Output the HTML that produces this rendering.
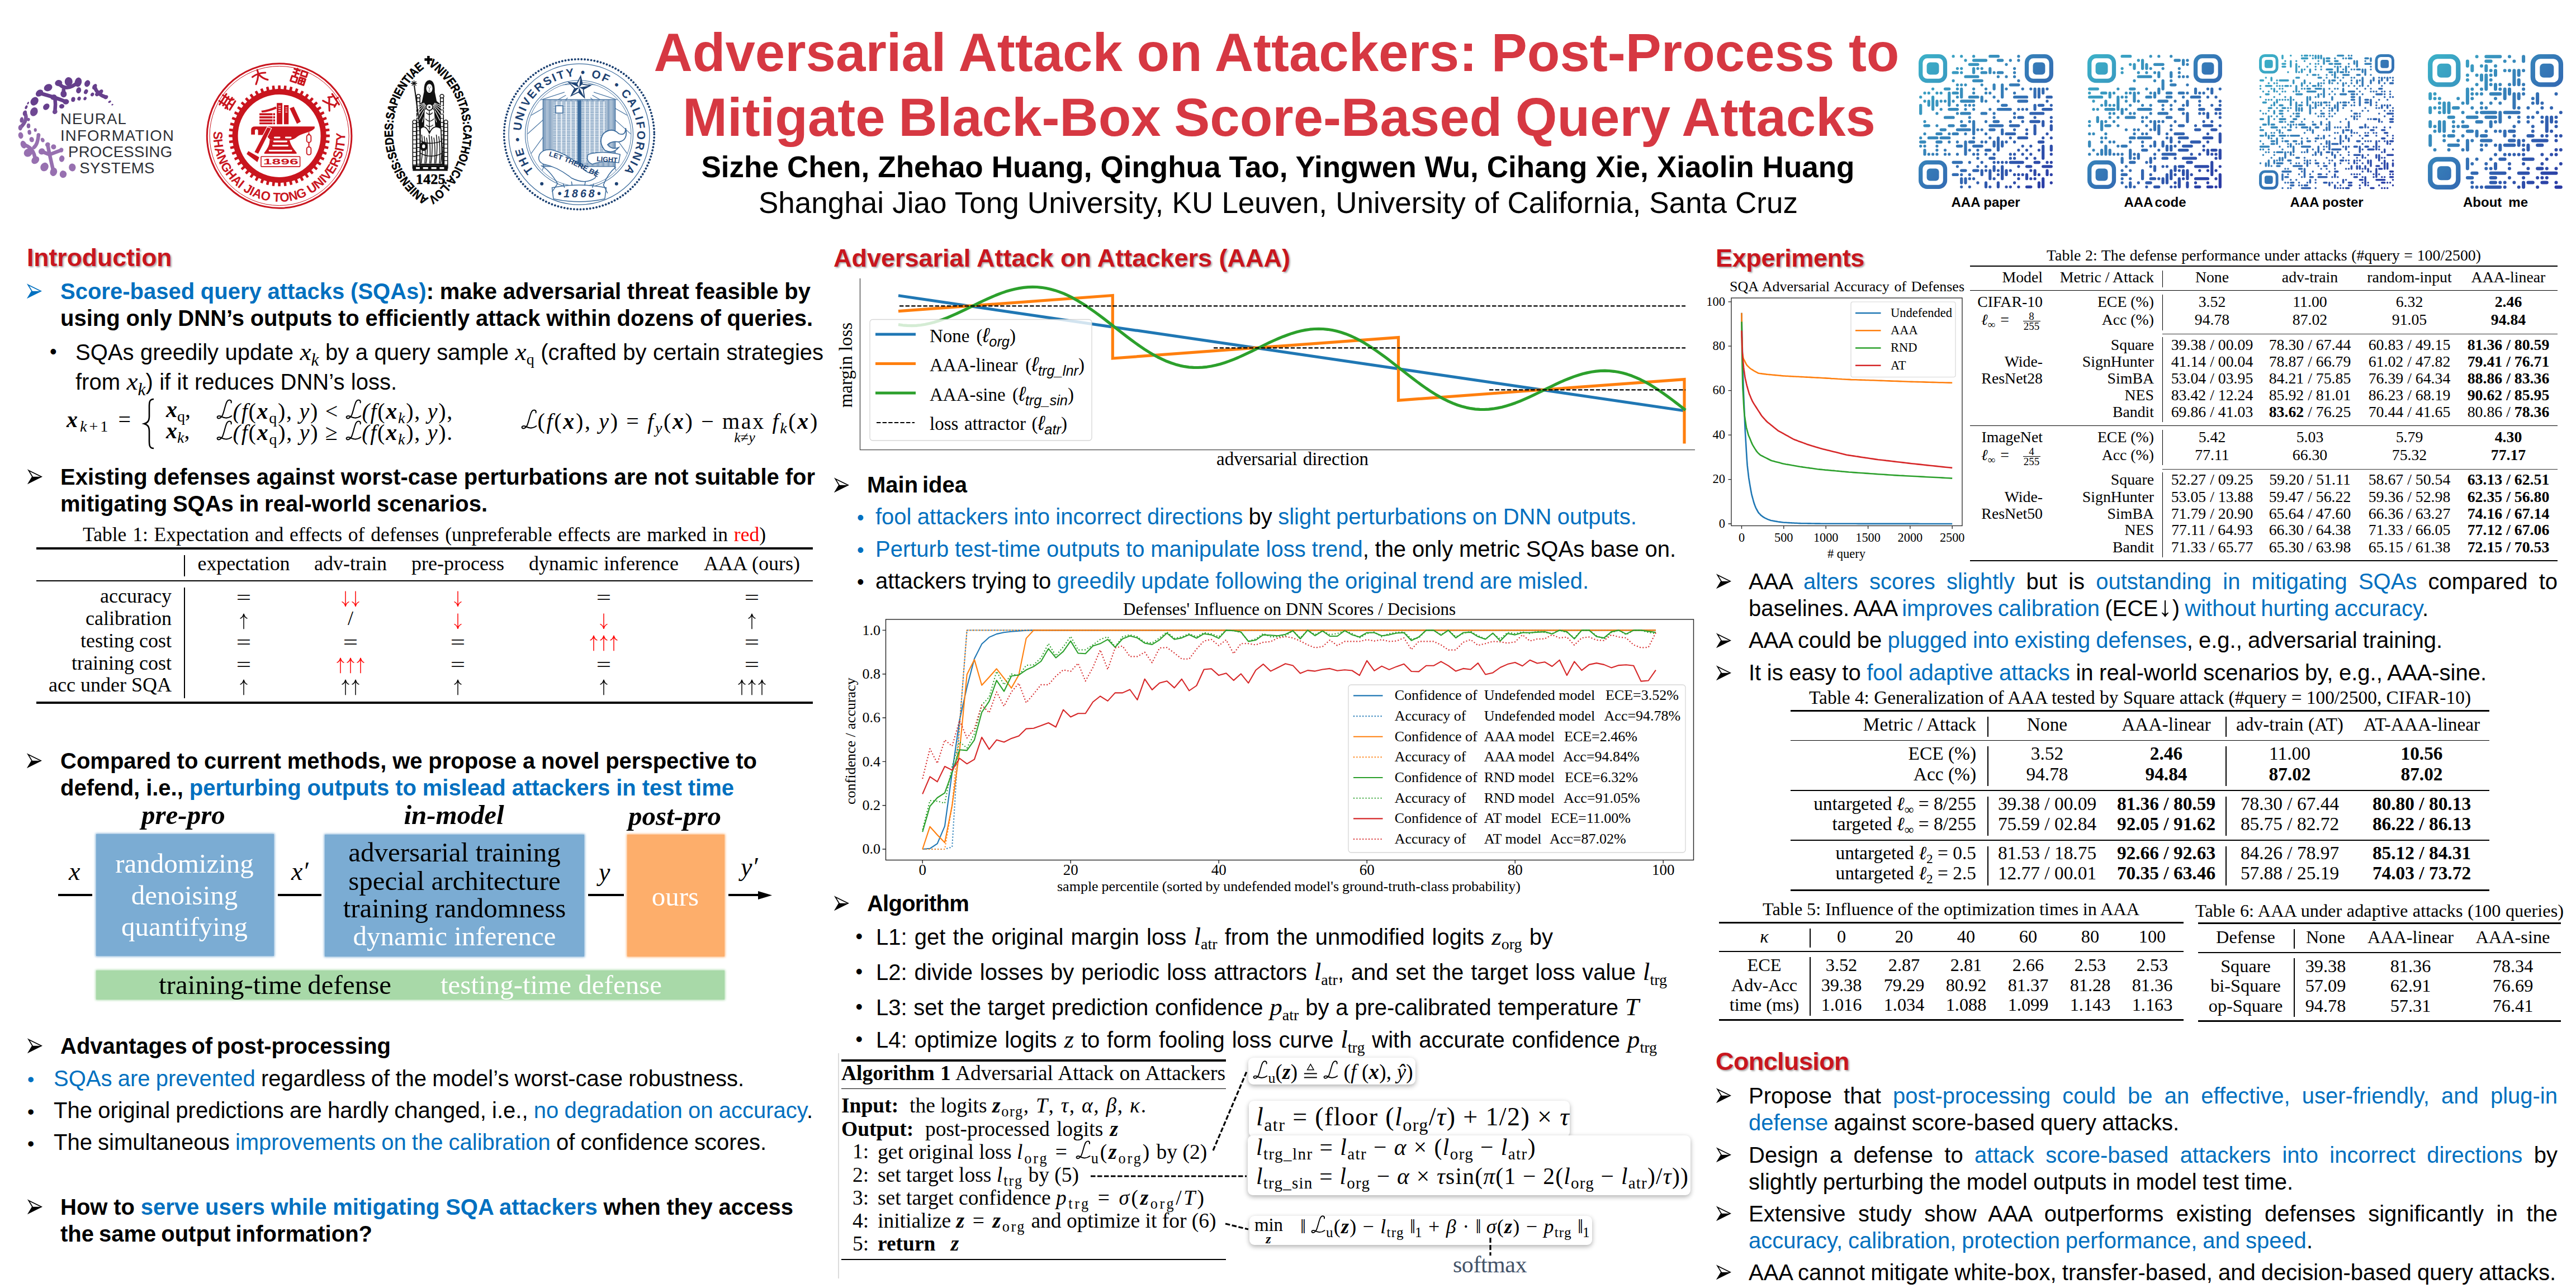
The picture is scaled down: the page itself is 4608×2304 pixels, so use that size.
<!DOCTYPE html>
<html lang="en"><head><meta charset="utf-8"><title>AAA poster</title>
<style>

html,body{margin:0;padding:0;background:#fff;}
#page{position:relative;width:4608px;height:2304px;overflow:hidden;background:#fff;font-family:"Liberation Sans",sans-serif;color:#000;}
.t{position:absolute;white-space:nowrap;line-height:1;}
.s{font-family:"Liberation Sans",sans-serif;}
.r{font-family:"Liberation Serif",serif;}
.b{color:#0070c0;}
.rd{color:#ff0000;}
.m{font-family:"Liberation Serif",serif;font-style:italic;}
.mr{font-family:"Liberation Serif",serif;font-style:normal;}
.bi{font-family:"Liberation Serif",serif;font-style:italic;font-weight:bold;}
sub,sup{font-size:.7em;line-height:0;position:relative;vertical-align:baseline;}
sub{top:.3em;}
sup{top:-.45em;}
svg{position:absolute;overflow:visible;}
.h{color:#c8161e;font-weight:bold;text-shadow:2px 2px 3px rgba(0,0,0,.35);}
.bx{position:absolute;}
.ln{position:absolute;background:#000;}
svg.cl{position:static;display:inline-block;width:.74em;height:.97em;vertical-align:-.06em;overflow:visible;}
.eq{display:inline-block;transform:scaleX(1.3);position:relative;top:.08em;}
svg.ua{position:static;display:inline-block;width:.5em;height:.8em;vertical-align:-.2em;overflow:visible;}
.m sub{font-style:italic;}
.ds{font-family:"Liberation Sans",sans-serif;font-style:italic;font-size:1.1em;}
.mm{font-size:1.13em;}
svg.deq{position:static;display:inline-block;width:.72em;height:.86em;vertical-align:-.08em;overflow:visible;}
.nb{letter-spacing:-.03em;}
.n0{letter-spacing:0;}

</style></head>
<body>
<div id="page">
<div class="t s" style="left:1169.5px;top:45.7px;font-size:96px;color:#d63842;font-weight:bold;word-spacing:-1.137px;">Adversarial Attack on Attackers: Post-Process to</div>
<div class="t s" style="left:1221.0px;top:161.7px;font-size:96px;color:#d63842;font-weight:bold;word-spacing:-3.125px;">Mitigate Black-Box Score-Based Query Attacks</div>
<div class="t s" style="left:1254.5px;top:271.6px;font-size:53px;font-weight:bold;word-spacing:0.339px;">Sizhe Chen, Zhehao Huang, Qinghua Tao, Yingwen Wu, Cihang Xie, Xiaolin Huang</div>
<div class="t s" style="left:1357.0px;top:335.6px;font-size:53px;word-spacing:0.503px;">Shanghai Jiao Tong University, KU Leuven, University of California, Santa Cruz</div>
<div class="t s" style="left:3490.5px;top:349.7px;font-size:24px;font-weight:bold;">AAA paper</div>
<div class="t s" style="left:3799.5px;top:349.7px;font-size:24px;font-weight:bold;word-spacing:-2.797px;">AAA code</div>
<div class="t s" style="left:4096.5px;top:349.7px;font-size:24px;font-weight:bold;">AAA poster</div>
<div class="t s" style="left:4406.0px;top:349.7px;font-size:24px;font-weight:bold;word-spacing:5.328px;">About me</div>
<svg style="left:0;top:100px" width="360" height="260" viewBox="0 100 360 260"><g transform="translate(20 120) scale(.1631)"><path d="M520 175 C575 250 650 235 735 165" fill="none" stroke="#663f8c" stroke-width="40" stroke-linecap="round"/><path d="M310 285 C400 310 480 330 600 380" fill="none" stroke="#663f8c" stroke-width="40" stroke-linecap="round"/><path d="M480 330 Q490 410 480 490" fill="none" stroke="#663f8c" stroke-width="40" stroke-linecap="round"/><path d="M575 250 L575 295" fill="none" stroke="#663f8c" stroke-width="40" stroke-linecap="round"/><path d="M915 215 Q940 300 1040 330" fill="none" stroke="#663f8c" stroke-width="40" stroke-linecap="round"/><path d="M940 300 L985 270" fill="none" stroke="#663f8c" stroke-width="40" stroke-linecap="round"/><path d="M150 505 Q190 575 100 665" fill="none" stroke="#7d569d" stroke-width="40" stroke-linecap="round"/><path d="M135 850 Q250 880 265 1020" fill="none" stroke="#9770b0" stroke-width="40" stroke-linecap="round"/><path d="M300 745 Q290 850 250 880" fill="none" stroke="#9770b0" stroke-width="40" stroke-linecap="round"/><path d="M400 850 Q420 960 465 1150" fill="none" stroke="#9770b0" stroke-width="40" stroke-linecap="round"/><path d="M420 960 L550 910" fill="none" stroke="#9770b0" stroke-width="40" stroke-linecap="round"/><path d="M335 925 L420 960" fill="none" stroke="#9770b0" stroke-width="40" stroke-linecap="round"/><ellipse cx="630" cy="160" rx="43" ry="49" fill="#663f8c" transform="rotate(1 630 160)"/><ellipse cx="735" cy="165" rx="38" ry="52" fill="#663f8c" transform="rotate(13 735 165)"/><ellipse cx="835" cy="180" rx="30" ry="38" fill="#663f8c" transform="rotate(24 835 180)"/><ellipse cx="915" cy="215" rx="22" ry="34" fill="#663f8c" transform="rotate(33 915 215)"/><ellipse cx="985" cy="270" rx="19" ry="27" fill="#663f8c" transform="rotate(43 985 270)"/><ellipse cx="520" cy="175" rx="40" ry="34" fill="#663f8c" transform="rotate(-12 520 175)"/><ellipse cx="405" cy="225" rx="47" ry="38" fill="#663f8c" transform="rotate(-27 405 225)"/><ellipse cx="310" cy="285" rx="45" ry="34" fill="#663f8c" transform="rotate(-40 310 285)"/><ellipse cx="255" cy="375" rx="50" ry="40" fill="#663f8c" transform="rotate(-52 255 375)"/><ellipse cx="250" cy="490" rx="50" ry="40" fill="#6f4893" transform="rotate(-65 250 490)"/><ellipse cx="385" cy="435" rx="39" ry="31" fill="#67408d" transform="rotate(-46 385 435)"/><ellipse cx="555" cy="430" rx="28" ry="25" fill="#663f8c" transform="rotate(-16 555 430)"/><ellipse cx="575" cy="295" rx="34" ry="38" fill="#663f8c" transform="rotate(-7 575 295)"/><ellipse cx="740" cy="255" rx="27" ry="34" fill="#663f8c" transform="rotate(16 740 255)"/><ellipse cx="820" cy="270" rx="21" ry="28" fill="#663f8c" transform="rotate(27 820 270)"/><ellipse cx="890" cy="300" rx="18" ry="22" fill="#663f8c" transform="rotate(36 890 300)"/><ellipse cx="680" cy="355" rx="22" ry="27" fill="#663f8c" transform="rotate(11 680 355)"/><ellipse cx="745" cy="345" rx="19" ry="22" fill="#663f8c" transform="rotate(21 745 345)"/><ellipse cx="810" cy="345" rx="16" ry="20" fill="#663f8c" transform="rotate(31 810 345)"/><ellipse cx="1040" cy="330" rx="18" ry="25" fill="#663f8c" transform="rotate(51 1040 330)"/><ellipse cx="1080" cy="380" rx="11" ry="18" fill="#663f8c" transform="rotate(58 1080 380)"/><ellipse cx="1110" cy="412" rx="8" ry="11" fill="#663f8c" transform="rotate(63 1110 412)"/><ellipse cx="480" cy="490" rx="28" ry="25" fill="#6f4893" transform="rotate(-40 480 490)"/><ellipse cx="600" cy="380" rx="34" ry="29" fill="#663f8c" transform="rotate(-5 600 380)"/><ellipse cx="465" cy="330" rx="34" ry="29" fill="#663f8c" transform="rotate(-25 465 330)"/><ellipse cx="185" cy="395" rx="16" ry="9" fill="#663f8c" transform="rotate(-59 185 395)"/><ellipse cx="165" cy="440" rx="22" ry="13" fill="#67408d" transform="rotate(-64 165 440)"/><ellipse cx="150" cy="505" rx="31" ry="22" fill="#714a94" transform="rotate(-72 150 505)"/><ellipse cx="115" cy="580" rx="31" ry="20" fill="#7c559c" transform="rotate(-81 115 580)"/><ellipse cx="190" cy="575" rx="18" ry="16" fill="#7c559c" transform="rotate(-79 190 575)"/><ellipse cx="100" cy="665" rx="31" ry="22" fill="#8962a6" transform="rotate(270 100 665)"/><ellipse cx="190" cy="645" rx="27" ry="20" fill="#865fa3" transform="rotate(-88 190 645)"/><ellipse cx="265" cy="690" rx="20" ry="16" fill="#8d66a8" transform="rotate(266 265 690)"/><ellipse cx="200" cy="715" rx="27" ry="20" fill="#9069ab" transform="rotate(263 200 715)"/><ellipse cx="105" cy="750" rx="36" ry="27" fill="#966faf" transform="rotate(260 105 750)"/><ellipse cx="300" cy="745" rx="20" ry="20" fill="#956eae" transform="rotate(256 300 745)"/><ellipse cx="225" cy="795" rx="29" ry="25" fill="#9770b0" transform="rotate(252 225 795)"/><ellipse cx="345" cy="800" rx="25" ry="20" fill="#9770b0" transform="rotate(244 345 800)"/><ellipse cx="135" cy="850" rx="43" ry="31" fill="#9770b0" transform="rotate(249 135 850)"/><ellipse cx="185" cy="940" rx="43" ry="47" fill="#9770b0" transform="rotate(238 185 940)"/><ellipse cx="335" cy="925" rx="34" ry="36" fill="#9770b0" transform="rotate(228 335 925)"/><ellipse cx="400" cy="850" rx="25" ry="27" fill="#9770b0" transform="rotate(230 400 850)"/><ellipse cx="465" cy="875" rx="28" ry="28" fill="#9770b0" transform="rotate(217 465 875)"/><ellipse cx="265" cy="1020" rx="38" ry="47" fill="#9770b0" transform="rotate(225 265 1020)"/><ellipse cx="365" cy="1095" rx="43" ry="49" fill="#9770b0" transform="rotate(211 365 1095)"/><ellipse cx="465" cy="1150" rx="38" ry="47" fill="#9770b0" transform="rotate(198 465 1150)"/><ellipse cx="555" cy="1005" rx="29" ry="36" fill="#9770b0" transform="rotate(191 555 1005)"/><ellipse cx="570" cy="1175" rx="38" ry="40" fill="#9770b0" transform="rotate(186 570 1175)"/><ellipse cx="670" cy="1100" rx="38" ry="43" fill="#9770b0" transform="rotate(174 670 1100)"/><ellipse cx="550" cy="910" rx="22" ry="25" fill="#9770b0" transform="rotate(196 550 910)"/></g></svg>
<div class="t s" style="left:108.0px;top:199.2px;font-size:27.5px;color:#2d3036;letter-spacing:1.240px;">NEURAL</div>
<div class="t s" style="left:108.0px;top:229.2px;font-size:27.5px;color:#2d3036;letter-spacing:1.232px;">INFORMATION</div>
<div class="t s" style="left:122.0px;top:258.2px;font-size:27.5px;color:#2d3036;letter-spacing:0.312px;">PROCESSING</div>
<div class="t s" style="left:142.3px;top:286.7px;font-size:27.5px;color:#2d3036;letter-spacing:0.440px;">SYSTEMS</div>
<svg style="left:360px;top:105px" width="285" height="285" viewBox="360 105 285 285"><circle cx="499.6" cy="243.0" r="129.3" fill="#fff" stroke="#c9151e" stroke-width="3"/><circle cx="499.6" cy="243.0" r="124.6" fill="none" stroke="#c9151e" stroke-width="1"/><path d="M583.4 237.9 L583.6 240.6 L589.9 240.8 L589.9 245.2 L583.6 245.4 L583.4 248.1 L583.2 250.7 L589.5 251.7 L589.0 256.0 L582.7 255.5 L582.2 258.1 L581.7 260.7 L587.8 262.5 L586.7 266.7 L580.5 265.5 L579.8 268.0 L579.0 270.5 L584.8 273.0 L583.2 277.1 L577.2 275.1 L576.2 277.5 L575.1 279.9 L580.5 283.0 L578.5 286.9 L572.8 284.2 L571.5 286.5 L570.1 288.7 L575.1 292.5 L572.7 296.1 L567.3 292.7 L565.7 294.8 L564.1 296.9 L568.6 301.2 L565.7 304.5 L560.8 300.5 L559.0 302.4 L557.1 304.2 L561.1 309.1 L557.8 312.0 L553.5 307.5 L551.4 309.1 L549.3 310.7 L552.7 316.1 L549.1 318.5 L545.3 313.5 L543.1 314.9 L540.8 316.2 L543.5 321.9 L539.6 323.9 L536.5 318.5 L534.1 319.6 L531.7 320.6 L533.7 326.6 L529.6 328.2 L527.1 322.4 L524.6 323.2 L522.1 323.9 L523.3 330.1 L519.1 331.2 L517.3 325.1 L514.7 325.6 L512.1 326.1 L512.6 332.4 L508.3 332.9 L507.3 326.6 L504.7 326.8 L502.0 327.0 L501.8 333.3 L497.4 333.3 L497.2 327.0 L494.5 326.8 L491.9 326.6 L490.9 332.9 L486.6 332.4 L487.1 326.1 L484.5 325.6 L481.9 325.1 L480.1 331.2 L475.9 330.1 L477.1 323.9 L474.6 323.2 L472.1 322.4 L469.6 328.2 L465.5 326.6 L467.5 320.6 L465.1 319.6 L462.7 318.5 L459.6 323.9 L455.7 321.9 L458.4 316.2 L456.1 314.9 L453.9 313.5 L450.1 318.5 L446.5 316.1 L449.9 310.7 L447.8 309.1 L445.7 307.5 L441.4 312.0 L438.1 309.1 L442.1 304.2 L440.2 302.4 L438.4 300.5 L433.5 304.5 L430.6 301.2 L435.1 296.9 L433.5 294.8 L431.9 292.7 L426.5 296.1 L424.1 292.5 L429.1 288.7 L427.7 286.5 L426.4 284.2 L420.7 286.9 L418.7 283.0 L424.1 279.9 L423.0 277.5 L422.0 275.1 L416.0 277.1 L414.4 273.0 L420.2 270.5 L419.4 268.0 L418.7 265.5 L412.5 266.7 L411.4 262.5 L417.5 260.7 L417.0 258.1 L416.5 255.5 L410.2 256.0 L409.7 251.7 L416.0 250.7 L415.8 248.1 L415.6 245.4 L409.3 245.2 L409.3 240.8 L415.6 240.6 L415.8 237.9 L416.0 235.3 L409.7 234.3 L410.2 230.0 L416.5 230.5 L417.0 227.9 L417.5 225.3 L411.4 223.5 L412.5 219.3 L418.7 220.5 L419.4 218.0 L420.2 215.5 L414.4 213.0 L416.0 208.9 L422.0 210.9 L423.0 208.5 L424.1 206.1 L418.7 203.0 L420.7 199.1 L426.4 201.8 L427.7 199.5 L429.1 197.3 L424.1 193.5 L426.5 189.9 L431.9 193.3 L433.5 191.2 L435.1 189.1 L430.6 184.8 L433.5 181.5 L438.4 185.5 L440.2 183.6 L442.1 181.8 L438.1 176.9 L441.4 174.0 L445.7 178.5 L447.8 176.9 L449.9 175.3 L446.5 169.9 L450.1 167.5 L453.9 172.5 L456.1 171.1 L458.4 169.8 L455.7 164.1 L459.6 162.1 L462.7 167.5 L465.1 166.4 L467.5 165.4 L465.5 159.4 L469.6 157.8 L472.1 163.6 L474.6 162.8 L477.1 162.1 L475.9 155.9 L480.1 154.8 L481.9 160.9 L484.5 160.4 L487.1 159.9 L486.6 153.6 L490.9 153.1 L491.9 159.4 L494.5 159.2 L497.2 159.0 L497.4 152.7 L501.8 152.7 L502.0 159.0 L504.7 159.2 L507.3 159.4 L508.3 153.1 L512.6 153.6 L512.1 159.9 L514.7 160.4 L517.3 160.9 L519.1 154.8 L523.3 155.9 L522.1 162.1 L524.6 162.8 L527.1 163.6 L529.6 157.8 L533.7 159.4 L531.7 165.4 L534.1 166.4 L536.5 167.5 L539.6 162.1 L543.5 164.1 L540.8 169.8 L543.1 171.1 L545.3 172.5 L549.1 167.5 L552.7 169.9 L549.3 175.3 L551.4 176.9 L553.5 178.5 L557.8 174.0 L561.1 176.9 L557.1 181.8 L559.0 183.6 L560.8 185.5 L565.7 181.5 L568.6 184.8 L564.1 189.1 L565.7 191.2 L567.3 193.3 L572.7 189.9 L575.1 193.5 L570.1 197.3 L571.5 199.5 L572.8 201.8 L578.5 199.1 L580.5 203.0 L575.1 206.1 L576.2 208.5 L577.2 210.9 L583.2 208.9 L584.8 213.0 L579.0 215.5 L579.8 218.0 L580.5 220.5 L586.7 219.3 L587.8 223.5 L581.7 225.3 L582.2 227.9 L582.7 230.5 L589.0 230.0 L589.5 234.3 L583.2 235.3 Z M573.6 243.0 A74.0 74.0 0 1 0 425.6 243.0 A74.0 74.0 0 1 0 573.6 243.0 Z" fill="#c9151e" fill-rule="evenodd"/><path id="sjp" d="M382.1 234.8 A117.8 117.8 0 1 0 617.1 234.8" fill="none"/><text font-family="Liberation Sans, sans-serif" font-weight="bold" font-size="23" fill="#c9151e" textLength="384" lengthAdjust="spacingAndGlyphs"><textPath href="#sjp" textLength="384" lengthAdjust="spacingAndGlyphs">SHANGHAI JIAO TONG UNIVERSITY</textPath></text><g transform="translate(405.7 182.0) rotate(-57) scale(1.02)" stroke="#c9151e" stroke-width="3.1" fill="none" stroke-linecap="round" stroke-linejoin="round"><path d="M-11 -8 H11 M-9 -2 H9 M-11 4 H11 M-6 -12 V4 M6 -12 V4 M0 4 V12 M-9 12 H9 M-10 8 L-7 5 M10 8 L7 5"/></g><g transform="translate(464.1 136.8) rotate(-18.5) scale(1.02)" stroke="#c9151e" stroke-width="3.1" fill="none" stroke-linecap="round" stroke-linejoin="round"><path d="M-12 -3 Q0 -7 12 -3 M0 -12 Q1 -2 -10 11 M1 -2 Q5 6 12 10"/></g><g transform="translate(535.1 136.8) rotate(18.5) scale(1.02)" stroke="#c9151e" stroke-width="3.1" fill="none" stroke-linecap="round" stroke-linejoin="round"><path d="M-12 -10 H-2 M-12 -4 H-2 M-7 -12 V2 M-12 3 H-2 V12 H-12 Z M2 -11 H12 V-3 H2 Z M2 1 H12 V12 H2 Z M2 6 H12 M7 1 V12"/></g><g transform="translate(593.5 182.0) rotate(57) scale(1.02)" stroke="#c9151e" stroke-width="3.1" fill="none" stroke-linecap="round" stroke-linejoin="round"><path d="M-11 -8 H11 M0 -13 V-8 M-7 -5 L-10 1 M7 -5 L10 1 M-10 12 Q2 6 8 -1 M-8 0 Q0 6 11 12"/></g><g transform="translate(420 170) scale(.1242)" fill="#c9151e" stroke="none"><path d="M235 570 V500 Q235 452 295 452 H1150 V480 Q1110 525 1040 540 Q950 565 900 600 Q850 645 790 650 H510 Q480 600 430 575 H335 V505 Q310 480 290 505 V570 Z"/><path d="M500 650 H790 Q800 725 890 830 V846 H425 V830 Q510 725 500 650 Z"/><path d="M575 612 H645 M735 612 H805 M565 668 H745 M552 728 H760 M500 802 H815" stroke="#fff" stroke-width="24" stroke-linecap="round"/><path d="M380 225 Q480 215 590 165 L603 195 Q500 242 392 252 Z M355 262 H580 V292 H355 Z M355 305 H580 V337 H355 Z M355 350 H580 V382 H355 Z M355 394 H580 V420 H355 Z"/><path d="M548 255 V425" stroke="#fff" stroke-width="9"/><path d="M605 115 H685 V420 H605 Z M708 145 H775 V420 H708 Z M790 192 L850 170 L950 385 L895 415 Z"/><path d="M628 160 h34 M628 190 h34 M628 220 h34 M628 250 h34 M728 185 h30 M728 215 h30 M728 245 h30" stroke="#fff" stroke-width="9"/><path d="M470 465 L522 482 L337 846 L285 822 Z" stroke="#fff" stroke-width="20"/><path d="M470 465 L522 482 L337 846 L285 822 Z M195 808 L352 896 L325 966 L170 850 Z"/><path d="M1067 538 V578 M1067 678 V752" stroke="#c9151e" stroke-width="16"/><rect x="1036" y="572" width="62" height="110" rx="28" fill="none" stroke="#c9151e" stroke-width="15"/><rect x="1036" y="748" width="62" height="112" rx="28" fill="none" stroke="#c9151e" stroke-width="15"/><rect x="378" y="886" width="561" height="146" rx="10" fill="#fff" stroke="#c9151e" stroke-width="13"/><text x="662" y="1000" font-family="Liberation Sans, sans-serif" font-weight="bold" font-size="112" text-anchor="middle" textLength="505" lengthAdjust="spacingAndGlyphs">1896</text></g></svg>
<svg style="left:670px;top:90px" width="195" height="295" viewBox="670 90 195 295"><path id="kup" d="M756.8 120.8 L765.8 116.8 A142.9 142.9 0 0 1 765.8 353.8 A142.9 142.9 0 0 1 765.8 116.8" fill="none"/><text font-family="Liberation Sans, sans-serif" font-weight="bold" font-size="21.5" fill="#000" stroke="#000" stroke-width=".55"><textPath href="#kup" startOffset="0" textLength="560" lengthAdjust="spacingAndGlyphs">&#160;&#160;VNIVERSITAS:CATHOLICA:LOVANIENSIS:SEDES:SAPIENTIAE</textPath></text><path d="M766.4 100 V115 M759.4 106.5 H773.4" stroke="#000" stroke-width="4.4"/><g transform="translate(660.5 98.4) scale(.2289 .2193)" stroke-linejoin="round"><rect x="340" y="560" width="28" height="365" fill="#fff" stroke="#111" stroke-width="7"/><path d="M340 590 H368 M340 624 H368 M340 658 H368 M340 692 H368 M340 726 H368 M340 760 H368 M340 794 H368 M340 828 H368 M340 862 H368 M340 896 H368" stroke="#111" stroke-width="6"/><circle cx="354.0" cy="546" r="15" fill="#fff" stroke="#111" stroke-width="7"/><rect x="585" y="560" width="28" height="365" fill="#fff" stroke="#111" stroke-width="7"/><path d="M585 590 H613 M585 624 H613 M585 658 H613 M585 692 H613 M585 726 H613 M585 760 H613 M585 794 H613 M585 828 H613 M585 862 H613 M585 896 H613" stroke="#111" stroke-width="6"/><circle cx="599.0" cy="546" r="15" fill="#fff" stroke="#111" stroke-width="7"/><rect x="372" y="350" width="24" height="575" fill="#fff" stroke="#111" stroke-width="7"/><path d="M372 380 H396 M372 414 H396 M372 448 H396 M372 482 H396 M372 516 H396 M372 550 H396 M372 584 H396 M372 618 H396 M372 652 H396 M372 686 H396 M372 720 H396 M372 754 H396 M372 788 H396 M372 822 H396 M372 856 H396 M372 890 H396 M372 924 H396" stroke="#111" stroke-width="6"/><circle cx="384.0" cy="336" r="15" fill="#fff" stroke="#111" stroke-width="7"/><rect x="556" y="350" width="24" height="575" fill="#fff" stroke="#111" stroke-width="7"/><path d="M556 380 H580 M556 414 H580 M556 448 H580 M556 482 H580 M556 516 H580 M556 550 H580 M556 584 H580 M556 618 H580 M556 652 H580 M556 686 H580 M556 720 H580 M556 754 H580 M556 788 H580 M556 822 H580 M556 856 H580 M556 890 H580 M556 924 H580" stroke="#111" stroke-width="6"/><circle cx="568.0" cy="336" r="15" fill="#fff" stroke="#111" stroke-width="7"/><rect x="340" y="900" width="273" height="45" fill="#111"/><path d="M365 922 h30 M420 922 h40 M485 922 h40 M550 922 h35" stroke="#fff" stroke-width="14"/><path d="M470 330 L400 395 L385 560 L400 700 L395 900 L580 900 L570 700 L560 560 L550 395 Z" fill="#111"/><path d="M509 392 L616 436 M507 397 L607 465 M503 402 L593 492 M498 407 L574 515 M492 410 L552 534 M485 413 L526 548 M478 414 L499 557 M470 415 L470 560 M462 414 L441 557 M455 413 L414 548 M448 410 L388 534 M442 407 L366 515 M437 402 L347 492 M433 397 L333 465 M431 392 L324 436" stroke="#fff" stroke-width="5"/><path d="M430 450 Q470 400 510 450 L520 600 Q470 640 425 600 Z" fill="#fff" stroke="#111" stroke-width="6"/><path d="M445 470 Q470 500 495 470 M440 520 Q470 560 505 520 M445 570 Q470 600 500 570 M470 440 V610" stroke="#111" stroke-width="6" fill="none"/><circle cx="470" cy="425" r="26" fill="#fff" stroke="#111" stroke-width="7"/><circle cx="470" cy="425" r="8" fill="#111"/><path d="M400 600 Q440 560 470 640 Q500 560 560 600 L572 890 L398 890 Z" fill="#fff" stroke="#111" stroke-width="7"/><path d="M410 650 Q424 760 406 885 M429 662 Q443 760 435 885 M448 674 Q462 760 444 885 M467 650 Q481 760 473 885 M486 662 Q500 760 482 885 M505 674 Q519 760 511 885 M524 650 Q538 760 520 885 M543 662 Q557 760 549 885 M562 674 Q576 760 558 885" stroke="#111" stroke-width="6.5" fill="none"/><path d="M400 700 Q480 740 570 700 M398 800 Q480 850 572 800" stroke="#111" stroke-width="7" fill="none"/><ellipse cx="425" cy="745" rx="30" ry="38" fill="#111"/><ellipse cx="425" cy="745" rx="12" ry="16" fill="#fff"/><path d="M470 205 Q425 210 428 300 L410 390 L530 390 L512 300 Q515 210 470 205 Z" fill="#111"/><ellipse cx="470" cy="272" rx="24" ry="36" fill="#fff"/><path d="M458 262 h8 M476 262 h8 M470 268 V284 M462 294 H478" stroke="#111" stroke-width="4"/><path d="M352 250 L392 560" stroke="#111" stroke-width="9"/><path d="M350 232 L374 232 M350 232 L367 249 M350 232 L350 256 M350 232 L333 249 M350 232 L326 232 M350 232 L333 215 M350 232 L350 208 M350 232 L367 215" stroke="#111" stroke-width="6"/><circle cx="350" cy="232" r="9" fill="#111"/></g><text x="770.2" y="328.7" font-family="Liberation Serif, serif" font-weight="bold" font-size="25.5" text-anchor="middle" textLength="52.5" lengthAdjust="spacing" stroke="#000" stroke-width=".7">1425</text></svg>
<svg style="left:890px;top:95px" width="295" height="295" viewBox="890 95 295 295"><circle cx="1036.0" cy="240.2" r="134.3" fill="none" stroke="#1c4172" stroke-width="3.9" stroke-dasharray="0.01 5.78" stroke-linecap="round"/><circle cx="1036.0" cy="240.2" r="126" fill="none" stroke="#3a6a9b" stroke-width="1.2"/><circle cx="1036.0" cy="240.2" r="96.5" fill="none" stroke="#3a6a9b" stroke-width="1.1"/><circle cx="1036.0" cy="240.2" r="93" fill="none" stroke="#3a6a9b" stroke-width=".9"/><path id="ucp" d="M955.2 305.6 A104.0 104.0 0 1 1 1116.8 305.6" fill="none"/><text font-family="Liberation Sans, sans-serif" font-weight="bold" font-size="20.5" fill="#1c4172"><textPath href="#ucp" textLength="468" lengthAdjust="spacing">THE &#8226; UNIVERSITY &#8226; OF &#8226; CALIFORNIA</textPath></text><circle cx="969.2" cy="328.8" r="3" fill="#1c4172"/><circle cx="1102.8" cy="328.8" r="3" fill="#1c4172"/><defs><pattern id="uch" width="34" height="11" patternUnits="userSpaceOnUse"><rect width="34" height="11" fill="#f2f6fa"/><rect y="3" width="26" height="5.2" fill="#3a6a9b" opacity=".78"/></pattern><pattern id="ucv" width="9" height="6" patternUnits="userSpaceOnUse"><rect width="9" height="6" fill="#fff"/><rect x="2" width="4.5" height="6" fill="#3a6a9b"/></pattern><clipPath id="ucc"><circle cx="1755" cy="645" r="372"/></clipPath></defs><g transform="translate(600 80) scale(.2484)"><path d="M1860 342 L2611 586 M1850 363 L2534 758 M1837 382 L2424 910 M1820 397 L2284 1036 M1800 408 L2121 1130 M1710 408 L1389 1130 M1690 397 L1226 1036 M1673 382 L1086 910 M1660 363 L976 758 M1650 342 L899 586" stroke="#3a6a9b" stroke-width="5" opacity=".9" clip-path="url(#ucc)"/><path d="M1688 286 L1536 297 M1694 273 L1556 253 M1703 261 L1584 214 M1714 251 L1620 182 M1727 244 L1661 158 M1740 240 L1707 143 M1755 238 L1755 138 M1770 240 L1803 143 M1783 244 L1849 158 M1796 251 L1890 182 M1807 261 L1926 214 M1816 273 L1954 253 M1822 286 L1974 297" stroke="#3a6a9b" stroke-width="4" clip-path="url(#ucc)"/><rect x="1495" y="395" width="520" height="482" fill="url(#ucv)" stroke="#3a6a9b" stroke-width="5"/><rect x="1568" y="408" width="180" height="440" fill="url(#uch)"/><rect x="1766" y="408" width="180" height="440" fill="url(#uch)"/><rect x="1744" y="400" width="26" height="470" fill="#3a6a9b"/><rect x="1586" y="440" width="52" height="52" fill="#fff" stroke="#3a6a9b" stroke-width="6"/><path d="M1766 227 L1778 284 L1836 294 L1785 322 L1793 380 L1750 341 L1698 367 L1723 314 L1681 272 L1740 279 Z" fill="#fff" stroke="#1c4172" stroke-width="7"/><path d="M1755 308 L1766 227 L1778 284 Z M1755 308 L1793 380 L1750 341 Z M1755 308 L1681 272 L1740 279 Z M1755 308 L1836 294 L1785 322 Z M1755 308 L1698 367 L1723 314 Z" fill="#1c4172"/><path d="M1470 790 Q1500 745 1570 760 Q1700 800 1790 900 Q1850 950 1890 900 L1870 960 Q1800 1010 1700 960 Q1600 880 1500 860 Q1450 840 1470 790 Z" fill="#fff" stroke="#3a6a9b" stroke-width="6"/><path d="M1820 790 Q1920 760 2050 790 L2040 850 Q1930 830 1850 860 Q1800 840 1820 790 Z" fill="#fff" stroke="#3a6a9b" stroke-width="6"/><path d="M1930 640 Q1990 590 2040 640 Q2090 660 2090 600 Q2110 690 2040 700 Q1990 690 1960 720 Q1990 760 2040 740 Q2000 790 1940 760 Q1890 700 1930 640 Z" fill="#fff" stroke="#3a6a9b" stroke-width="7"/><path id="ucr1" d="M1535 800 Q1700 850 1880 950" fill="none"/><text font-family="Liberation Sans, sans-serif" font-weight="bold" font-size="50" fill="#1c4172"><textPath href="#ucr1" textLength="385" lengthAdjust="spacingAndGlyphs">LET THERE BE</textPath></text><text x="1880" y="838" font-family="Liberation Sans, sans-serif" font-weight="bold" font-size="50" fill="#1c4172" textLength="150" lengthAdjust="spacingAndGlyphs" transform="rotate(4 1880 838)">LIGHT</text><path d="M1560 1030 Q1755 990 1950 1030 L1940 1110 Q1755 1150 1570 1110 Z" fill="#fff" stroke="#3a6a9b" stroke-width="6"/><path d="M1480 870 Q1540 900 1600 1000 L1560 1060 M2020 880 Q1960 930 1930 1010 L1960 1070 M1640 1000 L1650 1030 M1860 1000 L1850 1030 M1700 985 L1705 1015 M1800 985 L1795 1015" fill="none" stroke="#3a6a9b" stroke-width="6"/><text x="1755" y="1100" font-family="Liberation Sans, sans-serif" font-weight="bold" font-size="78" font-style="italic" fill="#1c4172" text-anchor="middle" textLength="310" lengthAdjust="spacing">&#8226;1868&#8226;</text></g></svg>
<svg style="left:3432px;top:97px" width="241" height="241" viewBox="0 0 241 241"><defs><linearGradient id="qg11" gradientUnits="userSpaceOnUse" x1="0" y1="0" x2="241" y2="241"><stop offset="0" stop-color="#3cb2c8"/><stop offset=".5" stop-color="#3577b6"/><stop offset="1" stop-color="#2a38a4"/></linearGradient></defs><path d="M208.1 91.3L208.1 98.6M32.9 157.0L40.2 157.0M149.7 157.0L149.7 164.3M25.6 178.9h.01M120.5 230.0L120.5 237.3M76.7 84.0L98.6 84.0M11.0 171.6L11.0 178.9M164.3 193.5L186.2 193.5M91.3 222.7h.01M135.1 157.0L135.1 164.3M91.3 113.2h.01M84.0 157.0L84.0 178.9M54.8 127.8L62.1 127.8M200.8 105.9L222.7 105.9M200.8 178.9h.01M76.7 62.1L76.7 76.7M91.3 91.3h.01M178.9 222.7h.01M237.3 113.2h.01M171.6 32.9h.01M208.1 62.1L208.1 76.7M47.5 62.1L54.8 62.1M98.6 149.7h.01M157.0 142.4L171.6 142.4M40.2 149.7L54.8 149.7M11.0 127.8L18.3 127.8M76.7 32.9h.01M193.5 200.8L200.8 200.8M178.9 149.7L193.5 149.7M98.6 164.3L113.2 164.3M230.0 62.1h.01M3.7 91.3L3.7 105.9M178.9 11.0h.01M47.5 113.2L62.1 113.2M84.0 222.7L84.0 230.0M11.0 84.0h.01M105.9 230.0h.01M98.6 47.5L113.2 47.5M76.7 127.8L84.0 127.8M113.2 76.7L113.2 84.0M200.8 222.7h.01M32.9 127.8h.01M142.4 11.0L149.7 11.0M237.3 178.9h.01M47.5 178.9h.01M186.2 164.3h.01M98.6 222.7h.01M25.6 76.7L25.6 98.6M54.8 98.6L69.4 98.6M84.0 91.3h.01M171.6 76.7L193.5 76.7M127.8 3.7L142.4 3.7M18.3 178.9h.01M208.1 127.8L208.1 142.4M84.0 11.0h.01M178.9 47.5h.01M120.5 208.1h.01M40.2 135.1L47.5 135.1M222.7 98.6L237.3 98.6M142.4 149.7L142.4 171.6M54.8 69.4L54.8 91.3M69.4 200.8h.01M171.6 157.0h.01M237.3 120.5h.01M120.5 157.0h.01M208.1 193.5L215.4 193.5M215.4 230.0L215.4 237.3M164.3 237.3h.01M149.7 200.8L149.7 222.7M142.4 193.5h.01M62.1 215.4L69.4 215.4M62.1 3.7h.01M178.9 84.0L193.5 84.0M127.8 25.6L127.8 32.9M40.2 69.4h.01M135.1 193.5h.01M120.5 171.6L127.8 171.6M11.0 69.4h.01M157.0 208.1L157.0 215.4M113.2 208.1L113.2 215.4M127.8 127.8L149.7 127.8M149.7 91.3L157.0 91.3M98.6 98.6h.01M135.1 120.5L142.4 120.5M171.6 40.2h.01M32.9 178.9h.01M149.7 135.1L149.7 142.4M54.8 142.4h.01M157.0 62.1h.01M215.4 62.1L215.4 76.7M120.5 178.9h.01M193.5 98.6h.01M84.0 40.2L105.9 40.2M98.6 11.0L120.5 11.0M230.0 84.0h.01M62.1 193.5L76.7 193.5M91.3 171.6h.01M113.2 32.9L120.5 32.9M222.7 200.8L237.3 200.8M91.3 18.3L105.9 18.3M178.9 113.2L186.2 113.2M3.7 157.0L11.0 157.0M98.6 25.6L98.6 32.9M91.3 193.5h.01M135.1 32.9h.01M215.4 157.0L222.7 157.0M76.7 237.3h.01M11.0 142.4h.01M127.8 98.6h.01M135.1 54.8L135.1 62.1M142.4 98.6L164.3 98.6M135.1 200.8L135.1 208.1M32.9 69.4h.01M157.0 237.3h.01M40.2 98.6h.01M222.7 164.3L222.7 186.2M135.1 178.9h.01M120.5 84.0h.01M178.9 3.7h.01M98.6 120.5L98.6 142.4M215.4 171.6h.01M237.3 127.8L237.3 135.1M149.7 193.5h.01M98.6 69.4h.01M127.8 186.2L135.1 186.2M157.0 157.0h.01M135.1 113.2h.01M11.0 164.3h.01M105.9 25.6h.01M120.5 69.4h.01M230.0 193.5h.01M105.9 186.2h.01M76.7 215.4h.01M208.1 186.2h.01M193.5 142.4h.01M157.0 18.3h.01M164.3 178.9h.01M171.6 113.2h.01M171.6 25.6h.01M62.1 84.0h.01M62.1 32.9L69.4 32.9M193.5 171.6h.01M69.4 25.6h.01M84.0 54.8h.01M230.0 208.1L230.0 215.4M76.7 3.7h.01M69.4 178.9h.01M186.2 98.6h.01M149.7 54.8L149.7 76.7M18.3 84.0L18.3 91.3M98.6 208.1L105.9 208.1M237.3 91.3h.01M113.2 157.0h.01M113.2 193.5h.01M178.9 98.6h.01M120.5 62.1h.01M178.9 171.6h.01M230.0 76.7L237.3 76.7M32.9 142.4L40.2 142.4M76.7 222.7L76.7 230.0M69.4 62.1h.01M157.0 40.2h.01M237.3 149.7h.01M127.8 135.1L135.1 135.1M171.6 230.0h.01M69.4 135.1L91.3 135.1M186.2 62.1h.01M193.5 186.2h.01M127.8 237.3h.01M47.5 171.6h.01M25.6 62.1h.01M91.3 76.7L105.9 76.7M120.5 142.4h.01M113.2 25.6h.01M113.2 135.1h.01M237.3 164.3L237.3 171.6M32.9 84.0L32.9 91.3M164.3 208.1h.01M215.4 91.3L222.7 91.3M98.6 3.7h.01M142.4 32.9L149.7 32.9M208.1 222.7h.01M32.9 171.6h.01M105.9 171.6h.01M127.8 208.1L127.8 222.7M186.2 120.5h.01M222.7 149.7h.01M186.2 215.4h.01M171.6 69.4h.01M69.4 164.3L76.7 164.3M142.4 84.0h.01M98.6 62.1h.01M164.3 54.8L178.9 54.8M76.7 54.8h.01M76.7 120.5h.01M62.1 69.4L69.4 69.4M69.4 76.7h.01M40.2 84.0h.01M3.7 76.7h.01M18.3 149.7L32.9 149.7M164.3 120.5h.01M222.7 120.5L222.7 127.8M237.3 215.4h.01M62.1 142.4L69.4 142.4M120.5 120.5h.01M91.3 237.3h.01M164.3 11.0h.01M193.5 237.3L200.8 237.3M222.7 62.1L222.7 69.4M91.3 120.5h.01M157.0 193.5h.01M76.7 25.6h.01M193.5 135.1h.01M208.1 113.2h.01M91.3 157.0L98.6 157.0M200.8 164.3h.01M54.8 157.0h.01M142.4 215.4h.01M69.4 54.8h.01M171.6 105.9h.01M69.4 105.9h.01M47.5 84.0h.01M171.6 215.4h.01M127.8 149.7h.01M11.0 120.5h.01M105.9 200.8h.01M222.7 222.7L222.7 237.3M208.1 208.1L208.1 215.4M178.9 237.3h.01M76.7 208.1L84.0 208.1M164.3 127.8L178.9 127.8M135.1 105.9h.01M237.3 230.0h.01M18.3 69.4h.01M76.7 105.9L91.3 105.9M84.0 98.6h.01M105.9 135.1h.01M135.1 222.7h.01M69.4 91.3h.01M215.4 215.4h.01M186.2 178.9h.01M142.4 208.1h.01M193.5 215.4L193.5 222.7M171.6 186.2h.01M178.9 215.4h.01M142.4 230.0L142.4 237.3M113.2 105.9L120.5 105.9M32.9 164.3h.01M178.9 200.8h.01M135.1 76.7h.01M164.3 186.2h.01M69.4 157.0h.01M120.5 200.8h.01M171.6 135.1h.01M237.3 193.5h.01M3.7 164.3h.01M105.9 178.9h.01M127.8 69.4h.01M3.7 149.7h.01M113.2 54.8h.01M200.8 120.5L215.4 120.5M98.6 178.9h.01M230.0 142.4h.01M171.6 178.9h.01M200.8 208.1h.01M142.4 40.2h.01M54.8 178.9h.01M32.9 105.9h.01M164.3 149.7h.01M200.8 62.1h.01M91.3 215.4h.01M98.6 91.3h.01M84.0 142.4h.01M62.1 47.5h.01" stroke="url(#qg11)" stroke-width="5.26" stroke-linecap="round" fill="none"/><rect x="3.7" y="3.7" width="43.8" height="43.8" rx="11.7" fill="none" stroke="url(#qg11)" stroke-width="7.3"/><rect x="14.6" y="14.6" width="21.9" height="21.9" rx="5.8" fill="url(#qg11)"/><rect x="193.5" y="3.7" width="43.8" height="43.8" rx="11.7" fill="none" stroke="url(#qg11)" stroke-width="7.3"/><rect x="204.5" y="14.6" width="21.9" height="21.9" rx="5.8" fill="url(#qg11)"/><rect x="3.7" y="193.5" width="43.8" height="43.8" rx="11.7" fill="none" stroke="url(#qg11)" stroke-width="7.3"/><rect x="14.6" y="204.5" width="21.9" height="21.9" rx="5.8" fill="url(#qg11)"/></svg>
<svg style="left:3734px;top:97px" width="241" height="241" viewBox="0 0 241 241"><defs><linearGradient id="qg22" gradientUnits="userSpaceOnUse" x1="0" y1="0" x2="241" y2="241"><stop offset="0" stop-color="#3cb2c8"/><stop offset=".5" stop-color="#3577b6"/><stop offset="1" stop-color="#2a38a4"/></linearGradient></defs><path d="M237.3 113.2h.01M164.3 171.6L178.9 171.6M98.6 91.3h.01M76.7 230.0L76.7 237.3M164.3 222.7L164.3 237.3M230.0 237.3h.01M171.6 40.2h.01M91.3 98.6L113.2 98.6M32.9 142.4h.01M222.7 193.5L222.7 215.4M69.4 113.2L84.0 113.2M178.9 105.9L178.9 120.5M113.2 105.9h.01M120.5 32.9h.01M91.3 149.7L113.2 149.7M32.9 164.3L32.9 178.9M120.5 69.4L120.5 76.7M200.8 98.6L208.1 98.6M120.5 200.8L120.5 208.1M135.1 98.6h.01M237.3 200.8h.01M113.2 186.2L113.2 193.5M135.1 47.5L135.1 62.1M157.0 215.4h.01M186.2 76.7L200.8 76.7M164.3 32.9h.01M127.8 3.7h.01M237.3 105.9h.01M98.6 157.0h.01M215.4 105.9L215.4 113.2M47.5 120.5h.01M127.8 84.0L142.4 84.0M54.8 127.8h.01M69.4 237.3h.01M135.1 25.6h.01M215.4 171.6L215.4 178.9M171.6 186.2L193.5 186.2M98.6 164.3h.01M120.5 237.3L127.8 237.3M171.6 11.0L171.6 18.3M135.1 186.2L142.4 186.2M208.1 127.8L222.7 127.8M142.4 69.4L149.7 69.4M11.0 142.4h.01M149.7 127.8h.01M215.4 237.3L222.7 237.3M54.8 178.9h.01M135.1 178.9L157.0 178.9M54.8 164.3h.01M164.3 149.7L178.9 149.7M186.2 157.0L200.8 157.0M91.3 69.4h.01M208.1 149.7L222.7 149.7M142.4 215.4L142.4 230.0M11.0 98.6h.01M237.3 171.6L237.3 186.2M127.8 222.7h.01M142.4 164.3L142.4 171.6M135.1 157.0L135.1 164.3M69.4 76.7h.01M149.7 3.7h.01M142.4 149.7h.01M171.6 222.7h.01M200.8 91.3h.01M98.6 120.5h.01M193.5 222.7L215.4 222.7M91.3 135.1h.01M3.7 127.8h.01M40.2 113.2h.01M215.4 62.1h.01M25.6 120.5L25.6 135.1M171.6 164.3L186.2 164.3M120.5 186.2h.01M113.2 222.7L120.5 222.7M215.4 76.7h.01M120.5 18.3L135.1 18.3M32.9 149.7h.01M76.7 62.1L84.0 62.1M84.0 135.1h.01M91.3 32.9h.01M3.7 178.9h.01M40.2 171.6L40.2 178.9M105.9 76.7L113.2 76.7M40.2 69.4L40.2 76.7M76.7 222.7h.01M120.5 178.9h.01M215.4 208.1h.01M25.6 69.4L32.9 69.4M208.1 120.5h.01M54.8 76.7L54.8 98.6M157.0 200.8L157.0 208.1M171.6 91.3h.01M171.6 105.9h.01M208.1 164.3h.01M91.3 230.0h.01M230.0 105.9h.01M76.7 171.6L76.7 186.2M69.4 200.8h.01M142.4 200.8h.01M76.7 149.7L84.0 149.7M76.7 91.3h.01M178.9 69.4h.01M149.7 54.8L157.0 54.8M84.0 69.4L84.0 84.0M120.5 120.5L120.5 135.1M157.0 230.0h.01M98.6 11.0L98.6 25.6M178.9 40.2h.01M84.0 18.3L84.0 25.6M193.5 62.1L193.5 69.4M91.3 178.9L91.3 186.2M32.9 120.5h.01M193.5 230.0h.01M237.3 142.4L237.3 157.0M178.9 230.0L178.9 237.3M237.3 91.3h.01M32.9 127.8L40.2 127.8M127.8 120.5h.01M149.7 47.5h.01M105.9 32.9h.01M69.4 98.6h.01M135.1 200.8h.01M157.0 120.5h.01M3.7 76.7L25.6 76.7M127.8 32.9L127.8 40.2M157.0 237.3h.01M105.9 230.0L113.2 230.0M25.6 157.0h.01M149.7 208.1L149.7 222.7M3.7 157.0L3.7 164.3M113.2 164.3h.01M142.4 142.4h.01M62.1 98.6L62.1 105.9M222.7 62.1L222.7 69.4M105.9 193.5h.01M84.0 47.5h.01M62.1 3.7L76.7 3.7M157.0 11.0L164.3 11.0M105.9 142.4h.01M149.7 135.1h.01M47.5 157.0h.01M62.1 76.7h.01M208.1 105.9h.01M84.0 186.2h.01M105.9 62.1h.01M84.0 178.9h.01M222.7 135.1L230.0 135.1M76.7 193.5L84.0 193.5M164.3 69.4L171.6 69.4M135.1 91.3h.01M54.8 62.1h.01M149.7 98.6h.01M113.2 69.4h.01M11.0 84.0h.01M157.0 186.2h.01M3.7 62.1L18.3 62.1M222.7 91.3h.01M237.3 215.4L237.3 237.3M178.9 18.3h.01M113.2 200.8h.01M127.8 171.6h.01M69.4 135.1h.01M76.7 157.0h.01M127.8 105.9L142.4 105.9M149.7 164.3L149.7 171.6M149.7 149.7L149.7 157.0M200.8 84.0h.01M222.7 171.6L230.0 171.6M200.8 208.1h.01M32.9 98.6L47.5 98.6M164.3 157.0h.01M25.6 149.7h.01M193.5 200.8L215.4 200.8M98.6 208.1L98.6 222.7M98.6 113.2h.01M47.5 105.9h.01M178.9 208.1L178.9 222.7M237.3 127.8h.01M113.2 135.1h.01M62.1 25.6h.01M62.1 215.4L69.4 215.4M3.7 69.4h.01M230.0 222.7h.01M230.0 208.1h.01M47.5 69.4h.01M164.3 200.8L171.6 200.8M193.5 135.1L200.8 135.1M178.9 193.5L186.2 193.5M135.1 120.5h.01M98.6 142.4h.01M171.6 208.1L171.6 215.4M222.7 120.5h.01M105.9 127.8h.01M149.7 32.9L149.7 40.2M157.0 142.4L171.6 142.4M84.0 237.3h.01M25.6 171.6L25.6 178.9M91.3 11.0h.01M40.2 91.3h.01M164.3 25.6h.01M105.9 18.3L105.9 25.6M54.8 113.2h.01M127.8 62.1L127.8 69.4M91.3 40.2L113.2 40.2M98.6 171.6L105.9 171.6M135.1 222.7L135.1 230.0M69.4 84.0h.01M215.4 230.0h.01M76.7 105.9h.01M69.4 69.4h.01M3.7 142.4h.01M76.7 69.4h.01M230.0 186.2h.01M164.3 98.6L171.6 98.6M186.2 178.9h.01M47.5 178.9h.01M178.9 54.8h.01M164.3 40.2h.01M193.5 127.8h.01M186.2 215.4h.01M62.1 186.2L62.1 193.5M113.2 3.7h.01M62.1 222.7h.01M237.3 62.1h.01M62.1 208.1h.01M171.6 76.7h.01M113.2 91.3h.01M62.1 32.9h.01M62.1 178.9h.01M113.2 120.5h.01M40.2 157.0h.01M149.7 91.3h.01M127.8 127.8L127.8 142.4M193.5 237.3L200.8 237.3M215.4 157.0h.01M178.9 84.0L178.9 91.3M105.9 237.3h.01M120.5 157.0L120.5 164.3M157.0 84.0h.01M164.3 127.8L171.6 127.8M47.5 91.3h.01M200.8 69.4h.01M32.9 84.0L32.9 91.3M120.5 47.5h.01M18.3 113.2L18.3 120.5M142.4 113.2L149.7 113.2M200.8 178.9h.01M230.0 98.6L237.3 98.6M113.2 215.4h.01M222.7 178.9h.01M84.0 105.9h.01M62.1 230.0h.01M208.1 69.4h.01M113.2 25.6h.01M230.0 178.9h.01M230.0 76.7h.01M164.3 208.1h.01M142.4 76.7L149.7 76.7M3.7 120.5h.01M40.2 105.9h.01M11.0 171.6h.01M237.3 84.0h.01M208.1 171.6h.01M84.0 142.4h.01M76.7 208.1h.01M105.9 113.2h.01M178.9 11.0h.01M157.0 164.3h.01M91.3 84.0h.01M18.3 178.9h.01M200.8 105.9h.01M76.7 18.3h.01M25.6 91.3h.01M215.4 142.4h.01M149.7 237.3h.01M62.1 164.3L69.4 164.3M18.3 98.6h.01" stroke="url(#qg22)" stroke-width="5.26" stroke-linecap="round" fill="none"/><rect x="3.7" y="3.7" width="43.8" height="43.8" rx="11.7" fill="none" stroke="url(#qg22)" stroke-width="7.3"/><rect x="14.6" y="14.6" width="21.9" height="21.9" rx="5.8" fill="url(#qg22)"/><rect x="193.5" y="3.7" width="43.8" height="43.8" rx="11.7" fill="none" stroke="url(#qg22)" stroke-width="7.3"/><rect x="204.5" y="14.6" width="21.9" height="21.9" rx="5.8" fill="url(#qg22)"/><rect x="3.7" y="193.5" width="43.8" height="43.8" rx="11.7" fill="none" stroke="url(#qg22)" stroke-width="7.3"/><rect x="14.6" y="204.5" width="21.9" height="21.9" rx="5.8" fill="url(#qg22)"/></svg>
<svg style="left:4041px;top:97px" width="242" height="242" viewBox="0 0 242 242"><defs><linearGradient id="qg33" gradientUnits="userSpaceOnUse" x1="0" y1="0" x2="242" y2="242"><stop offset="0" stop-color="#3cb2c8"/><stop offset=".5" stop-color="#3577b6"/><stop offset="1" stop-color="#2a38a4"/></linearGradient></defs><path d="M51.9 145.7h.01M12.3 42.0h.01M71.6 214.8h.01M86.4 150.6h.01M76.6 239.5L91.4 239.5M61.7 116.1L66.7 116.1M239.5 76.6h.01M7.4 86.4L12.3 86.4M66.7 17.3L66.7 32.1M91.4 27.2L91.4 32.1M209.9 66.7h.01M2.5 101.2h.01M51.9 190.1L56.8 190.1M101.2 106.2h.01M32.1 150.6L32.1 160.5M61.7 155.6L66.7 155.6M111.1 106.2L116.1 106.2M27.2 175.3h.01M61.7 46.9L61.7 51.9M37.0 145.7L46.9 145.7M160.5 22.2h.01M42.0 239.5h.01M180.3 234.6h.01M42.0 111.1h.01M17.3 111.1L17.3 125.9M106.2 42.0L111.1 42.0M185.2 42.0L185.2 56.8M125.9 155.6L125.9 170.4M2.5 46.9L7.4 46.9M229.7 229.7h.01M190.1 125.9L190.1 130.9M101.2 155.6h.01M165.4 101.2h.01M116.1 61.7L116.1 76.6M165.4 145.7h.01M200.0 239.5L205.0 239.5M135.8 234.6L135.8 239.5M56.8 175.3L56.8 180.3M76.6 121.0h.01M27.2 61.7L27.2 66.7M190.1 17.3L200.0 17.3M209.9 71.6L219.8 71.6M125.9 86.4h.01M130.9 170.4L145.7 170.4M209.9 86.4h.01M185.2 101.2h.01M209.9 224.7L224.7 224.7M224.7 140.8L229.7 140.8M140.8 219.8h.01M56.8 12.3L56.8 22.2M111.1 121.0L111.1 125.9M135.8 12.3L140.8 12.3M209.9 180.3L209.9 185.2M101.2 195.1L106.2 195.1M116.1 145.7L116.1 150.6M51.9 229.7h.01M224.7 71.6h.01M209.9 140.8h.01M116.1 96.3h.01M76.6 175.3h.01M81.5 205.0L81.5 219.8M12.3 106.2h.01M86.4 190.1L86.4 200.0M111.1 22.2h.01M61.7 165.4L61.7 175.3M229.7 42.0L229.7 46.9M42.0 2.5L42.0 7.4M195.1 56.8h.01M46.9 175.3L46.9 185.2M200.0 81.5L200.0 91.4M116.1 200.0L121.0 200.0M130.9 96.3L130.9 101.2M170.4 190.1L170.4 195.1M224.7 170.4L224.7 175.3M66.7 86.4L66.7 101.2M175.3 190.1h.01M86.4 66.7L101.2 66.7M234.6 121.0L239.5 121.0M190.1 165.4L195.1 165.4M56.8 160.5L56.8 165.4M195.1 140.8h.01M46.9 229.7h.01M121.0 27.2L130.9 27.2M42.0 150.6h.01M155.6 7.4h.01M2.5 165.4L17.3 165.4M145.7 145.7L145.7 160.5M91.4 195.1h.01M76.6 209.9h.01M170.4 106.2L175.3 106.2M12.3 56.8L22.2 56.8M190.1 155.6h.01M101.2 224.7h.01M71.6 205.0L76.6 205.0M130.9 175.3L130.9 180.3M224.7 190.1L224.7 205.0M125.9 46.9L125.9 51.9M150.6 96.3h.01M2.5 61.7h.01M135.8 150.6h.01M135.8 17.3L145.7 17.3M111.1 175.3L111.1 180.3M234.6 71.6h.01M209.9 155.6L209.9 170.4M175.3 61.7h.01M106.2 219.8L121.0 219.8M66.7 71.6L76.6 71.6M219.8 135.8L224.7 135.8M160.5 66.7L170.4 66.7M111.1 2.5L111.1 7.4M219.8 229.7L224.7 229.7M145.7 121.0h.01M180.3 76.6L180.3 91.4M239.5 96.3h.01M27.2 190.1L27.2 195.1M224.7 66.7h.01M116.1 7.4L116.1 17.3M185.2 71.6h.01M12.3 195.1L12.3 200.0M12.3 140.8L12.3 145.7M37.0 91.4L42.0 91.4M200.0 27.2h.01M2.5 155.6h.01M56.8 111.1h.01M125.9 229.7L125.9 234.6M96.3 125.9L101.2 125.9M56.8 145.7L71.6 145.7M86.4 155.6L91.4 155.6M135.8 91.4L135.8 96.3M22.2 185.2h.01M81.5 2.5L86.4 2.5M135.8 209.9L140.8 209.9M81.5 46.9L81.5 51.9M96.3 56.8L101.2 56.8M51.9 214.8h.01M175.3 155.6L180.3 155.6M224.7 76.6h.01M37.0 185.2L37.0 190.1M116.1 135.8h.01M214.8 180.3L214.8 190.1M185.2 160.5h.01M86.4 76.6L86.4 91.4M101.2 2.5L101.2 7.4M175.3 71.6h.01M32.1 195.1L42.0 195.1M135.8 214.8L135.8 219.8M239.5 170.4h.01M66.7 42.0L71.6 42.0M101.2 175.3L101.2 180.3M96.3 7.4h.01M106.2 37.0h.01M121.0 165.4h.01M71.6 91.4L76.6 91.4M111.1 150.6h.01M101.2 22.2h.01M135.8 195.1L135.8 200.0M190.1 219.8L190.1 234.6M214.8 116.1L214.8 121.0M219.8 56.8h.01M61.7 106.2h.01M165.4 81.5L170.4 81.5M165.4 27.2h.01M180.3 130.9L185.2 130.9M61.7 200.0L76.6 200.0M135.8 71.6h.01M66.7 130.9h.01M239.5 145.7h.01M76.6 7.4L86.4 7.4M219.8 42.0L219.8 46.9M145.7 71.6L155.6 71.6M195.1 155.6h.01M81.5 234.6L86.4 234.6M121.0 185.2h.01M2.5 170.4h.01M185.2 27.2L185.2 32.1M111.1 27.2h.01M170.4 111.1L170.4 116.1M42.0 61.7h.01M61.7 66.7h.01M219.8 195.1h.01M22.2 111.1h.01M140.8 175.3h.01M42.0 17.3L46.9 17.3M106.2 214.8L111.1 214.8M76.6 150.6h.01M125.9 209.9h.01M229.7 106.2L239.5 106.2M160.5 86.4h.01M234.6 66.7h.01M56.8 96.3h.01M42.0 130.9h.01M214.8 170.4h.01M135.8 61.7h.01M234.6 155.6L239.5 155.6M27.2 86.4L27.2 91.4M140.8 130.9h.01M209.9 130.9h.01M32.1 81.5L32.1 86.4M121.0 214.8h.01M46.9 205.0h.01M165.4 46.9h.01M205.0 130.9h.01M160.5 229.7L165.4 229.7M86.4 22.2h.01M125.9 145.7h.01M32.1 66.7h.01M160.5 7.4L165.4 7.4M135.8 130.9h.01M165.4 214.8h.01M135.8 7.4h.01M209.9 205.0L209.9 219.8M66.7 106.2L71.6 106.2M160.5 121.0L160.5 130.9M165.4 91.4h.01M106.2 12.3h.01M150.6 61.7L150.6 66.7M150.6 91.4L155.6 91.4M160.5 17.3h.01M17.3 145.7L17.3 150.6M42.0 155.6h.01M111.1 86.4L111.1 91.4M71.6 32.1h.01M219.8 91.4L219.8 96.3M160.5 195.1h.01M32.1 96.3h.01M7.4 180.3h.01M96.3 2.5h.01M200.0 66.7h.01M224.7 239.5h.01M140.8 51.9h.01M91.4 17.3h.01M135.8 180.3L135.8 185.2M219.8 121.0h.01M22.2 160.5L27.2 160.5M155.6 51.9h.01M46.9 155.6L51.9 155.6M234.6 130.9h.01M81.5 12.3h.01M56.8 2.5h.01M116.1 46.9h.01M106.2 200.0h.01M17.3 101.2h.01M160.5 165.4h.01M56.8 121.0L61.7 121.0M200.0 37.0h.01M56.8 234.6L61.7 234.6M190.1 81.5L195.1 81.5M195.1 180.3h.01M155.6 190.1h.01M125.9 61.7h.01M116.1 86.4L121.0 86.4M190.1 27.2L190.1 37.0M160.5 205.0h.01M96.3 86.4h.01M2.5 195.1h.01M209.9 91.4h.01M12.3 175.3h.01M125.9 121.0L125.9 135.8M66.7 185.2L71.6 185.2M46.9 121.0h.01M101.2 61.7L111.1 61.7M239.5 190.1h.01M116.1 195.1h.01M170.4 86.4h.01M150.6 37.0L160.5 37.0M42.0 170.4h.01M32.1 190.1h.01M195.1 234.6h.01M71.6 234.6h.01M91.4 219.8L96.3 219.8M61.7 81.5h.01M46.9 81.5h.01M27.2 101.2L27.2 106.2M190.1 200.0L190.1 205.0M229.7 145.7h.01M195.1 205.0L195.1 209.9M160.5 56.8h.01M200.0 190.1L200.0 200.0M140.8 22.2L140.8 32.1M81.5 61.7h.01M239.5 150.6h.01M12.3 71.6L17.3 71.6M7.4 160.5h.01M190.1 7.4L195.1 7.4M46.9 76.6h.01M76.6 27.2L76.6 32.1M170.4 219.8L175.3 219.8M121.0 125.9h.01M22.2 145.7L27.2 145.7M51.9 135.8L56.8 135.8M205.0 116.1L209.9 116.1M214.8 46.9L214.8 51.9M140.8 86.4L140.8 101.2M150.6 239.5h.01M165.4 111.1h.01M229.7 180.3L239.5 180.3M66.7 56.8L66.7 66.7M170.4 42.0h.01M32.1 200.0L37.0 200.0M81.5 140.8h.01M42.0 214.8L42.0 224.7M165.4 200.0L165.4 205.0M81.5 27.2h.01M145.7 86.4h.01M145.7 195.1h.01M106.2 71.6L106.2 76.6M140.8 2.5L150.6 2.5M190.1 86.4L195.1 86.4M111.1 160.5h.01M229.7 91.4L229.7 96.3M17.3 190.1L17.3 200.0M234.6 214.8h.01M46.9 219.8L51.9 219.8M155.6 145.7L155.6 150.6M130.9 219.8h.01M22.2 125.9L27.2 125.9M145.7 234.6h.01M155.6 22.2L155.6 32.1M37.0 116.1L46.9 116.1M76.6 165.4L91.4 165.4M239.5 101.2h.01M17.3 175.3h.01M130.9 66.7h.01M224.7 91.4h.01M234.6 160.5h.01M101.2 86.4L101.2 96.3M125.9 106.2h.01M140.8 140.8h.01M37.0 71.6h.01M66.7 125.9h.01M185.2 195.1h.01M150.6 27.2h.01M195.1 170.4L205.0 170.4M140.8 229.7h.01M37.0 61.7h.01M46.9 12.3h.01M200.0 135.8L205.0 135.8M155.6 205.0h.01M2.5 135.8L7.4 135.8M205.0 76.6h.01M51.9 165.4h.01M121.0 7.4L125.9 7.4M190.1 145.7L195.1 145.7M32.1 51.9h.01M46.9 130.9h.01M145.7 239.5h.01M165.4 42.0h.01M91.4 214.8h.01M76.6 61.7h.01M234.6 219.8L239.5 219.8M51.9 101.2h.01M200.0 7.4L200.0 12.3M12.3 81.5h.01M160.5 150.6L160.5 155.6M145.7 32.1L150.6 32.1M175.3 37.0L180.3 37.0M135.8 32.1L135.8 42.0M17.3 51.9h.01M42.0 81.5h.01M76.6 96.3L76.6 101.2M111.1 56.8h.01M180.3 165.4L180.3 175.3M17.3 96.3L22.2 96.3M96.3 209.9h.01M96.3 180.3h.01M22.2 91.4h.01M125.9 17.3L130.9 17.3M121.0 130.9L121.0 135.8M170.4 165.4L175.3 165.4M224.7 130.9h.01M165.4 135.8L165.4 140.8M205.0 214.8h.01M101.2 130.9L106.2 130.9M190.1 61.7h.01M116.1 165.4h.01M86.4 56.8h.01M27.2 51.9h.01M32.1 46.9h.01M71.6 96.3L71.6 101.2M219.8 150.6L224.7 150.6M170.4 56.8h.01M205.0 219.8h.01M37.0 165.4h.01M125.9 195.1h.01M195.1 190.1L195.1 195.1M106.2 165.4L106.2 175.3M150.6 224.7L150.6 229.7M37.0 56.8h.01M155.6 135.8L160.5 135.8M111.1 111.1h.01M175.3 185.2h.01M234.6 209.9L239.5 209.9M195.1 229.7h.01M61.7 125.9h.01M165.4 71.6L170.4 71.6M224.7 219.8h.01M130.9 37.0h.01M140.8 239.5h.01M42.0 185.2L42.0 190.1M32.1 56.8h.01M86.4 61.7L91.4 61.7M165.4 76.6L170.4 76.6M116.1 170.4h.01M2.5 145.7L7.4 145.7M214.8 165.4h.01M219.8 239.5h.01M229.7 239.5h.01M51.9 81.5h.01M125.9 190.1h.01M209.9 200.0L214.8 200.0M91.4 224.7L91.4 229.7M96.3 135.8L96.3 140.8M234.6 116.1L239.5 116.1M150.6 155.6h.01M101.2 190.1h.01M200.0 116.1h.01M121.0 37.0h.01M76.6 234.6h.01M7.4 66.7h.01M101.2 27.2h.01M22.2 130.9L32.1 130.9M71.6 160.5h.01M51.9 125.9h.01M86.4 170.4L86.4 175.3M86.4 229.7h.01M135.8 140.8h.01M37.0 106.2L42.0 106.2M17.3 66.7h.01M160.5 175.3h.01M224.7 51.9h.01M180.3 106.2h.01M66.7 160.5h.01M56.8 56.8h.01M81.5 116.1h.01M56.8 229.7L61.7 229.7M140.8 61.7h.01M71.6 229.7h.01M91.4 190.1h.01M27.2 180.3h.01M51.9 32.1h.01M42.0 56.8h.01M200.0 46.9L200.0 51.9M195.1 116.1h.01M200.0 61.7h.01M150.6 7.4h.01M214.8 205.0L219.8 205.0M205.0 42.0L205.0 46.9M27.2 76.6h.01M32.1 111.1h.01M175.3 27.2L180.3 27.2M185.2 150.6h.01M56.8 224.7h.01M66.7 111.1L71.6 111.1M96.3 96.3h.01M121.0 42.0h.01M195.1 101.2h.01M66.7 195.1h.01M42.0 96.3L46.9 96.3M180.3 190.1h.01M81.5 175.3h.01M111.1 51.9h.01M234.6 51.9L239.5 51.9M165.4 2.5h.01M180.3 56.8h.01M71.6 125.9L81.5 125.9M155.6 165.4L155.6 170.4M121.0 12.3L125.9 12.3M42.0 140.8h.01M2.5 76.6h.01M27.2 140.8h.01M234.6 42.0h.01M51.9 96.3h.01M125.9 96.3h.01M175.3 46.9L175.3 51.9M106.2 86.4h.01M56.8 76.6L56.8 91.4M66.7 12.3h.01M22.2 81.5h.01M205.0 140.8h.01M135.8 106.2h.01M205.0 165.4h.01M150.6 86.4L155.6 86.4M214.8 234.6h.01M165.4 51.9h.01M37.0 135.8L37.0 140.8M155.6 116.1h.01M7.4 125.9L12.3 125.9M37.0 101.2L42.0 101.2M46.9 56.8L51.9 56.8M185.2 209.9h.01M121.0 155.6L121.0 160.5M175.3 116.1h.01M56.8 125.9L56.8 130.9M214.8 61.7L219.8 61.7M22.2 42.0L22.2 46.9M56.8 239.5h.01M185.2 180.3L185.2 185.2M155.6 224.7h.01M101.2 150.6L106.2 150.6M106.2 145.7h.01M224.7 111.1h.01M150.6 165.4h.01M121.0 116.1h.01M7.4 170.4h.01M130.9 190.1h.01M37.0 121.0L42.0 121.0M125.9 101.2h.01M71.6 195.1h.01M180.3 224.7L185.2 224.7M116.1 51.9h.01M106.2 51.9L106.2 56.8M2.5 130.9h.01M195.1 130.9h.01M175.3 111.1h.01M185.2 229.7h.01M51.9 175.3h.01M76.6 51.9L76.6 56.8M86.4 37.0h.01M239.5 111.1h.01M37.0 46.9L51.9 46.9M96.3 170.4h.01M200.0 155.6h.01M42.0 22.2L46.9 22.2M106.2 17.3h.01M106.2 91.4h.01M219.8 219.8h.01M224.7 185.2h.01M125.9 71.6h.01M37.0 81.5h.01M160.5 234.6L165.4 234.6M175.3 214.8h.01M81.5 195.1h.01M22.2 155.6L27.2 155.6M214.8 96.3h.01M180.3 214.8h.01M91.4 2.5h.01M32.1 175.3L42.0 175.3M239.5 234.6h.01M96.3 121.0h.01M111.1 71.6h.01M91.4 91.4L91.4 106.2M185.2 205.0h.01M135.8 205.0h.01M239.5 195.1L239.5 200.0M150.6 185.2h.01M106.2 2.5L106.2 7.4M160.5 190.1h.01M96.3 37.0L101.2 37.0M125.9 32.1L130.9 32.1M239.5 214.8h.01M101.2 229.7h.01M155.6 130.9h.01M214.8 155.6h.01M42.0 209.9L56.8 209.9M51.9 239.5h.01M22.2 200.0h.01M234.6 101.2h.01M2.5 116.1L7.4 116.1M200.0 22.2h.01M170.4 180.3L180.3 180.3M224.7 101.2h.01M180.3 239.5h.01M101.2 76.6h.01M61.7 180.3h.01M239.5 46.9h.01M200.0 209.9h.01M130.9 76.6L130.9 81.5M76.6 219.8h.01M229.7 81.5h.01M145.7 130.9h.01M86.4 135.8h.01M130.9 160.5L140.8 160.5M17.3 170.4h.01M180.3 145.7h.01M71.6 22.2h.01M42.0 66.7h.01M140.8 42.0h.01M130.9 229.7h.01M130.9 51.9h.01M121.0 91.4h.01M76.6 2.5h.01M224.7 42.0h.01M150.6 51.9L150.6 56.8M180.3 46.9h.01M101.2 17.3h.01M81.5 190.1h.01M76.6 86.4h.01M170.4 214.8h.01M209.9 145.7h.01M2.5 56.8h.01M219.8 66.7h.01M121.0 205.0h.01M56.8 195.1h.01M229.7 195.1L229.7 205.0M180.3 200.0L180.3 205.0M51.9 160.5h.01M91.4 130.9L91.4 135.8M121.0 175.3L125.9 175.3M219.8 185.2h.01M145.7 180.3h.01M239.5 224.7h.01M22.2 150.6h.01M209.9 96.3h.01M145.7 22.2h.01M116.1 229.7L121.0 229.7M22.2 140.8h.01M214.8 81.5h.01M155.6 239.5L160.5 239.5M22.2 61.7h.01M175.3 12.3L175.3 22.2M91.4 76.6L91.4 81.5M175.3 200.0L175.3 205.0M46.9 66.7h.01M7.4 106.2h.01M214.8 106.2h.01M91.4 51.9h.01M71.6 66.7h.01M190.1 96.3h.01M81.5 185.2h.01M111.1 101.2h.01M239.5 42.0h.01M219.8 175.3h.01M150.6 135.8L150.6 140.8M190.1 140.8h.01M125.9 111.1h.01M111.1 205.0h.01M175.3 195.1h.01M214.8 42.0h.01M145.7 46.9h.01M17.3 81.5h.01M32.1 135.8h.01M224.7 155.6h.01M27.2 116.1h.01M160.5 32.1h.01M180.3 111.1h.01M150.6 42.0h.01M234.6 76.6h.01M101.2 239.5h.01M125.9 91.4h.01M170.4 27.2h.01M51.9 205.0h.01M175.3 140.8h.01M76.6 130.9L86.4 130.9M116.1 111.1h.01M185.2 170.4h.01M76.6 155.6L76.6 160.5M130.9 46.9L135.8 46.9M135.8 22.2h.01M160.5 180.3h.01M190.1 185.2h.01M190.1 12.3h.01M180.3 66.7h.01M170.4 12.3L170.4 17.3M145.7 190.1L150.6 190.1M185.2 219.8h.01M229.7 155.6L229.7 160.5M205.0 66.7h.01M234.6 91.4h.01M214.8 214.8h.01M130.9 111.1h.01M66.7 224.7h.01M160.5 2.5h.01M170.4 91.4h.01M106.2 111.1h.01M170.4 140.8h.01M234.6 229.7h.01" stroke="url(#qg33)" stroke-width="3.56" stroke-linecap="round" fill="none"/><rect x="2.5" y="2.5" width="29.6" height="29.6" rx="7.9" fill="none" stroke="url(#qg33)" stroke-width="4.9"/><rect x="9.9" y="9.9" width="14.8" height="14.8" rx="4.0" fill="url(#qg33)"/><rect x="209.9" y="2.5" width="29.6" height="29.6" rx="7.9" fill="none" stroke="url(#qg33)" stroke-width="4.9"/><rect x="217.3" y="9.9" width="14.8" height="14.8" rx="4.0" fill="url(#qg33)"/><rect x="2.5" y="209.9" width="29.6" height="29.6" rx="7.9" fill="none" stroke="url(#qg33)" stroke-width="4.9"/><rect x="9.9" y="217.3" width="14.8" height="14.8" rx="4.0" fill="url(#qg33)"/></svg>
<svg style="left:4343px;top:97px" width="242" height="242" viewBox="0 0 242 242"><defs><linearGradient id="qg44" gradientUnits="userSpaceOnUse" x1="0" y1="0" x2="242" y2="242"><stop offset="0" stop-color="#3cb2c8"/><stop offset=".5" stop-color="#3577b6"/><stop offset="1" stop-color="#2a38a4"/></linearGradient></defs><path d="M162.7 45.9L162.7 54.2M54.2 129.3h.01M37.6 112.7L45.9 112.7M196.1 162.7L204.4 162.7M70.9 62.6L70.9 87.6M187.8 154.4L212.8 154.4M96.0 154.4L112.7 154.4M137.7 104.3L162.7 104.3M171.1 62.6h.01M179.4 121.0h.01M62.6 146.0h.01M204.4 96.0h.01M104.3 37.6L104.3 62.6M62.6 171.1h.01M20.9 121.0L20.9 137.7M37.6 146.0L45.9 146.0M204.4 212.8L229.5 212.8M29.2 146.0h.01M229.5 154.4h.01M87.6 137.7L87.6 146.0M129.3 137.7h.01M12.5 96.0h.01M162.7 154.4L162.7 162.7M129.3 162.7L129.3 171.1M79.3 212.8L87.6 212.8M204.4 229.5L212.8 229.5M87.6 70.9h.01M154.4 29.2L154.4 54.2M70.9 187.8L70.9 204.4M121.0 162.7h.01M104.3 196.1h.01M112.7 212.8L137.7 212.8M229.5 146.0h.01M162.7 96.0h.01M4.2 121.0L4.2 129.3M96.0 70.9h.01M146.0 112.7h.01M137.7 229.5h.01M87.6 121.0L96.0 121.0M12.5 129.3h.01M121.0 137.7h.01M171.1 229.5L171.1 237.8M146.0 179.4h.01M104.3 162.7h.01M229.5 129.3h.01M45.9 129.3h.01M112.7 37.6h.01M187.8 129.3h.01M104.3 137.7h.01M129.3 104.3L129.3 121.0M221.1 179.4h.01M79.3 196.1h.01M137.7 162.7L154.4 162.7M146.0 196.1h.01M96.0 237.8h.01M87.6 187.8h.01M37.6 171.1h.01M204.4 221.1h.01M96.0 37.6L96.0 45.9M146.0 154.4L154.4 154.4M171.1 29.2h.01M4.2 96.0L4.2 104.3M154.4 12.5h.01M179.4 162.7L179.4 171.1M70.9 137.7L79.3 137.7M104.3 12.5L112.7 12.5M29.2 121.0L29.2 137.7M137.7 62.6L137.7 79.3M112.7 70.9L129.3 70.9M104.3 112.7L121.0 112.7M96.0 146.0L104.3 146.0M96.0 104.3L121.0 104.3M162.7 212.8L179.4 212.8M87.6 54.2h.01M4.2 146.0L4.2 162.7M29.2 87.6L29.2 104.3M154.4 179.4h.01M137.7 12.5h.01M171.1 70.9h.01M171.1 187.8L187.8 187.8M212.8 112.7L212.8 137.7M87.6 237.8h.01M212.8 146.0h.01M121.0 20.9h.01M129.3 187.8L137.7 187.8M112.7 187.8h.01M179.4 146.0L187.8 146.0M237.8 196.1h.01M162.7 237.8h.01M112.7 121.0L112.7 129.3M212.8 221.1h.01M70.9 12.5L70.9 20.9M37.6 87.6L37.6 104.3M129.3 87.6h.01M79.3 20.9L79.3 29.2M187.8 112.7h.01M154.4 146.0h.01M204.4 112.7h.01M221.1 137.7h.01M62.6 104.3h.01M96.0 162.7h.01M12.5 137.7h.01M96.0 62.6h.01M146.0 29.2h.01M20.9 87.6h.01M29.2 154.4h.01M146.0 204.4h.01M229.5 237.8L237.8 237.8M104.3 237.8L129.3 237.8M229.5 70.9h.01M154.4 129.3h.01M121.0 196.1L121.0 204.4M179.4 229.5L187.8 229.5M20.9 96.0h.01M196.1 221.1h.01M204.4 121.0h.01M137.7 179.4h.01M70.9 112.7L87.6 112.7M45.9 137.7h.01M204.4 146.0h.01M137.7 137.7L137.7 146.0M70.9 221.1L79.3 221.1M96.0 20.9h.01M20.9 79.3h.01M104.3 4.2L129.3 4.2M187.8 137.7h.01M12.5 171.1h.01M237.8 171.1h.01M196.1 237.8h.01M37.6 162.7L54.2 162.7M121.0 54.2L121.0 62.6M112.7 229.5L121.0 229.5M237.8 104.3h.01M79.3 154.4h.01M212.8 204.4h.01M129.3 229.5h.01M146.0 54.2h.01M62.6 87.6h.01M196.1 204.4L204.4 204.4M171.1 221.1h.01M162.7 179.4h.01M96.0 171.1h.01M179.4 204.4h.01M229.5 229.5h.01M54.2 154.4h.01M4.2 70.9L4.2 79.3M146.0 62.6L146.0 70.9M12.5 79.3h.01M112.7 221.1L121.0 221.1M112.7 87.6h.01M54.2 79.3h.01M171.1 179.4h.01M87.6 4.2h.01M229.5 204.4h.01M70.9 37.6h.01M45.9 121.0h.01M121.0 29.2L121.0 37.6M171.1 171.1h.01M70.9 45.9h.01M179.4 96.0h.01M137.7 237.8h.01M171.1 162.7h.01M96.0 96.0h.01M79.3 96.0h.01M204.4 179.4h.01M146.0 4.2h.01M162.7 70.9L162.7 79.3M229.5 112.7h.01M196.1 70.9L196.1 87.6M196.1 104.3h.01M20.9 104.3h.01M62.6 129.3L70.9 129.3M171.1 196.1h.01M221.1 112.7L221.1 121.0M129.3 54.2h.01M204.4 196.1h.01M162.7 121.0h.01M121.0 121.0h.01M137.7 29.2h.01M229.5 179.4h.01M79.3 237.8h.01M187.8 87.6h.01M79.3 70.9h.01M79.3 62.6h.01M237.8 146.0h.01M221.1 96.0h.01M79.3 79.3h.01M112.7 45.9h.01M154.4 229.5h.01M204.4 87.6h.01M12.5 70.9h.01M179.4 112.7h.01M146.0 221.1h.01M154.4 70.9L154.4 96.0M112.7 54.2h.01M96.0 87.6h.01M121.0 79.3h.01M187.8 79.3h.01M45.9 96.0L54.2 96.0M212.8 187.8h.01M171.1 4.2L171.1 12.5M229.5 121.0h.01M129.3 62.6h.01M79.3 229.5h.01M87.6 37.6h.01M104.3 20.9L104.3 29.2M87.6 104.3h.01M171.1 154.4h.01M112.7 29.2h.01M121.0 179.4h.01M70.9 154.4L70.9 171.1M104.3 204.4h.01M62.6 121.0h.01M112.7 204.4h.01M162.7 29.2L162.7 37.6M229.5 171.1h.01M162.7 112.7h.01M104.3 96.0h.01M146.0 137.7L154.4 137.7M171.1 54.2h.01" stroke="url(#qg44)" stroke-width="6.01" stroke-linecap="round" fill="none"/><rect x="4.2" y="4.2" width="50.1" height="50.1" rx="13.4" fill="none" stroke="url(#qg44)" stroke-width="8.3"/><rect x="16.7" y="16.7" width="25.0" height="25.0" rx="6.7" fill="url(#qg44)"/><rect x="187.8" y="4.2" width="50.1" height="50.1" rx="13.4" fill="none" stroke="url(#qg44)" stroke-width="8.3"/><rect x="200.3" y="16.7" width="25.0" height="25.0" rx="6.7" fill="url(#qg44)"/><rect x="4.2" y="187.8" width="50.1" height="50.1" rx="13.4" fill="none" stroke="url(#qg44)" stroke-width="8.3"/><rect x="16.7" y="200.3" width="25.0" height="25.0" rx="6.7" fill="url(#qg44)"/></svg>
<div class="t s" style="left:48.0px;top:439.1px;font-size:44.5px;color:#c8161e;font-weight:bold;text-shadow:2px 2px 3px rgba(0,0,0,.35);">Introduction</div>
<svg style="left:49px;top:508.2px" width="25.5" height="25.5" viewBox="0 0 27 27"><path d="M1.2 1.5 L25.5 13.5 L1.2 25.5 L8.5 13.5 Z" fill="#fff" stroke="#0070c0" stroke-width="1.8" stroke-linejoin="miter"/><path d="M8.5 13.5 L25.5 13.5 L1.2 25.5 Z" fill="#0070c0"/></svg>
<div class="t s" style="left:108.0px;top:501.1px;font-size:40px;font-weight:bold;word-spacing:-0.383px;"><span class="b">Score-based query attacks (SQAs)</span>: make adversarial threat feasible by</div>
<div class="t s" style="left:108.0px;top:549.1px;font-size:40px;font-weight:bold;word-spacing:-0.375px;">using only DNN&rsquo;s outputs to efficiently attack within dozens of queries.</div>
<div class="t s" style="left:89.0px;top:610.5px;font-size:36px;">&bull;</div>
<div class="t s" style="left:135.0px;top:607.1px;font-size:40px;word-spacing:0.396px;">SQAs greedily update <span class="m mm">x<sub>k</sub></span> by a query sample <span class="m mm">x</span><sub class="mr">q</sub> (crafted by certain strategies</div>
<div class="t s" style="left:135.0px;top:660.1px;font-size:40px;word-spacing:0.250px;">from <span class="m mm">x<sub>k</sub></span>) if it reduces DNN&rsquo;s loss.</div>
<div class="t r" style="left:119.0px;top:730.5px;font-size:40px;letter-spacing:4.034px;"><span class="bi">x</span><sub class="m">k</sub><sub class="mr">+1</sub> =</div>
<svg style="left:255px;top:712px" width="24" height="92" viewBox="0 0 24 92"><path d="M20 2 C11 2 12 10 12 20 L12 32 C12 40 10 44 3 46 C10 48 12 52 12 60 L12 72 C12 82 11 90 20 90" fill="none" stroke="#000" stroke-width="2.6"/></svg>
<div class="t r" style="left:297.0px;top:712.5px;font-size:40px;"><span class="bi">x</span><sub class="mr">q</sub>,</div>
<div class="t r" style="left:297.0px;top:750.5px;font-size:40px;"><span class="bi">x</span><sub class="m">k</sub>,</div>
<div class="t r" style="left:387.0px;top:712.5px;font-size:40px;letter-spacing:1.727px;"><svg class="cl" viewBox="0 0 80 105"><path d="M72 20 C75 6 60 2 52 14 C44 26 40 55 30 80 C25 92 12 100 6 94 C0 88 10 80 22 86 C36 93 52 100 74 84" fill="none" stroke="#000" stroke-width="5.5" stroke-linecap="round"/></svg><span class="m">(f</span>(<span class="bi">x</span><sub class="mr">q</sub>), <span class="m">y</span>) &lt; <svg class="cl" viewBox="0 0 80 105"><path d="M72 20 C75 6 60 2 52 14 C44 26 40 55 30 80 C25 92 12 100 6 94 C0 88 10 80 22 86 C36 93 52 100 74 84" fill="none" stroke="#000" stroke-width="5.5" stroke-linecap="round"/></svg><span class="m">(f</span>(<span class="bi">x</span><sub class="m">k</sub>), <span class="m">y</span>),</div>
<div class="t r" style="left:387.0px;top:750.5px;font-size:40px;letter-spacing:1.752px;"><svg class="cl" viewBox="0 0 80 105"><path d="M72 20 C75 6 60 2 52 14 C44 26 40 55 30 80 C25 92 12 100 6 94 C0 88 10 80 22 86 C36 93 52 100 74 84" fill="none" stroke="#000" stroke-width="5.5" stroke-linecap="round"/></svg><span class="m">(f</span>(<span class="bi">x</span><sub class="mr">q</sub>), <span class="m">y</span>) &ge; <svg class="cl" viewBox="0 0 80 105"><path d="M72 20 C75 6 60 2 52 14 C44 26 40 55 30 80 C25 92 12 100 6 94 C0 88 10 80 22 86 C36 93 52 100 74 84" fill="none" stroke="#000" stroke-width="5.5" stroke-linecap="round"/></svg><span class="m">(f</span>(<span class="bi">x</span><sub class="m">k</sub>), <span class="m">y</span>).</div>
<div class="t r" style="left:932.0px;top:730.5px;font-size:40px;letter-spacing:2.648px;"><svg class="cl" viewBox="0 0 80 105"><path d="M72 20 C75 6 60 2 52 14 C44 26 40 55 30 80 C25 92 12 100 6 94 C0 88 10 80 22 86 C36 93 52 100 74 84" fill="none" stroke="#000" stroke-width="5.5" stroke-linecap="round"/></svg>(<span class="m">f</span>(<span class="bi">x</span>), <span class="m">y</span>) = <span class="m">f<sub>y</sub></span>(<span class="bi">x</span>) &minus; max <span class="m">f<sub>k</sub></span>(<span class="bi">x</span>)</div>
<div class="t r" style="left:1332.0px;top:770.2px;font-size:26px;transform:translateX(-50%);"><span class="m">k</span>&ne;<span class="m">y</span></div>
<svg style="left:50px;top:840.2px" width="25.5" height="25.5" viewBox="0 0 27 27"><path d="M1.2 1.5 L25.5 13.5 L1.2 25.5 L8.5 13.5 Z" fill="#fff" stroke="#000" stroke-width="1.8" stroke-linejoin="miter"/><path d="M8.5 13.5 L25.5 13.5 L1.2 25.5 Z" fill="#000"/></svg>
<div class="t s" style="left:108.0px;top:832.9px;font-size:40px;font-weight:bold;word-spacing:-0.182px;">Existing defenses against worst-case perturbations are not suitable for</div>
<div class="t s" style="left:108.0px;top:881.4px;font-size:40px;font-weight:bold;word-spacing:-1.266px;">mitigating SQAs in real-world scenarios.</div>
<div class="t r" style="left:148.0px;top:938.5px;font-size:35.5px;word-spacing:1.943px;">Table 1: Expectation and effects of defenses (unpreferable effects are marked in <span class="rd">red</span>)</div>
<div class="ln" style="left:65px;top:979.4px;width:1389px;height:3.2px;background:#000"></div>
<div class="ln" style="left:65px;top:1038.0px;width:1389px;height:2px;background:#000"></div>
<div class="ln" style="left:65px;top:1255.4px;width:1389px;height:3.2px;background:#000"></div>
<div class="ln" style="left:329.2px;top:993px;width:1.6px;height:38px;background:#000"></div>
<div class="ln" style="left:329.2px;top:1051px;width:1.6px;height:198px;background:#000"></div>
<div class="t r" style="left:353.5px;top:989.7px;font-size:36px;letter-spacing:-0.084px;">expectation</div>
<div class="t r" style="left:562.0px;top:989.7px;font-size:36px;">adv-train</div>
<div class="t r" style="left:736.0px;top:989.7px;font-size:36px;">pre-process</div>
<div class="t r" style="left:946.0px;top:989.7px;font-size:36px;word-spacing:1.141px;">dynamic inference</div>
<div class="t r" style="left:1259.0px;top:989.7px;font-size:36px;word-spacing:1.016px;">AAA (ours)</div>
<div class="t r" style="left:307.0px;top:1048.4px;font-size:36px;transform:translateX(-100%);">accuracy</div>
<div class="t r" style="left:436.0px;top:1048.4px;font-size:36px;transform:translateX(-50%);"><span class="eq">=</span></div>
<div class="t r" style="left:627.0px;top:1048.4px;font-size:36px;transform:translateX(-50%);"><span class="rd ar"><svg class="ua" viewBox="0 0 18 29"><path d="M9 0.5 V27 M2.5 19.5 C6 21 8.2 24 9 28 C9.8 24 12 21 15.5 19.5" fill="none" stroke="currentColor" stroke-width="1.5"/></svg><svg class="ua" viewBox="0 0 18 29"><path d="M9 0.5 V27 M2.5 19.5 C6 21 8.2 24 9 28 C9.8 24 12 21 15.5 19.5" fill="none" stroke="currentColor" stroke-width="1.5"/></svg></span></div>
<div class="t r" style="left:819.0px;top:1048.4px;font-size:36px;transform:translateX(-50%);"><span class="rd ar"><svg class="ua" viewBox="0 0 18 29"><path d="M9 0.5 V27 M2.5 19.5 C6 21 8.2 24 9 28 C9.8 24 12 21 15.5 19.5" fill="none" stroke="currentColor" stroke-width="1.5"/></svg></span></div>
<div class="t r" style="left:1080.0px;top:1048.4px;font-size:36px;transform:translateX(-50%);"><span class="eq">=</span></div>
<div class="t r" style="left:1345.0px;top:1048.4px;font-size:36px;transform:translateX(-50%);"><span class="eq">=</span></div>
<div class="t r" style="left:307.0px;top:1088.2px;font-size:36px;transform:translateX(-100%);">calibration</div>
<div class="t r" style="left:436.0px;top:1088.2px;font-size:36px;transform:translateX(-50%);"><span class="ar"><svg class="ua" viewBox="0 0 18 29"><path d="M9 28.5 V2 M2.5 9.5 C6 8 8.2 5 9 1 C9.8 5 12 8 15.5 9.5" fill="none" stroke="currentColor" stroke-width="1.5"/></svg></span></div>
<div class="t r" style="left:627.0px;top:1088.2px;font-size:36px;transform:translateX(-50%);">/</div>
<div class="t r" style="left:819.0px;top:1088.2px;font-size:36px;transform:translateX(-50%);"><span class="rd ar"><svg class="ua" viewBox="0 0 18 29"><path d="M9 0.5 V27 M2.5 19.5 C6 21 8.2 24 9 28 C9.8 24 12 21 15.5 19.5" fill="none" stroke="currentColor" stroke-width="1.5"/></svg></span></div>
<div class="t r" style="left:1080.0px;top:1088.2px;font-size:36px;transform:translateX(-50%);"><span class="rd ar"><svg class="ua" viewBox="0 0 18 29"><path d="M9 0.5 V27 M2.5 19.5 C6 21 8.2 24 9 28 C9.8 24 12 21 15.5 19.5" fill="none" stroke="currentColor" stroke-width="1.5"/></svg></span></div>
<div class="t r" style="left:1345.0px;top:1088.2px;font-size:36px;transform:translateX(-50%);"><span class="ar"><svg class="ua" viewBox="0 0 18 29"><path d="M9 28.5 V2 M2.5 9.5 C6 8 8.2 5 9 1 C9.8 5 12 8 15.5 9.5" fill="none" stroke="currentColor" stroke-width="1.5"/></svg></span></div>
<div class="t r" style="left:307.0px;top:1128.1px;font-size:36px;transform:translateX(-100%);">testing cost</div>
<div class="t r" style="left:436.0px;top:1128.1px;font-size:36px;transform:translateX(-50%);"><span class="eq">=</span></div>
<div class="t r" style="left:627.0px;top:1128.1px;font-size:36px;transform:translateX(-50%);"><span class="eq">=</span></div>
<div class="t r" style="left:819.0px;top:1128.1px;font-size:36px;transform:translateX(-50%);"><span class="eq">=</span></div>
<div class="t r" style="left:1080.0px;top:1128.1px;font-size:36px;transform:translateX(-50%);"><span class="rd ar"><svg class="ua" viewBox="0 0 18 29"><path d="M9 28.5 V2 M2.5 9.5 C6 8 8.2 5 9 1 C9.8 5 12 8 15.5 9.5" fill="none" stroke="currentColor" stroke-width="1.5"/></svg><svg class="ua" viewBox="0 0 18 29"><path d="M9 28.5 V2 M2.5 9.5 C6 8 8.2 5 9 1 C9.8 5 12 8 15.5 9.5" fill="none" stroke="currentColor" stroke-width="1.5"/></svg><svg class="ua" viewBox="0 0 18 29"><path d="M9 28.5 V2 M2.5 9.5 C6 8 8.2 5 9 1 C9.8 5 12 8 15.5 9.5" fill="none" stroke="currentColor" stroke-width="1.5"/></svg></span></div>
<div class="t r" style="left:1345.0px;top:1128.1px;font-size:36px;transform:translateX(-50%);"><span class="eq">=</span></div>
<div class="t r" style="left:307.0px;top:1168.1px;font-size:36px;transform:translateX(-100%);">training cost</div>
<div class="t r" style="left:436.0px;top:1168.1px;font-size:36px;transform:translateX(-50%);"><span class="eq">=</span></div>
<div class="t r" style="left:627.0px;top:1168.1px;font-size:36px;transform:translateX(-50%);"><span class="rd ar"><svg class="ua" viewBox="0 0 18 29"><path d="M9 28.5 V2 M2.5 9.5 C6 8 8.2 5 9 1 C9.8 5 12 8 15.5 9.5" fill="none" stroke="currentColor" stroke-width="1.5"/></svg><svg class="ua" viewBox="0 0 18 29"><path d="M9 28.5 V2 M2.5 9.5 C6 8 8.2 5 9 1 C9.8 5 12 8 15.5 9.5" fill="none" stroke="currentColor" stroke-width="1.5"/></svg><svg class="ua" viewBox="0 0 18 29"><path d="M9 28.5 V2 M2.5 9.5 C6 8 8.2 5 9 1 C9.8 5 12 8 15.5 9.5" fill="none" stroke="currentColor" stroke-width="1.5"/></svg></span></div>
<div class="t r" style="left:819.0px;top:1168.1px;font-size:36px;transform:translateX(-50%);"><span class="eq">=</span></div>
<div class="t r" style="left:1080.0px;top:1168.1px;font-size:36px;transform:translateX(-50%);"><span class="eq">=</span></div>
<div class="t r" style="left:1345.0px;top:1168.1px;font-size:36px;transform:translateX(-50%);"><span class="eq">=</span></div>
<div class="t r" style="left:307.0px;top:1207.1px;font-size:36px;transform:translateX(-100%);">acc under SQA</div>
<div class="t r" style="left:436.0px;top:1207.1px;font-size:36px;transform:translateX(-50%);"><span class="ar"><svg class="ua" viewBox="0 0 18 29"><path d="M9 28.5 V2 M2.5 9.5 C6 8 8.2 5 9 1 C9.8 5 12 8 15.5 9.5" fill="none" stroke="currentColor" stroke-width="1.5"/></svg></span></div>
<div class="t r" style="left:627.0px;top:1207.1px;font-size:36px;transform:translateX(-50%);"><span class="ar"><svg class="ua" viewBox="0 0 18 29"><path d="M9 28.5 V2 M2.5 9.5 C6 8 8.2 5 9 1 C9.8 5 12 8 15.5 9.5" fill="none" stroke="currentColor" stroke-width="1.5"/></svg><svg class="ua" viewBox="0 0 18 29"><path d="M9 28.5 V2 M2.5 9.5 C6 8 8.2 5 9 1 C9.8 5 12 8 15.5 9.5" fill="none" stroke="currentColor" stroke-width="1.5"/></svg></span></div>
<div class="t r" style="left:819.0px;top:1207.1px;font-size:36px;transform:translateX(-50%);"><span class="ar"><svg class="ua" viewBox="0 0 18 29"><path d="M9 28.5 V2 M2.5 9.5 C6 8 8.2 5 9 1 C9.8 5 12 8 15.5 9.5" fill="none" stroke="currentColor" stroke-width="1.5"/></svg></span></div>
<div class="t r" style="left:1080.0px;top:1207.1px;font-size:36px;transform:translateX(-50%);"><span class="ar"><svg class="ua" viewBox="0 0 18 29"><path d="M9 28.5 V2 M2.5 9.5 C6 8 8.2 5 9 1 C9.8 5 12 8 15.5 9.5" fill="none" stroke="currentColor" stroke-width="1.5"/></svg></span></div>
<div class="t r" style="left:1345.0px;top:1207.1px;font-size:36px;transform:translateX(-50%);"><span class="ar"><svg class="ua" viewBox="0 0 18 29"><path d="M9 28.5 V2 M2.5 9.5 C6 8 8.2 5 9 1 C9.8 5 12 8 15.5 9.5" fill="none" stroke="currentColor" stroke-width="1.5"/></svg><svg class="ua" viewBox="0 0 18 29"><path d="M9 28.5 V2 M2.5 9.5 C6 8 8.2 5 9 1 C9.8 5 12 8 15.5 9.5" fill="none" stroke="currentColor" stroke-width="1.5"/></svg><svg class="ua" viewBox="0 0 18 29"><path d="M9 28.5 V2 M2.5 9.5 C6 8 8.2 5 9 1 C9.8 5 12 8 15.5 9.5" fill="none" stroke="currentColor" stroke-width="1.5"/></svg></span></div>
<svg style="left:49px;top:1348.2px" width="25.5" height="25.5" viewBox="0 0 27 27"><path d="M1.2 1.5 L25.5 13.5 L1.2 25.5 L8.5 13.5 Z" fill="#fff" stroke="#000" stroke-width="1.8" stroke-linejoin="miter"/><path d="M8.5 13.5 L25.5 13.5 L1.2 25.5 Z" fill="#000"/></svg>
<div class="t s" style="left:108.0px;top:1341.1px;font-size:40px;font-weight:bold;word-spacing:-0.352px;">Compared to current methods, we propose a novel perspective to</div>
<div class="t s" style="left:108.0px;top:1389.1px;font-size:40px;font-weight:bold;word-spacing:-0.210px;">defend, i.e., <span class="b">perturbing outputs to mislead attackers in test time</span></div>
<div class="bx" style="left:171.5px;top:1492px;width:318.5px;height:217.5px;background:#7bacd3;box-shadow:0 0 4px 1px #7bacd3"></div>
<div class="bx" style="left:581px;top:1493px;width:464px;height:217.5px;background:#7bacd3;box-shadow:0 0 4px 1px #7bacd3"></div>
<div class="bx" style="left:1121.5px;top:1492.5px;width:174.5px;height:218.0px;background:#fdae6b;box-shadow:0 0 4px 1px #fdae6b"></div>
<div class="bx" style="left:171.5px;top:1735.5px;width:1124.5px;height:52.5px;background:#a8d9a8;box-shadow:0 0 4px 1px #a8d9a8"></div>
<div class="t r" style="left:253.0px;top:1432.5px;font-size:49px;font-weight:bold;font-style:italic;">pre-pro</div>
<div class="t r" style="left:722.5px;top:1433.0px;font-size:49px;font-weight:bold;font-style:italic;letter-spacing:-0.084px;">in-model</div>
<div class="t r" style="left:1124.0px;top:1435.0px;font-size:49px;font-weight:bold;font-style:italic;">post-pro</div>
<div class="t r" style="left:330.0px;top:1520.0px;font-size:49px;color:#fff;transform:translateX(-50%);">randomizing</div>
<div class="t r" style="left:330.0px;top:1576.5px;font-size:49px;color:#fff;transform:translateX(-50%);">denoising</div>
<div class="t r" style="left:330.0px;top:1632.5px;font-size:49px;color:#fff;transform:translateX(-50%);">quantifying</div>
<div class="t r" style="left:813.0px;top:1500.3px;font-size:49px;color:#000;transform:translateX(-50%);">adversarial training</div>
<div class="t r" style="left:813.0px;top:1550.5px;font-size:49px;color:#000;transform:translateX(-50%);">special architecture</div>
<div class="t r" style="left:813.0px;top:1600.0px;font-size:49px;color:#000;transform:translateX(-50%);">training randomness</div>
<div class="t r" style="left:813.0px;top:1650.0px;font-size:49px;color:#fff;transform:translateX(-50%);">dynamic inference</div>
<div class="t r" style="left:1208.0px;top:1578.5px;font-size:49px;color:#fff;transform:translateX(-50%);">ours</div>
<div class="t r" style="left:284.0px;top:1737.0px;font-size:49px;word-spacing:-1.703px;">training-time defense</div>
<div class="t r" style="left:788.0px;top:1737.0px;font-size:49px;color:#fff;">testing-time defense</div>
<div class="t r" style="left:123.0px;top:1535.5px;font-size:46px;font-style:italic;">x</div>
<div class="t r" style="left:521.0px;top:1535.5px;font-size:46px;font-style:italic;">x&prime;</div>
<div class="t r" style="left:1071.0px;top:1537.0px;font-size:46px;font-style:italic;">y</div>
<div class="t r" style="left:1325.0px;top:1528.0px;font-size:46px;font-style:italic;">y&prime;</div>
<div class="ln" style="left:104px;top:1599.3px;width:61px;height:3.4px;background:#000"></div>
<div class="ln" style="left:497px;top:1599.3px;width:78px;height:3.4px;background:#000"></div>
<div class="ln" style="left:1052px;top:1599.3px;width:64px;height:3.4px;background:#000"></div>
<div class="ln" style="left:1303px;top:1599.3px;width:62px;height:3.4px;background:#000"></div>
<svg style="left:1356px;top:1591.5px" width="26" height="19" viewBox="0 0 28 20"><path d="M0 2 L27 10 L0 18 Z" fill="#000"/></svg>
<svg style="left:50px;top:1858.2px" width="25.5" height="25.5" viewBox="0 0 27 27"><path d="M1.2 1.5 L25.5 13.5 L1.2 25.5 L8.5 13.5 Z" fill="#fff" stroke="#000" stroke-width="1.8" stroke-linejoin="miter"/><path d="M8.5 13.5 L25.5 13.5 L1.2 25.5 Z" fill="#000"/></svg>
<div class="t s" style="left:108.0px;top:1850.7px;font-size:40px;font-weight:bold;word-spacing:-3.438px;">Advantages of post-processing</div>
<div class="t s" style="left:49.0px;top:1913.0px;font-size:35px;color:#0070c0;">&bull;</div>
<div class="t s" style="left:96.0px;top:1908.7px;font-size:40px;word-spacing:-0.887px;"><span class="b">SQAs are prevented</span> regardless of the model&rsquo;s worst-case robustness.</div>
<div class="t s" style="left:49.0px;top:1970.6px;font-size:35px;">&bull;</div>
<div class="t s" style="left:96.0px;top:1966.3px;font-size:40px;word-spacing:-0.878px;">The original predictions are hardly changed, i.e., <span class="b">no degradation on accuracy</span>.</div>
<div class="t s" style="left:49.0px;top:2027.6px;font-size:35px;">&bull;</div>
<div class="t s" style="left:96.0px;top:2023.3px;font-size:40px;word-spacing:-0.988px;">The simultaneous <span class="b">improvements on the calibration</span> of confidence scores.</div>
<svg style="left:50px;top:2146.2px" width="25.5" height="25.5" viewBox="0 0 27 27"><path d="M1.2 1.5 L25.5 13.5 L1.2 25.5 L8.5 13.5 Z" fill="#fff" stroke="#000" stroke-width="1.8" stroke-linejoin="miter"/><path d="M8.5 13.5 L25.5 13.5 L1.2 25.5 Z" fill="#000"/></svg>
<div class="t s" style="left:108.0px;top:2138.7px;font-size:40px;font-weight:bold;word-spacing:-0.358px;">How to <span class="b">serve users while mitigating SQA attackers</span> when they access</div>
<div class="t s" style="left:108.0px;top:2186.7px;font-size:40px;font-weight:bold;word-spacing:-2.146px;">the same output information?</div>
<div class="t s" style="left:1491.0px;top:438.7px;font-size:45px;color:#c8161e;font-weight:bold;text-shadow:2px 2px 3px rgba(0,0,0,.35);">Adversarial Attack on Attackers (AAA)</div>
<svg style="left:1500px;top:480px" width="1560" height="380" viewBox="1500 480 1560 380"><path d="M1607.0 528.7 L3015.0 735.0" stroke="#1f77b4" stroke-width="5.2" fill="none"/><path d="M1607.0 556.6 L1990.3 528.5 L1990.3 641.0 L2501.5 603.6 L2501.5 716.1 L3013.0 678.6 L3013.0 793.5" stroke="#ff7f0e" stroke-width="5.2" fill="none" stroke-linejoin="miter"/><path d="M1607.0 580.6 L1615.0 581.8 L1623.0 582.4 L1631.0 582.6 L1639.0 582.3 L1647.0 581.5 L1655.0 580.2 L1663.0 578.5 L1671.0 576.4 L1679.0 574.0 L1687.0 571.2 L1695.0 568.1 L1703.0 564.7 L1711.0 561.2 L1719.0 557.4 L1727.0 553.6 L1735.0 549.7 L1743.0 545.8 L1751.0 541.8 L1759.0 538.0 L1767.0 534.3 L1775.0 530.8 L1783.0 527.5 L1791.0 524.4 L1799.0 521.6 L1807.0 519.2 L1815.0 517.2 L1823.0 515.6 L1831.0 514.4 L1839.0 513.6 L1847.0 513.3 L1855.0 513.5 L1863.0 514.3 L1871.0 515.5 L1879.0 517.2 L1887.0 519.4 L1895.0 522.1 L1903.0 525.2 L1911.0 528.9 L1919.0 532.9 L1927.0 537.4 L1935.0 542.2 L1943.0 547.3 L1951.0 552.8 L1959.0 558.5 L1967.0 564.4 L1975.0 570.4 L1983.0 576.6 L1991.0 582.9 L1999.0 589.2 L2007.0 595.4 L2015.0 601.6 L2023.0 607.6 L2031.0 613.5 L2039.0 619.2 L2047.0 624.6 L2055.0 629.6 L2063.0 634.4 L2071.0 638.8 L2079.0 642.7 L2087.0 646.3 L2095.0 649.3 L2103.0 651.9 L2111.0 654.1 L2119.0 655.7 L2127.0 656.8 L2135.0 657.4 L2143.0 657.5 L2151.0 657.2 L2159.0 656.3 L2167.0 655.0 L2175.0 653.3 L2183.0 651.2 L2191.0 648.7 L2199.0 645.9 L2207.0 642.8 L2215.0 639.5 L2223.0 635.9 L2231.0 632.2 L2239.0 628.3 L2247.0 624.4 L2255.0 620.5 L2263.0 616.5 L2271.0 612.7 L2279.0 609.0 L2287.0 605.5 L2295.0 602.2 L2303.0 599.2 L2311.0 596.4 L2319.0 594.0 L2327.0 592.0 L2335.0 590.4 L2343.0 589.2 L2351.0 588.5 L2359.0 588.3 L2367.0 588.5 L2375.0 589.3 L2383.0 590.5 L2391.0 592.2 L2399.0 594.5 L2407.0 597.2 L2415.0 600.4 L2423.0 604.0 L2431.0 608.1 L2439.0 612.6 L2447.0 617.4 L2455.0 622.6 L2463.0 628.1 L2471.0 633.8 L2479.0 639.7 L2487.0 645.8 L2495.0 652.0 L2503.0 658.2 L2511.0 664.5 L2519.0 670.8 L2527.0 676.9 L2535.0 683.0 L2543.0 688.8 L2551.0 694.5 L2559.0 699.8 L2567.0 704.9 L2575.0 709.6 L2583.0 714.0 L2591.0 717.9 L2599.0 721.4 L2607.0 724.5 L2615.0 727.0 L2623.0 729.1 L2631.0 730.7 L2639.0 731.8 L2647.0 732.4 L2655.0 732.5 L2663.0 732.1 L2671.0 731.2 L2679.0 729.9 L2687.0 728.2 L2695.0 726.0 L2703.0 723.5 L2711.0 720.7 L2719.0 717.6 L2727.0 714.2 L2735.0 710.6 L2743.0 706.9 L2751.0 703.0 L2759.0 699.1 L2767.0 695.2 L2775.0 691.3 L2783.0 687.4 L2791.0 683.7 L2799.0 680.2 L2807.0 677.0 L2815.0 673.9 L2823.0 671.2 L2831.0 668.8 L2839.0 666.9 L2847.0 665.3 L2855.0 664.1 L2863.0 663.4 L2871.0 663.2 L2879.0 663.5 L2887.0 664.3 L2895.0 665.5 L2903.0 667.3 L2911.0 669.6 L2919.0 672.3 L2927.0 675.6 L2935.0 679.2 L2943.0 683.3 L2951.0 687.8 L2959.0 692.7 L2967.0 697.9 L2975.0 703.3 L2983.0 709.1 L2991.0 715.0 L2999.0 721.1 L3007.0 727.3 L3015.0 733.6" stroke="#2ca02c" stroke-width="5.2" fill="none" stroke-linejoin="round"/><path d="M1609 547.3 H3015.0" stroke="#000" stroke-width="2.2" stroke-dasharray="7.4 3.2" fill="none"/><path d="M2171 622.3 H3015.0" stroke="#000" stroke-width="2.2" stroke-dasharray="7.4 3.2" fill="none"/><path d="M2664 697.3 H3015.0" stroke="#000" stroke-width="2.2" stroke-dasharray="7.4 3.2" fill="none"/><rect x="1556" y="571.5" width="397" height="216.5" rx="5" fill="#fff" fill-opacity=".8" stroke="#ccc" stroke-opacity=".8" stroke-width="1.3"/><path d="M1566 598 H1638" stroke="#1f77b4" stroke-width="5.2"/><path d="M1566 650.5 H1638" stroke="#ff7f0e" stroke-width="5.2"/><path d="M1566 703 H1638" stroke="#2ca02c" stroke-width="5.2"/><path d="M1568 756 H1636" stroke="#000" stroke-width="2.2" stroke-dasharray="7.4 3.2"/><path d="M1538.5 498 V804.7 H3032" stroke="#444" stroke-width="1.3" fill="none"/></svg>
<div class="t r" style="left:1663.0px;top:582.4px;font-size:33px;word-spacing:3.812px;">None (<i class="ds">&#8467;<sub>org</sub></i>)</div>
<div class="t r" style="left:1663.0px;top:634.4px;font-size:33px;word-spacing:5.406px;">AAA-linear (<i class="ds">&#8467;<sub>trg_lnr</sub></i>)</div>
<div class="t r" style="left:1663.0px;top:686.9px;font-size:33px;word-spacing:4.109px;">AAA-sine (<i class="ds">&#8467;<sub>trg_sin</sub></i>)</div>
<div class="t r" style="left:1663.0px;top:739.4px;font-size:33px;word-spacing:2.414px;">loss attractor (<i class="ds">&#8467;<sub>atr</sub></i>)</div>
<div class="t r" style="left:2176.0px;top:805.4px;font-size:33px;word-spacing:1.703px;">adversarial direction</div>
<div class="t r" style="left:1518.0px;top:632.4px;font-size:33px;transform:translateX(-50%);transform:translate(-50%,0) rotate(-90deg);transform-origin:50% 64%;">margin loss</div>
<svg style="left:1493px;top:854.8px" width="25.5" height="25.5" viewBox="0 0 27 27"><path d="M1.2 1.5 L25.5 13.5 L1.2 25.5 L8.5 13.5 Z" fill="#fff" stroke="#000" stroke-width="1.8" stroke-linejoin="miter"/><path d="M8.5 13.5 L25.5 13.5 L1.2 25.5 Z" fill="#000"/></svg>
<div class="t s" style="left:1551.0px;top:847.3px;font-size:40px;font-weight:bold;word-spacing:-3.266px;">Main idea</div>
<div class="t s" style="left:1533.0px;top:907.7px;font-size:36px;color:#0070c0;">&bull;</div>
<div class="t s" style="left:1566.0px;top:904.3px;font-size:40px;word-spacing:-0.758px;"><span class="b">fool attackers into incorrect directions</span> by <span class="b">slight perturbations on DNN outputs.</span></div>
<div class="t s" style="left:1533.0px;top:965.7px;font-size:36px;color:#0070c0;">&bull;</div>
<div class="t s" style="left:1566.0px;top:962.3px;font-size:40px;word-spacing:-0.355px;"><span class="b">Perturb test-time outputs to manipulate loss trend</span>, the only metric SQAs base on.</div>
<div class="t s" style="left:1533.0px;top:1022.7px;font-size:36px;">&bull;</div>
<div class="t s" style="left:1566.0px;top:1019.3px;font-size:40px;word-spacing:-0.692px;">attackers trying to <span class="b">greedily update following the original trend are misled.</span></div>
<svg style="left:1500px;top:1060px" width="1560" height="560" viewBox="1500 1060 1560 560"><path d="M1650.2 1519.0 L1663.5 1517.8 L1676.7 1509.2 L1690.0 1477.9 L1703.2 1381.9 L1716.5 1288.0 L1729.7 1229.2 L1743.0 1178.3 L1756.2 1152.1 L1769.5 1139.9 L1782.7 1134.1 L1796.0 1131.3 L1809.2 1129.7 L1822.5 1128.6 L1835.7 1127.8 L1849.0 1127.4 L1862.2 1127.4 L1875.5 1127.4 L1888.7 1127.4 L1902.0 1127.4 L1915.2 1127.4 L1928.5 1127.4 L1941.7 1127.4 L1955.0 1127.4 L1968.2 1127.4 L1981.5 1127.4 L1994.7 1127.4 L2008.0 1127.4 L2021.2 1127.4 L2034.5 1127.4 L2047.7 1127.4 L2060.9 1127.4 L2074.2 1127.4 L2087.4 1127.4 L2100.7 1127.4 L2113.9 1127.4 L2127.2 1127.4 L2140.4 1127.4 L2153.7 1127.4 L2166.9 1127.4 L2180.2 1127.4 L2193.4 1127.4 L2206.7 1127.4 L2219.9 1127.4 L2233.2 1127.4 L2246.4 1127.4 L2259.7 1127.4 L2272.9 1127.4 L2286.2 1127.4 L2299.4 1127.4 L2312.7 1127.4 L2325.9 1127.4 L2339.2 1127.4 L2352.4 1127.4 L2365.7 1127.4 L2378.9 1127.4 L2392.2 1127.4 L2405.4 1127.4 L2418.7 1127.4 L2431.9 1127.4 L2445.2 1127.4 L2458.4 1127.4 L2471.7 1127.4 L2484.9 1127.4 L2498.2 1127.4 L2511.4 1127.4 L2524.7 1127.4 L2537.9 1127.4 L2551.2 1127.4 L2564.4 1127.4 L2577.7 1127.4 L2590.9 1127.4 L2604.2 1127.4 L2617.4 1127.4 L2630.7 1127.4 L2643.9 1127.4 L2657.2 1127.4 L2670.4 1127.4 L2683.7 1127.4 L2696.9 1127.4 L2710.2 1127.4 L2723.4 1127.4 L2736.7 1127.4 L2749.9 1127.4 L2763.2 1127.4 L2776.4 1127.4 L2789.7 1127.4 L2802.9 1127.4 L2816.2 1127.4 L2829.4 1127.4 L2842.7 1127.4 L2855.9 1127.4 L2869.2 1127.4 L2882.4 1127.4 L2895.7 1127.4 L2908.9 1127.4 L2922.2 1127.4 L2935.4 1127.4 L2948.7 1127.4 L2961.9 1127.4" stroke="#1f77b4" stroke-width="2.1" fill="none" stroke-linejoin="round"/><path d="M1650.2 1519.0 L1663.5 1519.0 L1676.7 1519.0 L1690.0 1519.0 L1703.2 1515.1 L1716.5 1295.8 L1729.7 1127.4 L1743.0 1127.4 L1756.2 1127.4 L1769.5 1127.4 L1782.7 1127.4 L1796.0 1127.4 L1809.2 1127.4 L1822.5 1127.4 L1835.7 1127.4 L1849.0 1127.4 L1862.2 1127.4 L1875.5 1127.4 L1888.7 1127.4 L1902.0 1127.4 L1915.2 1127.4 L1928.5 1127.4 L1941.7 1127.4 L1955.0 1127.4 L1968.2 1127.4 L1981.5 1127.4 L1994.7 1127.4 L2008.0 1127.4 L2021.2 1127.4 L2034.5 1127.4 L2047.7 1127.4 L2060.9 1127.4 L2074.2 1127.4 L2087.4 1127.4 L2100.7 1127.4 L2113.9 1127.4 L2127.2 1127.4 L2140.4 1127.4 L2153.7 1127.4 L2166.9 1127.4 L2180.2 1127.4 L2193.4 1127.4 L2206.7 1127.4 L2219.9 1127.4 L2233.2 1127.4 L2246.4 1127.4 L2259.7 1127.4 L2272.9 1127.4 L2286.2 1127.4 L2299.4 1127.4 L2312.7 1127.4 L2325.9 1127.4 L2339.2 1127.4 L2352.4 1127.4 L2365.7 1127.4 L2378.9 1127.4 L2392.2 1127.4 L2405.4 1127.4 L2418.7 1127.4 L2431.9 1127.4 L2445.2 1127.4 L2458.4 1127.4 L2471.7 1127.4 L2484.9 1127.4 L2498.2 1127.4 L2511.4 1127.4 L2524.7 1127.4 L2537.9 1127.4 L2551.2 1127.4 L2564.4 1127.4 L2577.7 1127.4 L2590.9 1127.4 L2604.2 1127.4 L2617.4 1127.4 L2630.7 1127.4 L2643.9 1127.4 L2657.2 1127.4 L2670.4 1127.4 L2683.7 1127.4 L2696.9 1127.4 L2710.2 1127.4 L2723.4 1127.4 L2736.7 1127.4 L2749.9 1127.4 L2763.2 1127.4 L2776.4 1127.4 L2789.7 1127.4 L2802.9 1127.4 L2816.2 1127.4 L2829.4 1127.4 L2842.7 1127.4 L2855.9 1127.4 L2869.2 1127.4 L2882.4 1127.4 L2895.7 1127.4 L2908.9 1127.4 L2922.2 1127.4 L2935.4 1127.4 L2948.7 1127.4 L2961.9 1127.4" stroke="#1f77b4" stroke-width="2.1" fill="none" stroke-linejoin="round" stroke-dasharray="2 3.4"/><path d="M1650.2 1519.0 L1663.5 1478.7 L1676.7 1493.5 L1690.0 1507.3 L1703.2 1440.7 L1716.5 1342.8 L1729.7 1206.5 L1743.0 1179.9 L1756.2 1225.7 L1769.5 1211.2 L1782.7 1196.3 L1796.0 1213.2 L1809.2 1230.8 L1822.5 1207.3 L1835.7 1141.9 L1849.0 1127.4 L1862.2 1127.4 L1875.5 1127.4 L1888.7 1127.4 L1902.0 1127.4 L1915.2 1127.4 L1928.5 1127.4 L1941.7 1127.4 L1955.0 1127.4 L1968.2 1127.4 L1981.5 1127.4 L1994.7 1127.4 L2008.0 1127.4 L2021.2 1127.4 L2034.5 1127.4 L2047.7 1127.4 L2060.9 1127.4 L2074.2 1127.4 L2087.4 1127.4 L2100.7 1127.4 L2113.9 1127.4 L2127.2 1127.4 L2140.4 1127.4 L2153.7 1127.4 L2166.9 1127.4 L2180.2 1127.4 L2193.4 1127.4 L2206.7 1127.4 L2219.9 1127.4 L2233.2 1127.4 L2246.4 1127.4 L2259.7 1127.4 L2272.9 1127.4 L2286.2 1127.4 L2299.4 1127.4 L2312.7 1127.4 L2325.9 1127.4 L2339.2 1127.4 L2352.4 1127.4 L2365.7 1127.4 L2378.9 1127.4 L2392.2 1127.4 L2405.4 1127.4 L2418.7 1127.4 L2431.9 1127.4 L2445.2 1127.4 L2458.4 1127.4 L2471.7 1127.4 L2484.9 1127.4 L2498.2 1127.4 L2511.4 1127.4 L2524.7 1127.4 L2537.9 1127.4 L2551.2 1127.4 L2564.4 1127.4 L2577.7 1127.4 L2590.9 1127.4 L2604.2 1127.4 L2617.4 1127.4 L2630.7 1127.4 L2643.9 1127.4 L2657.2 1127.4 L2670.4 1127.4 L2683.7 1127.4 L2696.9 1127.4 L2710.2 1127.4 L2723.4 1127.4 L2736.7 1127.4 L2749.9 1127.4 L2763.2 1127.4 L2776.4 1127.4 L2789.7 1127.4 L2802.9 1127.4 L2816.2 1127.4 L2829.4 1127.4 L2842.7 1127.4 L2855.9 1127.4 L2869.2 1127.4 L2882.4 1127.4 L2895.7 1127.4 L2908.9 1127.4 L2922.2 1127.4 L2935.4 1127.4 L2948.7 1127.4 L2961.9 1127.4" stroke="#ff7f0e" stroke-width="2.1" fill="none" stroke-linejoin="round"/><path d="M1650.2 1519.0 L1663.5 1519.0 L1676.7 1519.0 L1690.0 1519.0 L1703.2 1440.7 L1716.5 1295.8 L1729.7 1127.4 L1743.0 1127.4 L1756.2 1127.4 L1769.5 1127.4 L1782.7 1127.4 L1796.0 1127.4 L1809.2 1127.4 L1822.5 1127.4 L1835.7 1127.4 L1849.0 1127.4 L1862.2 1127.4 L1875.5 1127.4 L1888.7 1127.4 L1902.0 1127.4 L1915.2 1127.4 L1928.5 1127.4 L1941.7 1127.4 L1955.0 1127.4 L1968.2 1127.4 L1981.5 1127.4 L1994.7 1127.4 L2008.0 1127.4 L2021.2 1127.4 L2034.5 1127.4 L2047.7 1127.4 L2060.9 1127.4 L2074.2 1127.4 L2087.4 1127.4 L2100.7 1127.4 L2113.9 1127.4 L2127.2 1127.4 L2140.4 1127.4 L2153.7 1127.4 L2166.9 1127.4 L2180.2 1127.4 L2193.4 1127.4 L2206.7 1127.4 L2219.9 1127.4 L2233.2 1127.4 L2246.4 1127.4 L2259.7 1127.4 L2272.9 1127.4 L2286.2 1127.4 L2299.4 1127.4 L2312.7 1127.4 L2325.9 1127.4 L2339.2 1127.4 L2352.4 1127.4 L2365.7 1127.4 L2378.9 1127.4 L2392.2 1127.4 L2405.4 1127.4 L2418.7 1127.4 L2431.9 1127.4 L2445.2 1127.4 L2458.4 1127.4 L2471.7 1127.4 L2484.9 1127.4 L2498.2 1127.4 L2511.4 1127.4 L2524.7 1127.4 L2537.9 1127.4 L2551.2 1127.4 L2564.4 1127.4 L2577.7 1127.4 L2590.9 1127.4 L2604.2 1127.4 L2617.4 1127.4 L2630.7 1127.4 L2643.9 1127.4 L2657.2 1127.4 L2670.4 1127.4 L2683.7 1127.4 L2696.9 1127.4 L2710.2 1127.4 L2723.4 1127.4 L2736.7 1127.4 L2749.9 1127.4 L2763.2 1127.4 L2776.4 1127.4 L2789.7 1127.4 L2802.9 1127.4 L2816.2 1127.4 L2829.4 1127.4 L2842.7 1127.4 L2855.9 1127.4 L2869.2 1127.4 L2882.4 1127.4 L2895.7 1127.4 L2908.9 1127.4 L2922.2 1127.4 L2935.4 1127.4 L2948.7 1127.4 L2961.9 1127.4" stroke="#ff7f0e" stroke-width="2.1" fill="none" stroke-linejoin="round" stroke-dasharray="2 3.4"/><path d="M1650.2 1488.1 L1663.5 1442.2 L1676.7 1427.0 L1690.0 1418.4 L1703.2 1381.9 L1716.5 1341.2 L1729.7 1342.4 L1743.0 1323.6 L1756.2 1274.2 L1769.5 1254.3 L1782.7 1217.1 L1796.0 1236.7 L1809.2 1209.2 L1822.5 1207.3 L1835.7 1198.3 L1849.0 1192.4 L1862.2 1183.0 L1875.5 1160.3 L1888.7 1176.7 L1902.0 1165.4 L1915.2 1146.6 L1928.5 1168.5 L1941.7 1169.3 L1955.0 1155.6 L1968.2 1151.3 L1981.5 1143.8 L1994.7 1157.9 L2008.0 1142.7 L2021.2 1137.6 L2034.5 1141.1 L2047.7 1150.5 L2060.9 1152.9 L2074.2 1144.6 L2087.4 1132.5 L2100.7 1143.8 L2113.9 1141.1 L2127.2 1135.2 L2140.4 1141.5 L2153.7 1133.7 L2166.9 1135.6 L2180.2 1141.9 L2193.4 1127.4 L2206.7 1128.2 L2219.9 1130.5 L2233.2 1147.4 L2246.4 1145.0 L2259.7 1135.6 L2272.9 1136.4 L2286.2 1137.2 L2299.4 1134.8 L2312.7 1128.2 L2325.9 1142.7 L2339.2 1127.4 L2352.4 1137.2 L2365.7 1128.6 L2378.9 1138.0 L2392.2 1138.0 L2405.4 1128.2 L2418.7 1135.6 L2431.9 1139.5 L2445.2 1131.7 L2458.4 1131.7 L2471.7 1137.2 L2484.9 1135.6 L2498.2 1132.5 L2511.4 1131.7 L2524.7 1145.8 L2537.9 1139.5 L2551.2 1127.4 L2564.4 1127.4 L2577.7 1136.4 L2590.9 1127.4 L2604.2 1141.1 L2617.4 1131.7 L2630.7 1130.9 L2643.9 1138.8 L2657.2 1143.5 L2670.4 1132.5 L2683.7 1146.6 L2696.9 1133.3 L2710.2 1135.6 L2723.4 1131.7 L2736.7 1131.7 L2749.9 1130.9 L2763.2 1130.1 L2776.4 1134.1 L2789.7 1127.4 L2802.9 1130.1 L2816.2 1142.7 L2829.4 1127.4 L2842.7 1127.4 L2855.9 1138.8 L2869.2 1141.1 L2882.4 1130.1 L2895.7 1127.4 L2908.9 1134.1 L2922.2 1127.4 L2935.4 1127.4 L2948.7 1129.4 L2961.9 1131.3" stroke="#2ca02c" stroke-width="2.1" fill="none" stroke-linejoin="round"/><path d="M1650.2 1484.1 L1663.5 1432.1 L1676.7 1433.2 L1690.0 1436.8 L1703.2 1371.0 L1716.5 1327.1 L1729.7 1338.1 L1743.0 1312.6 L1756.2 1261.3 L1769.5 1246.8 L1782.7 1201.0 L1796.0 1224.9 L1809.2 1205.7 L1822.5 1208.5 L1835.7 1190.1 L1849.0 1189.3 L1862.2 1176.7 L1875.5 1151.3 L1888.7 1173.2 L1902.0 1157.2 L1915.2 1138.4 L1928.5 1162.6 L1941.7 1162.3 L1955.0 1153.6 L1968.2 1143.8 L1981.5 1139.1 L1994.7 1157.2 L2008.0 1139.1 L2021.2 1135.6 L2034.5 1139.1 L2047.7 1148.9 L2060.9 1150.1 L2074.2 1141.1 L2087.4 1130.5 L2100.7 1141.9 L2113.9 1139.1 L2127.2 1133.7 L2140.4 1139.1 L2153.7 1131.7 L2166.9 1133.7 L2180.2 1139.1 L2193.4 1127.4 L2206.7 1128.2 L2219.9 1131.3 L2233.2 1147.0 L2246.4 1143.1 L2259.7 1133.3 L2272.9 1139.1 L2286.2 1139.1 L2299.4 1137.2 L2312.7 1128.2 L2325.9 1141.1 L2339.2 1127.4 L2352.4 1135.2 L2365.7 1128.6 L2378.9 1135.2 L2392.2 1133.3 L2405.4 1128.2 L2418.7 1133.3 L2431.9 1141.1 L2445.2 1133.3 L2458.4 1130.5 L2471.7 1139.1 L2484.9 1133.3 L2498.2 1131.3 L2511.4 1130.5 L2524.7 1143.1 L2537.9 1141.1 L2551.2 1127.4 L2564.4 1127.4 L2577.7 1135.2 L2590.9 1127.4 L2604.2 1139.1 L2617.4 1133.3 L2630.7 1129.4 L2643.9 1137.2 L2657.2 1143.1 L2670.4 1133.3 L2683.7 1143.1 L2696.9 1131.3 L2710.2 1133.3 L2723.4 1130.5 L2736.7 1133.3 L2749.9 1129.4 L2763.2 1131.3 L2776.4 1133.3 L2789.7 1127.4 L2802.9 1131.3 L2816.2 1141.1 L2829.4 1127.4 L2842.7 1127.4 L2855.9 1137.2 L2869.2 1143.1 L2882.4 1131.3 L2895.7 1127.4 L2908.9 1135.2 L2922.2 1127.4 L2935.4 1127.4 L2948.7 1131.3 L2961.9 1133.3" stroke="#2ca02c" stroke-width="2.1" fill="none" stroke-linejoin="round" stroke-dasharray="2 3.4"/><path d="M1650.2 1420.3 L1663.5 1389.4 L1676.7 1398.4 L1690.0 1371.0 L1703.2 1377.6 L1716.5 1356.5 L1729.7 1366.3 L1743.0 1358.4 L1756.2 1318.9 L1769.5 1340.4 L1782.7 1323.6 L1796.0 1327.5 L1809.2 1320.9 L1822.5 1316.5 L1835.7 1303.6 L1849.0 1302.8 L1862.2 1298.1 L1875.5 1293.0 L1888.7 1300.5 L1902.0 1269.6 L1915.2 1282.5 L1928.5 1276.2 L1941.7 1276.2 L1955.0 1255.8 L1968.2 1245.3 L1981.5 1253.9 L1994.7 1239.4 L2008.0 1239.4 L2021.2 1233.5 L2034.5 1251.9 L2047.7 1214.7 L2060.9 1233.9 L2074.2 1221.8 L2087.4 1218.3 L2100.7 1230.4 L2113.9 1214.7 L2127.2 1235.5 L2140.4 1226.5 L2153.7 1197.5 L2166.9 1196.3 L2180.2 1208.1 L2193.4 1204.2 L2206.7 1217.1 L2219.9 1205.3 L2233.2 1221.8 L2246.4 1198.7 L2259.7 1188.1 L2272.9 1200.6 L2286.2 1194.0 L2299.4 1187.3 L2312.7 1190.4 L2325.9 1204.5 L2339.2 1199.1 L2352.4 1200.6 L2365.7 1197.5 L2378.9 1195.9 L2392.2 1199.8 L2405.4 1198.3 L2418.7 1199.5 L2431.9 1208.1 L2445.2 1181.8 L2458.4 1199.8 L2471.7 1191.6 L2484.9 1197.9 L2498.2 1192.4 L2511.4 1187.7 L2524.7 1201.0 L2537.9 1201.4 L2551.2 1190.8 L2564.4 1190.8 L2577.7 1183.4 L2590.9 1190.8 L2604.2 1200.6 L2617.4 1195.9 L2630.7 1197.5 L2643.9 1186.1 L2657.2 1206.5 L2670.4 1203.4 L2683.7 1194.0 L2696.9 1188.1 L2710.2 1185.0 L2723.4 1191.2 L2736.7 1180.7 L2749.9 1186.5 L2763.2 1184.2 L2776.4 1192.0 L2789.7 1180.7 L2802.9 1208.1 L2816.2 1183.4 L2829.4 1199.1 L2842.7 1188.9 L2855.9 1186.1 L2869.2 1188.9 L2882.4 1194.4 L2895.7 1190.1 L2908.9 1189.3 L2922.2 1190.8 L2935.4 1218.6 L2948.7 1217.5 L2961.9 1198.7" stroke="#d62728" stroke-width="2.1" fill="none" stroke-linejoin="round"/><path d="M1650.2 1392.9 L1663.5 1339.3 L1676.7 1365.5 L1690.0 1323.6 L1703.2 1334.6 L1716.5 1288.7 L1729.7 1320.1 L1743.0 1303.6 L1756.2 1261.3 L1769.5 1275.0 L1782.7 1237.8 L1796.0 1263.3 L1809.2 1237.8 L1822.5 1222.2 L1835.7 1257.0 L1849.0 1241.4 L1862.2 1224.9 L1875.5 1224.9 L1888.7 1209.6 L1902.0 1198.3 L1915.2 1201.0 L1928.5 1186.5 L1941.7 1218.3 L1955.0 1194.0 L1968.2 1162.6 L1981.5 1197.5 L1994.7 1159.1 L2008.0 1155.6 L2021.2 1174.4 L2034.5 1174.4 L2047.7 1166.6 L2060.9 1185.4 L2074.2 1159.1 L2087.4 1158.3 L2100.7 1168.1 L2113.9 1178.7 L2127.2 1178.7 L2140.4 1161.1 L2153.7 1146.6 L2166.9 1143.8 L2180.2 1154.8 L2193.4 1144.6 L2206.7 1169.3 L2219.9 1151.3 L2233.2 1151.3 L2246.4 1153.6 L2259.7 1148.9 L2272.9 1147.8 L2286.2 1141.1 L2299.4 1138.8 L2312.7 1141.1 L2325.9 1146.6 L2339.2 1153.6 L2352.4 1158.7 L2365.7 1156.8 L2378.9 1145.0 L2392.2 1154.8 L2405.4 1147.4 L2418.7 1147.4 L2431.9 1147.4 L2445.2 1144.2 L2458.4 1146.6 L2471.7 1144.2 L2484.9 1147.4 L2498.2 1146.6 L2511.4 1141.1 L2524.7 1161.9 L2537.9 1147.4 L2551.2 1147.4 L2564.4 1147.4 L2577.7 1153.6 L2590.9 1162.6 L2604.2 1162.6 L2617.4 1148.9 L2630.7 1144.2 L2643.9 1154.4 L2657.2 1151.3 L2670.4 1147.4 L2683.7 1148.2 L2696.9 1150.5 L2710.2 1148.2 L2723.4 1135.6 L2736.7 1146.6 L2749.9 1143.1 L2763.2 1142.7 L2776.4 1135.6 L2789.7 1141.1 L2802.9 1139.5 L2816.2 1154.0 L2829.4 1141.1 L2842.7 1139.5 L2855.9 1145.0 L2869.2 1145.8 L2882.4 1135.6 L2895.7 1139.5 L2908.9 1141.1 L2922.2 1153.6 L2935.4 1158.7 L2948.7 1157.9 L2961.9 1131.7" stroke="#d62728" stroke-width="2.1" fill="none" stroke-linejoin="round" stroke-dasharray="2 3.4"/><rect x="2412" y="1225" width="603" height="300" rx="5" fill="#fff" fill-opacity=".8" stroke="#ccc" stroke-opacity=".8" stroke-width="1.3"/><path d="M2421 1244.4 H2473.5" stroke="#1f77b4" stroke-width="2.1"/><path d="M2421 1281.1 H2473.5" stroke="#1f77b4" stroke-width="2.1" stroke-dasharray="2 3.4"/><path d="M2421 1317.7 H2473.5" stroke="#ff7f0e" stroke-width="2.1"/><path d="M2421 1354.4 H2473.5" stroke="#ff7f0e" stroke-width="2.1" stroke-dasharray="2 3.4"/><path d="M2421 1391.0 H2473.5" stroke="#2ca02c" stroke-width="2.1"/><path d="M2421 1427.7 H2473.5" stroke="#2ca02c" stroke-width="2.1" stroke-dasharray="2 3.4"/><path d="M2421 1464.4 H2473.5" stroke="#d62728" stroke-width="2.1"/><path d="M2421 1501.0 H2473.5" stroke="#d62728" stroke-width="2.1" stroke-dasharray="2 3.4"/><rect x="1584.5" y="1108" width="1445" height="430.5" fill="none" stroke="#222" stroke-width="1.4"/><path d="M1650.2 1538.5 v6 M1915.2 1538.5 v6 M2180.2 1538.5 v6 M2445.2 1538.5 v6 M2710.2 1538.5 v6 M2975.2 1538.5 v6 M1584.5 1519.0 h-6 M1584.5 1440.7 h-6 M1584.5 1362.4 h-6 M1584.5 1284.0 h-6 M1584.5 1205.7 h-6 M1584.5 1127.4 h-6" stroke="#222" stroke-width="1.4"/></svg>
<div class="t r" style="left:2009.0px;top:1074.0px;font-size:31px;word-spacing:0.096px;">Defenses' Influence on DNN Scores / Decisions</div>
<div class="t r" style="left:1575.0px;top:1506.2px;font-size:26px;transform:translateX(-100%);">0.0</div>
<div class="t r" style="left:1575.0px;top:1427.9px;font-size:26px;transform:translateX(-100%);">0.2</div>
<div class="t r" style="left:1575.0px;top:1349.6px;font-size:26px;transform:translateX(-100%);">0.4</div>
<div class="t r" style="left:1575.0px;top:1271.3px;font-size:26px;transform:translateX(-100%);">0.6</div>
<div class="t r" style="left:1575.0px;top:1192.9px;font-size:26px;transform:translateX(-100%);">0.8</div>
<div class="t r" style="left:1575.0px;top:1114.6px;font-size:26px;transform:translateX(-100%);">1.0</div>
<div class="t r" style="left:1650.2px;top:1543.4px;font-size:27px;transform:translateX(-50%);">0</div>
<div class="t r" style="left:1915.2px;top:1543.4px;font-size:27px;transform:translateX(-50%);">20</div>
<div class="t r" style="left:2180.2px;top:1543.4px;font-size:27px;transform:translateX(-50%);">40</div>
<div class="t r" style="left:2445.2px;top:1543.4px;font-size:27px;transform:translateX(-50%);">60</div>
<div class="t r" style="left:2710.2px;top:1543.4px;font-size:27px;transform:translateX(-50%);">80</div>
<div class="t r" style="left:2975.2px;top:1543.4px;font-size:27px;transform:translateX(-50%);">100</div>
<div class="t r" style="left:1891.0px;top:1573.2px;font-size:26px;word-spacing:-0.754px;">sample percentile (sorted by undefended model's ground-truth-class probability)</div>
<div class="t r" style="left:1526.0px;top:1309.2px;font-size:26px;transform:translateX(-50%);transform:translate(-50%,0) rotate(-90deg);transform-origin:50% 64%;">confidence / accuracy</div>
<div class="t r" style="left:2494.7px;top:1231.2px;font-size:26px;">Confidence of</div>
<div class="t r" style="left:2654.7px;top:1231.2px;font-size:26px;">Undefended model</div>
<div class="t r" style="left:2872.0px;top:1231.2px;font-size:26px;">ECE=3.52%</div>
<div class="t r" style="left:2494.7px;top:1267.9px;font-size:26px;">Accuracy of</div>
<div class="t r" style="left:2654.7px;top:1267.9px;font-size:26px;">Undefended model</div>
<div class="t r" style="left:2869.6px;top:1267.9px;font-size:26px;">Acc=94.78%</div>
<div class="t r" style="left:2494.7px;top:1304.5px;font-size:26px;">Confidence of</div>
<div class="t r" style="left:2654.7px;top:1304.5px;font-size:26px;">AAA model</div>
<div class="t r" style="left:2798.0px;top:1304.5px;font-size:26px;">ECE=2.46%</div>
<div class="t r" style="left:2494.7px;top:1341.2px;font-size:26px;">Accuracy of</div>
<div class="t r" style="left:2654.7px;top:1341.2px;font-size:26px;">AAA model</div>
<div class="t r" style="left:2796.0px;top:1341.2px;font-size:26px;">Acc=94.84%</div>
<div class="t r" style="left:2494.7px;top:1377.8px;font-size:26px;">Confidence of</div>
<div class="t r" style="left:2654.7px;top:1377.8px;font-size:26px;">RND model</div>
<div class="t r" style="left:2799.0px;top:1377.8px;font-size:26px;">ECE=6.32%</div>
<div class="t r" style="left:2494.7px;top:1414.5px;font-size:26px;">Accuracy of</div>
<div class="t r" style="left:2654.7px;top:1414.5px;font-size:26px;">RND model</div>
<div class="t r" style="left:2797.0px;top:1414.5px;font-size:26px;">Acc=91.05%</div>
<div class="t r" style="left:2494.7px;top:1451.2px;font-size:26px;">Confidence of</div>
<div class="t r" style="left:2654.7px;top:1451.2px;font-size:26px;">AT model</div>
<div class="t r" style="left:2774.0px;top:1451.2px;font-size:26px;">ECE=11.00%</div>
<div class="t r" style="left:2494.7px;top:1487.8px;font-size:26px;">Accuracy of</div>
<div class="t r" style="left:2654.7px;top:1487.8px;font-size:26px;">AT model</div>
<div class="t r" style="left:2772.0px;top:1487.8px;font-size:26px;">Acc=87.02%</div>
<svg style="left:1493px;top:1603.2px" width="25.5" height="25.5" viewBox="0 0 27 27"><path d="M1.2 1.5 L25.5 13.5 L1.2 25.5 L8.5 13.5 Z" fill="#fff" stroke="#000" stroke-width="1.8" stroke-linejoin="miter"/><path d="M8.5 13.5 L25.5 13.5 L1.2 25.5 Z" fill="#000"/></svg>
<div class="t s" style="left:1551.0px;top:1595.7px;font-size:40px;font-weight:bold;letter-spacing:-0.764px;">Algorithm</div>
<div class="t s" style="left:1530.5px;top:1656.5px;font-size:36px;">&bull;</div>
<div class="t s" style="left:1530.5px;top:1719.7px;font-size:36px;">&bull;</div>
<div class="t s" style="left:1530.5px;top:1782.6px;font-size:36px;">&bull;</div>
<div class="t s" style="left:1530.5px;top:1840.8px;font-size:36px;">&bull;</div>
<div class="t s" style="left:1567.0px;top:1652.9px;font-size:40px;word-spacing:2.086px;">L1: get the original margin loss <span class="m mm">l</span><sub class="mr">atr</sub> from the unmodified logits <span class="m mm">z</span><sub class="mr">org</sub> by</div>
<div class="t s" style="left:1567.0px;top:1716.3px;font-size:40px;word-spacing:1.758px;">L2: divide losses by periodic loss attractors <span class="m mm">l</span><sub class="mr">atr</sub>, and set the target loss value <span class="m mm">l</span><sub class="mr">trg</sub></div>
<div class="t s" style="left:1567.0px;top:1779.2px;font-size:40px;word-spacing:0.635px;">L3: set the target prediction confidence <span class="m mm">p</span><sub class="mr">atr</sub> by a pre-calibrated temperature <span class="m mm">T</span></div>
<div class="t s" style="left:1567.0px;top:1837.4px;font-size:40px;word-spacing:1.724px;">L4: optimize logits <span class="m mm">z</span> to form fooling loss curve <span class="m mm">l</span><sub class="mr">trg</sub> with accurate confidence <span class="m mm">p</span><sub class="mr">trg</sub></div>
<div class="ln" style="left:1499.2px;top:1884px;width:1.6px;height:403px;background:#dcdcdc"></div>
<div class="ln" style="left:1505px;top:1895.4px;width:688px;height:3.2px;background:#000"></div>
<div class="ln" style="left:1505px;top:1946.6px;width:688px;height:1.8px;background:#000"></div>
<div class="ln" style="left:1505px;top:2252.1px;width:688px;height:1.8px;background:#000"></div>
<div class="t r" style="left:1505.0px;top:1900.6px;font-size:37.5px;word-spacing:0.972px;"><b>Algorithm 1</b> Adversarial Attack on Attackers</div>
<div class="t r" style="left:1505.0px;top:1958.6px;font-size:37.5px;"><b>Input:</b></div>
<div class="t r" style="left:1627.0px;top:1958.6px;font-size:37.5px;letter-spacing:1.695px;"><span class="n0">the logits </span><span class="bi">z</span><sub class="mr">org</sub>, <span class="m">T</span>, <span class="m">&tau;</span>, <span class="m">&alpha;</span>, <span class="m">&beta;</span>, <span class="m">&kappa;</span>.</div>
<div class="t r" style="left:1505.0px;top:2000.6px;font-size:37.5px;"><b>Output:</b></div>
<div class="t r" style="left:1655.0px;top:2000.6px;font-size:37.5px;word-spacing:2.719px;">post-processed logits <span class="bi">z</span></div>
<div class="t r" style="left:1525.0px;top:2040.6px;font-size:37.5px;">1:</div>
<div class="t r" style="left:1525.0px;top:2082.6px;font-size:37.5px;">2:</div>
<div class="t r" style="left:1525.0px;top:2123.6px;font-size:37.5px;">3:</div>
<div class="t r" style="left:1525.0px;top:2164.6px;font-size:37.5px;">4:</div>
<div class="t r" style="left:1525.0px;top:2205.6px;font-size:37.5px;">5:</div>
<div class="t r" style="left:1570.0px;top:2039.3px;font-size:37.5px;letter-spacing:2.881px;"><span class="n0">get original loss </span><span class="m">l</span><sub class="mr">org</sub> = <svg class="cl" viewBox="0 0 80 105"><path d="M72 20 C75 6 60 2 52 14 C44 26 40 55 30 80 C25 92 12 100 6 94 C0 88 10 80 22 86 C36 93 52 100 74 84" fill="none" stroke="#000" stroke-width="5.5" stroke-linecap="round"/></svg><sub class="mr">u</sub>(<span class="bi">z</span><sub class="mr">org</sub>)<span class="n0"> by (2)</span></div>
<div class="t r" style="left:1570.0px;top:2082.6px;font-size:37.5px;letter-spacing:2.035px;"><span class="n0">set target loss </span><span class="m">l</span><sub class="mr">trg</sub><span class="n0"> by (5)</span></div>
<div class="t r" style="left:1570.0px;top:2123.6px;font-size:37.5px;letter-spacing:3.593px;"><span class="n0">set target confidence </span><span class="m">p</span><sub class="mr">trg</sub> = <span class="m">&sigma;</span>(<span class="bi">z</span><sub class="mr">org</sub>/<span class="m">T</span>)</div>
<div class="t r" style="left:1570.0px;top:2164.6px;font-size:37.5px;letter-spacing:2.601px;"><span class="n0">initialize </span><span class="bi">z</span> = <span class="bi">z</span><sub class="mr">org</sub><span class="n0"> and optimize it for (6)</span></div>
<div class="t r" style="left:1570.0px;top:2205.6px;font-size:37.5px;word-spacing:4.203px;"><b>return</b>&nbsp; <span class="bi">z</span></div>
<div class="bx" style="left:2233px;top:1892px;width:299px;height:48px;background:#fff;border-radius:9px;box-shadow:0 3px 9px rgba(0,0,0,.32)"></div>
<div class="bx" style="left:2234px;top:1969px;width:574px;height:65px;background:#fff;border-radius:9px;box-shadow:0 3px 9px rgba(0,0,0,.32)"></div>
<div class="bx" style="left:2232px;top:2031px;width:792px;height:107px;background:#fff;border-radius:9px;box-shadow:0 3px 9px rgba(0,0,0,.32)"></div>
<div class="bx" style="left:2235px;top:2175px;width:613px;height:52px;background:#fff;border-radius:9px;box-shadow:0 3px 9px rgba(0,0,0,.32)"></div>
<div class="t r" style="left:2241.0px;top:1896.0px;font-size:37px;letter-spacing:0.199px;"><svg class="cl" viewBox="0 0 80 105"><path d="M72 20 C75 6 60 2 52 14 C44 26 40 55 30 80 C25 92 12 100 6 94 C0 88 10 80 22 86 C36 93 52 100 74 84" fill="none" stroke="#000" stroke-width="5.5" stroke-linecap="round"/></svg><sub class="mr">u</sub>(<span class="bi">z</span>) <svg class="deq" viewBox="0 0 30 36"><path d="M2 22 H28 M2 30 H28" stroke="#000" stroke-width="2.2" fill="none"/><path d="M15 3 L21.5 14.5 H8.5 Z" stroke="#000" stroke-width="1.6" fill="none"/></svg> <svg class="cl" viewBox="0 0 80 105"><path d="M72 20 C75 6 60 2 52 14 C44 26 40 55 30 80 C25 92 12 100 6 94 C0 88 10 80 22 86 C36 93 52 100 74 84" fill="none" stroke="#000" stroke-width="5.5" stroke-linecap="round"/></svg> (<span class="m">f</span> (<span class="bi">x</span>), <span class="m">y&#770;</span>)</div>
<div class="t r" style="left:2247.0px;top:1975.0px;font-size:46px;letter-spacing:1.383px;"><span class="m">l</span><sub class="mr">atr</sub> = (floor (<span class="m">l</span><sub class="mr">org</sub>/<span class="m">&tau;</span>) + 1/2) &times; <span class="m">&tau;</span></div>
<div class="t r" style="left:2247.0px;top:2031.7px;font-size:41.5px;letter-spacing:1.450px;"><span class="m">l</span><sub class="mr">trg_lnr</sub> = <span class="m">l</span><sub class="mr">atr</sub> &minus; <span class="m">&alpha;</span> &times; (<span class="m">l</span><sub class="mr">org</sub> &minus; <span class="m">l</span><sub class="mr">atr</sub>)</div>
<div class="t r" style="left:2247.0px;top:2083.7px;font-size:41.5px;letter-spacing:1.239px;"><span class="m">l</span><sub class="mr">trg_sin</sub> = <span class="m">l</span><sub class="mr">org</sub> &minus; <span class="m">&alpha;</span> &times; <span class="m">&tau;</span>sin(<span class="m">&pi;</span>(1 &minus; 2(<span class="m">l</span><sub class="mr">org</sub> &minus; <span class="m">l</span><sub class="mr">atr</sub>)/<span class="m">&tau;</span>))</div>
<div class="t r" style="left:2244.0px;top:2175.4px;font-size:33px;letter-spacing:-0.115px;">min</div>
<div class="t r" style="left:2269.0px;top:2203.9px;font-size:24px;transform:translateX(-50%);"><span class="bi">z</span></div>
<div class="t r" style="left:2326.0px;top:2172.9px;font-size:36px;letter-spacing:1.218px;"><span class="nb">&#8214;</span> <svg class="cl" viewBox="0 0 80 105"><path d="M72 20 C75 6 60 2 52 14 C44 26 40 55 30 80 C25 92 12 100 6 94 C0 88 10 80 22 86 C36 93 52 100 74 84" fill="none" stroke="#000" stroke-width="5.5" stroke-linecap="round"/></svg><sub class="mr">u</sub>(<span class="bi">z</span>) &minus; <span class="m">l</span><sub class="mr">trg</sub> <span class="nb">&#8214;</span><sub class="mr">1</sub> + <span class="m">&beta;</span> &middot; <span class="nb">&#8214;</span> <span class="m">&sigma;</span>(<span class="bi">z</span>) &minus; <span class="m">p</span><sub class="mr">trg</sub> <span class="nb">&#8214;</span><sub class="mr">1</sub></div>
<div class="t r" style="left:2599.0px;top:2240.8px;font-size:42px;color:#44546a;letter-spacing:-0.473px;">softmax</div>
<svg style="left:1900px;top:1880px" width="1000" height="400" viewBox="1900 1880 1000 400"><path d="M2170 2058 L2230 1917 M1951 2104 H2230 M2192 2189 L2233 2199" stroke="#000" stroke-width="3.2" stroke-dasharray="8.5 3.5" fill="none"/><path d="M2666 2214 V2246" stroke="#000" stroke-width="3.2" stroke-dasharray="9 4" fill="none"/></svg>
<div class="t s" style="left:3069.0px;top:438.9px;font-size:45px;color:#c8161e;font-weight:bold;letter-spacing:-0.375px;text-shadow:2px 2px 3px rgba(0,0,0,.35);">Experiments</div>
<svg style="left:3050px;top:500px" width="500" height="520" viewBox="3050 500 500 520"><path d="M3115.5 559.7 L3115.5 560.0 L3115.5 561.3 L3115.6 563.6 L3115.7 567.1 L3115.7 571.9 L3115.9 577.9 L3116.0 585.2 L3116.2 594.0 L3116.4 604.1 L3116.6 615.7 L3116.9 626.9 L3117.2 638.5 L3117.5 651.4 L3117.9 665.6 L3118.3 681.0 L3118.7 695.1 L3119.1 706.5 L3119.6 718.7 L3120.2 731.8 L3120.7 745.7 L3121.3 760.5 L3121.9 772.9 L3122.6 784.0 L3123.3 795.8 L3124.0 808.1 L3124.8 821.0 L3125.6 832.2 L3126.4 839.4 L3127.3 846.9 L3128.2 854.7 L3129.2 860.8 L3130.2 866.9 L3131.2 872.7 L3132.2 878.3 L3133.3 884.1 L3134.5 888.7 L3135.7 893.0 L3136.9 897.5 L3138.1 901.3 L3139.4 904.8 L3140.8 908.3 L3142.2 911.0 L3143.6 913.5 L3145.0 916.1 L3146.5 918.1 L3148.1 919.7 L3149.6 921.4 L3151.3 922.7 L3152.9 923.9 L3154.6 925.1 L3156.4 926.2 L3158.1 927.1 L3160.0 927.9 L3161.8 928.9 L3163.7 929.6 L3165.7 930.2 L3167.7 930.9 L3169.7 931.3 L3171.8 931.7 L3173.9 932.1 L3176.1 932.5 L3178.3 932.9 L3180.5 933.3 L3182.8 933.6 L3185.2 933.9 L3187.5 934.2 L3190.0 934.5 L3192.4 934.7 L3194.9 934.8 L3197.5 935.0 L3200.1 935.1 L3202.7 935.2 L3205.4 935.4 L3208.2 935.5 L3210.9 935.7 L3213.8 935.8 L3216.6 936.0 L3219.5 936.1 L3222.5 936.2 L3225.5 936.3 L3228.5 936.3 L3231.6 936.3 L3234.8 936.4 L3238.0 936.4 L3241.2 936.5 L3244.5 936.5 L3247.8 936.6 L3251.2 936.6 L3254.6 936.6 L3258.0 936.7 L3261.5 936.7 L3265.1 936.8 L3268.7 936.8 L3272.3 936.8 L3276.0 936.8 L3279.8 936.8 L3283.6 936.8 L3287.4 936.8 L3291.3 936.8 L3295.2 936.8 L3299.2 936.8 L3303.2 936.8 L3307.3 936.8 L3311.4 936.8 L3315.6 936.8 L3319.8 936.8 L3324.1 936.9 L3328.4 936.9 L3332.7 936.9 L3337.1 936.9 L3341.6 936.9 L3346.1 936.9 L3350.6 936.9 L3355.3 936.9 L3359.9 936.9 L3364.6 936.9 L3369.4 936.9 L3374.1 936.9 L3379.0 936.9 L3383.9 936.9 L3388.8 936.9 L3393.8 936.9 L3398.9 936.9 L3404.0 936.9 L3409.1 936.9 L3414.3 936.9 L3419.5 936.9 L3424.8 936.9 L3430.2 936.9 L3435.6 937.0 L3441.0 937.0 L3446.5 937.0 L3452.0 937.0 L3457.6 937.0 L3463.3 937.0 L3469.0 937.0 L3474.7 937.0 L3480.5 937.0 L3486.4 937.0 L3492.2 937.0" stroke="#1f77b4" stroke-width="2.6" fill="none" stroke-linejoin="round"/><path d="M3115.5 559.7 L3115.5 560.3 L3115.5 562.5 L3115.6 566.7 L3115.7 572.9 L3115.7 581.3 L3115.9 592.0 L3116.0 602.1 L3116.2 609.6 L3116.4 618.2 L3116.6 628.1 L3116.9 632.2 L3117.2 633.8 L3117.5 635.6 L3117.9 637.6 L3118.3 639.7 L3118.7 641.4 L3119.1 642.3 L3119.6 643.3 L3120.2 644.3 L3120.7 645.4 L3121.3 646.6 L3121.9 647.8 L3122.6 649.1 L3123.3 650.5 L3124.0 652.0 L3124.8 653.2 L3125.6 654.0 L3126.4 654.9 L3127.3 655.7 L3128.2 656.6 L3129.2 657.6 L3130.2 658.5 L3131.2 659.3 L3132.2 660.0 L3133.3 660.7 L3134.5 661.4 L3135.7 662.2 L3136.9 663.0 L3138.1 663.7 L3139.4 664.4 L3140.8 665.1 L3142.2 665.9 L3143.6 666.6 L3145.0 667.4 L3146.5 667.8 L3148.1 668.0 L3149.6 668.2 L3151.3 668.4 L3152.9 668.7 L3154.6 668.9 L3156.4 669.1 L3158.1 669.3 L3160.0 669.6 L3161.8 669.8 L3163.7 670.0 L3165.7 670.1 L3167.7 670.3 L3169.7 670.5 L3171.8 670.7 L3173.9 670.9 L3176.1 671.1 L3178.3 671.3 L3180.5 671.5 L3182.8 671.7 L3185.2 671.9 L3187.5 672.2 L3190.0 672.4 L3192.4 672.5 L3194.9 672.7 L3197.5 672.8 L3200.1 673.0 L3202.7 673.1 L3205.4 673.2 L3208.2 673.4 L3210.9 673.5 L3213.8 673.7 L3216.6 673.8 L3219.5 674.0 L3222.5 674.1 L3225.5 674.3 L3228.5 674.5 L3231.6 674.6 L3234.8 674.8 L3238.0 674.9 L3241.2 675.1 L3244.5 675.3 L3247.8 675.5 L3251.2 675.6 L3254.6 675.8 L3258.0 676.0 L3261.5 676.2 L3265.1 676.4 L3268.7 676.6 L3272.3 676.8 L3276.0 677.1 L3279.8 677.3 L3283.6 677.5 L3287.4 677.8 L3291.3 678.0 L3295.2 678.3 L3299.2 678.5 L3303.2 678.8 L3307.3 678.9 L3311.4 679.1 L3315.6 679.2 L3319.8 679.3 L3324.1 679.5 L3328.4 679.6 L3332.7 679.7 L3337.1 679.9 L3341.6 680.0 L3346.1 680.2 L3350.6 680.3 L3355.3 680.5 L3359.9 680.7 L3364.6 680.9 L3369.4 681.0 L3374.1 681.2 L3379.0 681.4 L3383.9 681.6 L3388.8 681.8 L3393.8 681.9 L3398.9 682.1 L3404.0 682.3 L3409.1 682.5 L3414.3 682.7 L3419.5 682.9 L3424.8 683.0 L3430.2 683.1 L3435.6 683.3 L3441.0 683.4 L3446.5 683.6 L3452.0 683.7 L3457.6 683.9 L3463.3 684.0 L3469.0 684.2 L3474.7 684.3 L3480.5 684.5 L3486.4 684.6 L3492.2 684.8" stroke="#ff7f0e" stroke-width="2.6" fill="none" stroke-linejoin="round"/><path d="M3115.5 575.5 L3115.5 576.2 L3115.5 578.3 L3115.6 582.3 L3115.7 588.3 L3115.7 596.4 L3115.9 606.6 L3116.0 619.2 L3116.2 634.1 L3116.4 646.2 L3116.6 657.7 L3116.9 670.7 L3117.2 685.1 L3117.5 694.4 L3117.9 700.7 L3118.3 707.6 L3118.7 715.0 L3119.1 723.0 L3119.6 731.6 L3120.2 739.3 L3120.7 743.1 L3121.3 747.2 L3121.9 751.5 L3122.6 756.0 L3123.3 760.7 L3124.0 765.0 L3124.8 767.9 L3125.6 770.8 L3126.4 773.9 L3127.3 777.2 L3128.2 779.7 L3129.2 781.9 L3130.2 784.3 L3131.2 786.7 L3132.2 789.2 L3133.3 791.9 L3134.5 794.6 L3135.7 796.9 L3136.9 798.8 L3138.1 800.8 L3139.4 802.9 L3140.8 805.0 L3142.2 807.2 L3143.6 808.8 L3145.0 810.3 L3146.5 811.8 L3148.1 813.3 L3149.6 814.4 L3151.3 815.2 L3152.9 816.0 L3154.6 816.9 L3156.4 817.8 L3158.1 818.7 L3160.0 819.6 L3161.8 820.5 L3163.7 821.5 L3165.7 822.5 L3167.7 823.5 L3169.7 824.2 L3171.8 824.7 L3173.9 825.3 L3176.1 825.9 L3178.3 826.4 L3180.5 827.0 L3182.8 827.6 L3185.2 828.3 L3187.5 828.9 L3190.0 829.5 L3192.4 830.0 L3194.9 830.5 L3197.5 830.9 L3200.1 831.3 L3202.7 831.8 L3205.4 832.3 L3208.2 832.7 L3210.9 833.2 L3213.8 833.7 L3216.6 834.2 L3219.5 834.7 L3222.5 835.1 L3225.5 835.6 L3228.5 836.0 L3231.6 836.5 L3234.8 836.9 L3238.0 837.4 L3241.2 837.8 L3244.5 838.3 L3247.8 838.8 L3251.2 839.3 L3254.6 839.6 L3258.0 839.9 L3261.5 840.2 L3265.1 840.6 L3268.7 840.9 L3272.3 841.2 L3276.0 841.6 L3279.8 841.9 L3283.6 842.3 L3287.4 842.6 L3291.3 843.0 L3295.2 843.4 L3299.2 843.7 L3303.2 844.1 L3307.3 844.5 L3311.4 844.8 L3315.6 845.1 L3319.8 845.4 L3324.1 845.7 L3328.4 846.0 L3332.7 846.3 L3337.1 846.6 L3341.6 846.9 L3346.1 847.2 L3350.6 847.5 L3355.3 847.9 L3359.9 848.2 L3364.6 848.5 L3369.4 848.8 L3374.1 849.1 L3379.0 849.5 L3383.9 849.8 L3388.8 850.1 L3393.8 850.4 L3398.9 850.7 L3404.0 850.9 L3409.1 851.2 L3414.3 851.5 L3419.5 851.7 L3424.8 852.0 L3430.2 852.3 L3435.6 852.6 L3441.0 852.9 L3446.5 853.2 L3452.0 853.5 L3457.6 853.7 L3463.3 854.0 L3469.0 854.3 L3474.7 854.6 L3480.5 855.0 L3486.4 855.3 L3492.2 855.6" stroke="#2ca02c" stroke-width="2.6" fill="none" stroke-linejoin="round"/><path d="M3115.5 591.4 L3115.5 591.7 L3115.5 592.6 L3115.6 594.4 L3115.7 597.0 L3115.7 600.5 L3115.9 605.0 L3116.0 610.5 L3116.2 617.0 L3116.4 622.3 L3116.6 627.3 L3116.9 632.8 L3117.2 637.1 L3117.5 640.5 L3117.9 644.3 L3118.3 648.4 L3118.7 652.9 L3119.1 657.7 L3119.6 661.5 L3120.2 665.2 L3120.7 669.1 L3121.3 673.2 L3121.9 676.7 L3122.6 679.7 L3123.3 682.9 L3124.0 686.3 L3124.8 689.6 L3125.6 692.4 L3126.4 695.4 L3127.3 698.4 L3128.2 701.6 L3129.2 704.9 L3130.2 707.1 L3131.2 709.5 L3132.2 712.0 L3133.3 714.5 L3134.5 717.1 L3135.7 719.4 L3136.9 721.4 L3138.1 723.4 L3139.4 725.4 L3140.8 727.5 L3142.2 729.7 L3143.6 731.9 L3145.0 734.1 L3146.5 736.4 L3148.1 738.8 L3149.6 741.2 L3151.3 743.7 L3152.9 745.7 L3154.6 747.6 L3156.4 749.5 L3158.1 751.5 L3160.0 753.5 L3161.8 755.2 L3163.7 756.7 L3165.7 758.3 L3167.7 759.9 L3169.7 761.6 L3171.8 763.3 L3173.9 765.0 L3176.1 766.7 L3178.3 768.5 L3180.5 770.3 L3182.8 771.6 L3185.2 772.9 L3187.5 774.2 L3190.0 775.5 L3192.4 776.9 L3194.9 778.3 L3197.5 779.7 L3200.1 781.2 L3202.7 782.6 L3205.4 784.1 L3208.2 785.6 L3210.9 786.8 L3213.8 787.8 L3216.6 788.9 L3219.5 789.9 L3222.5 791.0 L3225.5 792.1 L3228.5 793.2 L3231.6 794.4 L3234.8 795.5 L3238.0 796.6 L3241.2 797.6 L3244.5 798.5 L3247.8 799.6 L3251.2 800.6 L3254.6 801.6 L3258.0 802.5 L3261.5 803.4 L3265.1 804.3 L3268.7 805.2 L3272.3 806.1 L3276.0 807.0 L3279.8 807.9 L3283.6 808.8 L3287.4 809.8 L3291.3 810.8 L3295.2 811.7 L3299.2 812.7 L3303.2 813.7 L3307.3 814.4 L3311.4 815.0 L3315.6 815.6 L3319.8 816.3 L3324.1 816.9 L3328.4 817.6 L3332.7 818.2 L3337.1 818.9 L3341.6 819.5 L3346.1 820.2 L3350.6 820.9 L3355.3 821.6 L3359.9 822.2 L3364.6 822.7 L3369.4 823.3 L3374.1 823.9 L3379.0 824.4 L3383.9 825.0 L3388.8 825.6 L3393.8 826.2 L3398.9 826.8 L3404.0 827.4 L3409.1 828.0 L3414.3 828.6 L3419.5 829.2 L3424.8 829.8 L3430.2 830.4 L3435.6 830.9 L3441.0 831.5 L3446.5 832.1 L3452.0 832.7 L3457.6 833.3 L3463.3 833.9 L3469.0 834.5 L3474.7 835.1 L3480.5 835.7 L3486.4 836.3 L3492.2 836.9" stroke="#d62728" stroke-width="2.6" fill="none" stroke-linejoin="round"/><rect x="3311" y="540" width="187" height="134.5" rx="3.5" fill="#fff" fill-opacity=".8" stroke="#ccc" stroke-opacity=".8" stroke-width="1.2"/><path d="M3319 560.0 H3364.5" stroke="#1f77b4" stroke-width="2.6"/><path d="M3319 591.2 H3364.5" stroke="#ff7f0e" stroke-width="2.6"/><path d="M3319 622.5 H3364.5" stroke="#2ca02c" stroke-width="2.6"/><path d="M3319 653.8 H3364.5" stroke="#d62728" stroke-width="2.6"/><rect x="3097" y="533" width="413" height="407.5" fill="none" stroke="#222" stroke-width="1.3"/><path d="M3115.5 940.5 v5.5 M3190.8 940.5 v5.5 M3266.2 940.5 v5.5 M3341.6 940.5 v5.5 M3416.9 940.5 v5.5 M3492.2 940.5 v5.5 M3097 937.0 h-5.5 M3097 857.6 h-5.5 M3097 778.1 h-5.5 M3097 698.7 h-5.5 M3097 619.2 h-5.5 M3097 539.8 h-5.5" stroke="#222" stroke-width="1.3"/></svg>
<div class="t r" style="left:3094.0px;top:499.5px;font-size:26px;word-spacing:2.117px;">SQA Adversarial Accuracy of Defenses</div>
<div class="t r" style="left:3086.0px;top:925.7px;font-size:22.5px;transform:translateX(-100%);">0</div>
<div class="t r" style="left:3086.0px;top:846.2px;font-size:22.5px;transform:translateX(-100%);">20</div>
<div class="t r" style="left:3086.0px;top:766.8px;font-size:22.5px;transform:translateX(-100%);">40</div>
<div class="t r" style="left:3086.0px;top:687.3px;font-size:22.5px;transform:translateX(-100%);">60</div>
<div class="t r" style="left:3086.0px;top:607.9px;font-size:22.5px;transform:translateX(-100%);">80</div>
<div class="t r" style="left:3086.0px;top:528.5px;font-size:22.5px;transform:translateX(-100%);">100</div>
<div class="t r" style="left:3115.5px;top:951.3px;font-size:22.3px;transform:translateX(-50%);">0</div>
<div class="t r" style="left:3190.8px;top:951.3px;font-size:22.3px;transform:translateX(-50%);">500</div>
<div class="t r" style="left:3266.2px;top:951.3px;font-size:22.3px;transform:translateX(-50%);">1000</div>
<div class="t r" style="left:3341.6px;top:951.3px;font-size:22.3px;transform:translateX(-50%);">1500</div>
<div class="t r" style="left:3416.9px;top:951.3px;font-size:22.3px;transform:translateX(-50%);">2000</div>
<div class="t r" style="left:3492.2px;top:951.3px;font-size:22.3px;transform:translateX(-50%);">2500</div>
<div class="t r" style="left:3303.0px;top:979.7px;font-size:22.5px;transform:translateX(-50%);"># query</div>
<div class="t r" style="left:3382.0px;top:548.7px;font-size:22.5px;">Undefended</div>
<div class="t r" style="left:3382.0px;top:579.9px;font-size:22.5px;">AAA</div>
<div class="t r" style="left:3382.0px;top:611.2px;font-size:22.5px;">RND</div>
<div class="t r" style="left:3382.0px;top:642.5px;font-size:22.5px;">AT</div>
<div class="t r" style="left:3661.0px;top:442.7px;font-size:27.8px;word-spacing:0.734px;">Table 2: The defense performance under attacks (#query = 100/2500)</div>
<div class="ln" style="left:3524px;top:474.7px;width:1051px;height:2.6px;background:#000"></div>
<div class="ln" style="left:3524px;top:518.7px;width:1051px;height:1.6px;background:#000"></div>
<div class="ln" style="left:3868px;top:597.0px;width:707px;height:1px;background:#333"></div>
<div class="ln" style="left:3524px;top:760.7px;width:1051px;height:1.6px;background:#000"></div>
<div class="ln" style="left:3868px;top:838.5px;width:707px;height:1px;background:#333"></div>
<div class="ln" style="left:3524px;top:1001.7px;width:1051px;height:2.6px;background:#000"></div>
<div class="ln" style="left:3867.8px;top:484px;width:1.3px;height:30px;background:#000"></div>
<div class="ln" style="left:3867.8px;top:527px;width:1.3px;height:64px;background:#000"></div>
<div class="ln" style="left:3867.8px;top:603px;width:1.3px;height:152px;background:#000"></div>
<div class="ln" style="left:3867.8px;top:769px;width:1.3px;height:63px;background:#000"></div>
<div class="ln" style="left:3867.8px;top:845px;width:1.3px;height:152px;background:#000"></div>
<div class="t r" style="left:3654.0px;top:481.7px;font-size:27.8px;transform:translateX(-100%);">Model</div>
<div class="t r" style="left:3853.0px;top:481.7px;font-size:27.8px;transform:translateX(-100%);">Metric / Attack</div>
<div class="t r" style="left:3957.0px;top:481.7px;font-size:27.8px;transform:translateX(-50%);">None</div>
<div class="t r" style="left:4132.0px;top:481.7px;font-size:27.8px;transform:translateX(-50%);">adv-train</div>
<div class="t r" style="left:4310.0px;top:481.7px;font-size:27.8px;transform:translateX(-50%);">random-input</div>
<div class="t r" style="left:4487.0px;top:481.7px;font-size:27.8px;transform:translateX(-50%);">AAA-linear</div>
<div class="t r" style="left:3654.0px;top:525.7px;font-size:27.8px;transform:translateX(-100%);">CIFAR-10</div>
<div class="t r" style="left:3544.0px;top:557.7px;font-size:27.8px;font-style:italic;">&#8467;<sub class="mr">&infin;</sub> = </div>
<div class="t r" style="left:3634.0px;top:556.1px;font-size:19px;transform:translateX(-50%);">8</div>
<div class="t r" style="left:3634.0px;top:574.1px;font-size:19px;transform:translateX(-50%);">255</div>
<div class="ln" style="left:3619px;top:573.9px;width:31px;height:1.3px;background:#000"></div>
<div class="t r" style="left:3853.0px;top:525.7px;font-size:27.8px;transform:translateX(-100%);">ECE (%)</div>
<div class="t r" style="left:3853.0px;top:557.7px;font-size:27.8px;transform:translateX(-100%);">Acc (%)</div>
<div class="t r" style="left:3957.0px;top:525.7px;font-size:27.8px;transform:translateX(-50%);">3.52</div>
<div class="t r" style="left:3957.0px;top:557.7px;font-size:27.8px;transform:translateX(-50%);">94.78</div>
<div class="t r" style="left:4132.0px;top:525.7px;font-size:27.8px;transform:translateX(-50%);">11.00</div>
<div class="t r" style="left:4132.0px;top:557.7px;font-size:27.8px;transform:translateX(-50%);">87.02</div>
<div class="t r" style="left:4310.0px;top:525.7px;font-size:27.8px;transform:translateX(-50%);">6.32</div>
<div class="t r" style="left:4310.0px;top:557.7px;font-size:27.8px;transform:translateX(-50%);">91.05</div>
<div class="t r" style="left:4487.0px;top:525.7px;font-size:27.8px;transform:translateX(-50%);"><b>2.46</b></div>
<div class="t r" style="left:4487.0px;top:557.7px;font-size:27.8px;transform:translateX(-50%);"><b>94.84</b></div>
<div class="t r" style="left:3654.0px;top:632.7px;font-size:27.8px;transform:translateX(-100%);">Wide-</div>
<div class="t r" style="left:3654.0px;top:662.7px;font-size:27.8px;transform:translateX(-100%);">ResNet28</div>
<div class="t r" style="left:3853.0px;top:602.7px;font-size:27.8px;transform:translateX(-100%);">Square</div>
<div class="t r" style="left:3957.0px;top:602.7px;font-size:27.8px;transform:translateX(-50%);">39.38 / 00.09</div>
<div class="t r" style="left:4132.0px;top:602.7px;font-size:27.8px;transform:translateX(-50%);">78.30 / 67.44</div>
<div class="t r" style="left:4310.0px;top:602.7px;font-size:27.8px;transform:translateX(-50%);">60.83 / 49.15</div>
<div class="t r" style="left:4487.0px;top:602.7px;font-size:27.8px;transform:translateX(-50%);"><b>81.36 / 80.59</b></div>
<div class="t r" style="left:3853.0px;top:632.7px;font-size:27.8px;transform:translateX(-100%);">SignHunter</div>
<div class="t r" style="left:3957.0px;top:632.7px;font-size:27.8px;transform:translateX(-50%);">41.14 / 00.04</div>
<div class="t r" style="left:4132.0px;top:632.7px;font-size:27.8px;transform:translateX(-50%);">78.87 / 66.79</div>
<div class="t r" style="left:4310.0px;top:632.7px;font-size:27.8px;transform:translateX(-50%);">61.02 / 47.82</div>
<div class="t r" style="left:4487.0px;top:632.7px;font-size:27.8px;transform:translateX(-50%);"><b>79.41 / 76.71</b></div>
<div class="t r" style="left:3853.0px;top:662.7px;font-size:27.8px;transform:translateX(-100%);">SimBA</div>
<div class="t r" style="left:3957.0px;top:662.7px;font-size:27.8px;transform:translateX(-50%);">53.04 / 03.95</div>
<div class="t r" style="left:4132.0px;top:662.7px;font-size:27.8px;transform:translateX(-50%);">84.21 / 75.85</div>
<div class="t r" style="left:4310.0px;top:662.7px;font-size:27.8px;transform:translateX(-50%);">76.39 / 64.34</div>
<div class="t r" style="left:4487.0px;top:662.7px;font-size:27.8px;transform:translateX(-50%);"><b>88.86 / 83.36</b></div>
<div class="t r" style="left:3853.0px;top:692.7px;font-size:27.8px;transform:translateX(-100%);">NES</div>
<div class="t r" style="left:3957.0px;top:692.7px;font-size:27.8px;transform:translateX(-50%);">83.42 / 12.24</div>
<div class="t r" style="left:4132.0px;top:692.7px;font-size:27.8px;transform:translateX(-50%);">85.92 / 81.01</div>
<div class="t r" style="left:4310.0px;top:692.7px;font-size:27.8px;transform:translateX(-50%);">86.23 / 68.19</div>
<div class="t r" style="left:4487.0px;top:692.7px;font-size:27.8px;transform:translateX(-50%);"><b>90.62 / 85.95</b></div>
<div class="t r" style="left:3853.0px;top:722.7px;font-size:27.8px;transform:translateX(-100%);">Bandit</div>
<div class="t r" style="left:3957.0px;top:722.7px;font-size:27.8px;transform:translateX(-50%);">69.86 / 41.03</div>
<div class="t r" style="left:4132.0px;top:722.7px;font-size:27.8px;transform:translateX(-50%);"><b>83.62</b> / 76.25</div>
<div class="t r" style="left:4310.0px;top:722.7px;font-size:27.8px;transform:translateX(-50%);">70.44 / 41.65</div>
<div class="t r" style="left:4487.0px;top:722.7px;font-size:27.8px;transform:translateX(-50%);">80.86 / <b>78.36</b></div>
<div class="t r" style="left:3654.0px;top:767.7px;font-size:27.8px;transform:translateX(-100%);">ImageNet</div>
<div class="t r" style="left:3544.0px;top:799.7px;font-size:27.8px;font-style:italic;">&#8467;<sub class="mr">&infin;</sub> = </div>
<div class="t r" style="left:3634.0px;top:798.1px;font-size:19px;transform:translateX(-50%);">4</div>
<div class="t r" style="left:3634.0px;top:816.1px;font-size:19px;transform:translateX(-50%);">255</div>
<div class="ln" style="left:3619px;top:815.9px;width:31px;height:1.3px;background:#000"></div>
<div class="t r" style="left:3853.0px;top:767.7px;font-size:27.8px;transform:translateX(-100%);">ECE (%)</div>
<div class="t r" style="left:3853.0px;top:799.7px;font-size:27.8px;transform:translateX(-100%);">Acc (%)</div>
<div class="t r" style="left:3957.0px;top:767.7px;font-size:27.8px;transform:translateX(-50%);">5.42</div>
<div class="t r" style="left:3957.0px;top:799.7px;font-size:27.8px;transform:translateX(-50%);">77.11</div>
<div class="t r" style="left:4132.0px;top:767.7px;font-size:27.8px;transform:translateX(-50%);">5.03</div>
<div class="t r" style="left:4132.0px;top:799.7px;font-size:27.8px;transform:translateX(-50%);">66.30</div>
<div class="t r" style="left:4310.0px;top:767.7px;font-size:27.8px;transform:translateX(-50%);">5.79</div>
<div class="t r" style="left:4310.0px;top:799.7px;font-size:27.8px;transform:translateX(-50%);">75.32</div>
<div class="t r" style="left:4487.0px;top:767.7px;font-size:27.8px;transform:translateX(-50%);"><b>4.30</b></div>
<div class="t r" style="left:4487.0px;top:799.7px;font-size:27.8px;transform:translateX(-50%);"><b>77.17</b></div>
<div class="t r" style="left:3654.0px;top:874.7px;font-size:27.8px;transform:translateX(-100%);">Wide-</div>
<div class="t r" style="left:3654.0px;top:904.7px;font-size:27.8px;transform:translateX(-100%);">ResNet50</div>
<div class="t r" style="left:3853.0px;top:843.7px;font-size:27.8px;transform:translateX(-100%);">Square</div>
<div class="t r" style="left:3957.0px;top:843.7px;font-size:27.8px;transform:translateX(-50%);">52.27 / 09.25</div>
<div class="t r" style="left:4132.0px;top:843.7px;font-size:27.8px;transform:translateX(-50%);">59.20 / 51.11</div>
<div class="t r" style="left:4310.0px;top:843.7px;font-size:27.8px;transform:translateX(-50%);">58.67 / 50.54</div>
<div class="t r" style="left:4487.0px;top:843.7px;font-size:27.8px;transform:translateX(-50%);"><b>63.13 / 62.51</b></div>
<div class="t r" style="left:3853.0px;top:874.7px;font-size:27.8px;transform:translateX(-100%);">SignHunter</div>
<div class="t r" style="left:3957.0px;top:874.7px;font-size:27.8px;transform:translateX(-50%);">53.05 / 13.88</div>
<div class="t r" style="left:4132.0px;top:874.7px;font-size:27.8px;transform:translateX(-50%);">59.47 / 56.22</div>
<div class="t r" style="left:4310.0px;top:874.7px;font-size:27.8px;transform:translateX(-50%);">59.36 / 52.98</div>
<div class="t r" style="left:4487.0px;top:874.7px;font-size:27.8px;transform:translateX(-50%);"><b>62.35 / 56.80</b></div>
<div class="t r" style="left:3853.0px;top:904.7px;font-size:27.8px;transform:translateX(-100%);">SimBA</div>
<div class="t r" style="left:3957.0px;top:904.7px;font-size:27.8px;transform:translateX(-50%);">71.79 / 20.90</div>
<div class="t r" style="left:4132.0px;top:904.7px;font-size:27.8px;transform:translateX(-50%);">65.64 / 47.60</div>
<div class="t r" style="left:4310.0px;top:904.7px;font-size:27.8px;transform:translateX(-50%);">66.36 / 63.27</div>
<div class="t r" style="left:4487.0px;top:904.7px;font-size:27.8px;transform:translateX(-50%);"><b>74.16 / 67.14</b></div>
<div class="t r" style="left:3853.0px;top:933.7px;font-size:27.8px;transform:translateX(-100%);">NES</div>
<div class="t r" style="left:3957.0px;top:933.7px;font-size:27.8px;transform:translateX(-50%);">77.11 / 64.93</div>
<div class="t r" style="left:4132.0px;top:933.7px;font-size:27.8px;transform:translateX(-50%);">66.30 / 64.38</div>
<div class="t r" style="left:4310.0px;top:933.7px;font-size:27.8px;transform:translateX(-50%);">71.33 / 66.05</div>
<div class="t r" style="left:4487.0px;top:933.7px;font-size:27.8px;transform:translateX(-50%);"><b>77.12 / 67.06</b></div>
<div class="t r" style="left:3853.0px;top:964.7px;font-size:27.8px;transform:translateX(-100%);">Bandit</div>
<div class="t r" style="left:3957.0px;top:964.7px;font-size:27.8px;transform:translateX(-50%);">71.33 / 65.77</div>
<div class="t r" style="left:4132.0px;top:964.7px;font-size:27.8px;transform:translateX(-50%);">65.30 / 63.98</div>
<div class="t r" style="left:4310.0px;top:964.7px;font-size:27.8px;transform:translateX(-50%);">65.15 / 61.38</div>
<div class="t r" style="left:4487.0px;top:964.7px;font-size:27.8px;transform:translateX(-50%);"><b>72.15 / 70.53</b></div>
<svg style="left:3071px;top:1027.2px" width="25.5" height="25.5" viewBox="0 0 27 27"><path d="M1.2 1.5 L25.5 13.5 L1.2 25.5 L8.5 13.5 Z" fill="#fff" stroke="#000" stroke-width="1.8" stroke-linejoin="miter"/><path d="M8.5 13.5 L25.5 13.5 L1.2 25.5 Z" fill="#000"/></svg>
<div class="t s" style="left:3128.0px;top:1020.1px;font-size:40px;word-spacing:9.057px;">AAA <span class="b">alters scores slightly</span> but is <span class="b">outstanding in mitigating SQAs</span> compared to</div>
<div class="t s" style="left:3128.0px;top:1068.1px;font-size:40px;word-spacing:-1.897px;">baselines. AAA <span class="b">improves calibration</span> (ECE<span style="font-size:1.25em;line-height:0">&darr;</span>) <span class="b">without hurting accuracy</span>.</div>
<svg style="left:3071px;top:1132.8px" width="25.5" height="25.5" viewBox="0 0 27 27"><path d="M1.2 1.5 L25.5 13.5 L1.2 25.5 L8.5 13.5 Z" fill="#fff" stroke="#000" stroke-width="1.8" stroke-linejoin="miter"/><path d="M8.5 13.5 L25.5 13.5 L1.2 25.5 Z" fill="#000"/></svg>
<div class="t s" style="left:3128.0px;top:1125.4px;font-size:40px;word-spacing:-0.967px;">AAA could be <span class="b">plugged into existing defenses</span>, e.g., adversarial training.</div>
<svg style="left:3071px;top:1190.8px" width="25.5" height="25.5" viewBox="0 0 27 27"><path d="M1.2 1.5 L25.5 13.5 L1.2 25.5 L8.5 13.5 Z" fill="#fff" stroke="#000" stroke-width="1.8" stroke-linejoin="miter"/><path d="M8.5 13.5 L25.5 13.5 L1.2 25.5 Z" fill="#000"/></svg>
<div class="t s" style="left:3128.0px;top:1183.4px;font-size:40px;word-spacing:-0.548px;">It is easy to <span class="b">fool adaptive attacks</span> in real-world scenarios by, e.g., AAA-sine.</div>
<div class="t r" style="left:3236.0px;top:1231.0px;font-size:33.4px;word-spacing:-0.099px;">Table 4: Generalization of AAA tested by Square attack (#query = 100/2500, CIFAR-10)</div>
<div class="ln" style="left:3203px;top:1269.5px;width:1250px;height:3px;background:#000"></div>
<div class="ln" style="left:3203px;top:1323.6px;width:1250px;height:1.8px;background:#000"></div>
<div class="ln" style="left:3203px;top:1413.1px;width:1250px;height:1.8px;background:#000"></div>
<div class="ln" style="left:3203px;top:1502.1px;width:1250px;height:1.8px;background:#000"></div>
<div class="ln" style="left:3203px;top:1590.5px;width:1250px;height:3px;background:#000"></div>
<div class="ln" style="left:3555.2px;top:1282px;width:1.5px;height:36px;background:#000"></div>
<div class="ln" style="left:3981.2px;top:1282px;width:1.5px;height:36px;background:#000"></div>
<div class="ln" style="left:3555.2px;top:1335px;width:1.5px;height:71px;background:#000"></div>
<div class="ln" style="left:3981.2px;top:1335px;width:1.5px;height:71px;background:#000"></div>
<div class="ln" style="left:3555.2px;top:1425px;width:1.5px;height:70px;background:#000"></div>
<div class="ln" style="left:3981.2px;top:1425px;width:1.5px;height:70px;background:#000"></div>
<div class="ln" style="left:3555.2px;top:1514px;width:1.5px;height:70px;background:#000"></div>
<div class="ln" style="left:3981.2px;top:1514px;width:1.5px;height:70px;background:#000"></div>
<div class="t r" style="left:3535.0px;top:1279.0px;font-size:33.4px;transform:translateX(-100%);">Metric / Attack</div>
<div class="t r" style="left:3662.0px;top:1279.0px;font-size:33.4px;transform:translateX(-50%);">None</div>
<div class="t r" style="left:3875.0px;top:1279.0px;font-size:33.4px;transform:translateX(-50%);">AAA-linear</div>
<div class="t r" style="left:4096.0px;top:1279.0px;font-size:33.4px;transform:translateX(-50%);">adv-train (AT)</div>
<div class="t r" style="left:4332.0px;top:1279.0px;font-size:33.4px;transform:translateX(-50%);">AT-AAA-linear</div>
<div class="t r" style="left:3535.0px;top:1331.0px;font-size:33.4px;transform:translateX(-100%);">ECE (%)</div>
<div class="t r" style="left:3662.0px;top:1331.0px;font-size:33.4px;transform:translateX(-50%);">3.52</div>
<div class="t r" style="left:3875.0px;top:1331.0px;font-size:33.4px;transform:translateX(-50%);"><b>2.46</b></div>
<div class="t r" style="left:4096.0px;top:1331.0px;font-size:33.4px;transform:translateX(-50%);">11.00</div>
<div class="t r" style="left:4332.0px;top:1331.0px;font-size:33.4px;transform:translateX(-50%);"><b>10.56</b></div>
<div class="t r" style="left:3535.0px;top:1368.0px;font-size:33.4px;transform:translateX(-100%);">Acc (%)</div>
<div class="t r" style="left:3662.0px;top:1368.0px;font-size:33.4px;transform:translateX(-50%);">94.78</div>
<div class="t r" style="left:3875.0px;top:1368.0px;font-size:33.4px;transform:translateX(-50%);"><b>94.84</b></div>
<div class="t r" style="left:4096.0px;top:1368.0px;font-size:33.4px;transform:translateX(-50%);"><b>87.02</b></div>
<div class="t r" style="left:4332.0px;top:1368.0px;font-size:33.4px;transform:translateX(-50%);"><b>87.02</b></div>
<div class="t r" style="left:3535.0px;top:1421.0px;font-size:33.4px;transform:translateX(-100%);">untargeted <i>&#8467;</i><sub class="mr">&infin;</sub> = 8/255</div>
<div class="t r" style="left:3662.0px;top:1421.0px;font-size:33.4px;transform:translateX(-50%);">39.38 / 00.09</div>
<div class="t r" style="left:3875.0px;top:1421.0px;font-size:33.4px;transform:translateX(-50%);"><b>81.36 / 80.59</b></div>
<div class="t r" style="left:4096.0px;top:1421.0px;font-size:33.4px;transform:translateX(-50%);">78.30 / 67.44</div>
<div class="t r" style="left:4332.0px;top:1421.0px;font-size:33.4px;transform:translateX(-50%);"><b>80.80 / 80.13</b></div>
<div class="t r" style="left:3535.0px;top:1457.0px;font-size:33.4px;transform:translateX(-100%);">targeted <i>&#8467;</i><sub class="mr">&infin;</sub> = 8/255</div>
<div class="t r" style="left:3662.0px;top:1457.0px;font-size:33.4px;transform:translateX(-50%);">75.59 / 02.84</div>
<div class="t r" style="left:3875.0px;top:1457.0px;font-size:33.4px;transform:translateX(-50%);"><b>92.05 / 91.62</b></div>
<div class="t r" style="left:4096.0px;top:1457.0px;font-size:33.4px;transform:translateX(-50%);">85.75 / 82.72</div>
<div class="t r" style="left:4332.0px;top:1457.0px;font-size:33.4px;transform:translateX(-50%);"><b>86.22 / 86.13</b></div>
<div class="t r" style="left:3535.0px;top:1509.0px;font-size:33.4px;transform:translateX(-100%);">untargeted <i>&#8467;</i><sub class="mr">2</sub> = 0.5</div>
<div class="t r" style="left:3662.0px;top:1509.0px;font-size:33.4px;transform:translateX(-50%);">81.53 / 18.75</div>
<div class="t r" style="left:3875.0px;top:1509.0px;font-size:33.4px;transform:translateX(-50%);"><b>92.66 / 92.63</b></div>
<div class="t r" style="left:4096.0px;top:1509.0px;font-size:33.4px;transform:translateX(-50%);">84.26 / 78.97</div>
<div class="t r" style="left:4332.0px;top:1509.0px;font-size:33.4px;transform:translateX(-50%);"><b>85.12 / 84.31</b></div>
<div class="t r" style="left:3535.0px;top:1545.0px;font-size:33.4px;transform:translateX(-100%);">untargeted <i>&#8467;</i><sub class="mr">2</sub> = 2.5</div>
<div class="t r" style="left:3662.0px;top:1545.0px;font-size:33.4px;transform:translateX(-50%);">12.77 / 00.01</div>
<div class="t r" style="left:3875.0px;top:1545.0px;font-size:33.4px;transform:translateX(-50%);"><b>70.35 / 63.46</b></div>
<div class="t r" style="left:4096.0px;top:1545.0px;font-size:33.4px;transform:translateX(-50%);">57.88 / 25.19</div>
<div class="t r" style="left:4332.0px;top:1545.0px;font-size:33.4px;transform:translateX(-50%);"><b>74.03 / 73.72</b></div>
<div class="t r" style="left:3153.0px;top:1610.0px;font-size:32.3px;word-spacing:-0.227px;">Table 5: Influence of the optimization times in AAA</div>
<div class="ln" style="left:3075px;top:1648.5px;width:831px;height:3px;background:#000"></div>
<div class="ln" style="left:3075px;top:1701.1px;width:831px;height:1.8px;background:#000"></div>
<div class="ln" style="left:3075px;top:1823.0px;width:831px;height:3px;background:#000"></div>
<div class="ln" style="left:3237.2px;top:1661px;width:1.5px;height:34px;background:#000"></div>
<div class="ln" style="left:3237.2px;top:1712px;width:1.5px;height:105px;background:#000"></div>
<div class="t r" style="left:3156.0px;top:1659.0px;font-size:32.3px;font-style:italic;transform:translateX(-50%);">&kappa;</div>
<div class="t r" style="left:3294.0px;top:1659.0px;font-size:32.3px;transform:translateX(-50%);">0</div>
<div class="t r" style="left:3406.0px;top:1659.0px;font-size:32.3px;transform:translateX(-50%);">20</div>
<div class="t r" style="left:3517.0px;top:1659.0px;font-size:32.3px;transform:translateX(-50%);">40</div>
<div class="t r" style="left:3628.0px;top:1659.0px;font-size:32.3px;transform:translateX(-50%);">60</div>
<div class="t r" style="left:3739.0px;top:1659.0px;font-size:32.3px;transform:translateX(-50%);">80</div>
<div class="t r" style="left:3850.0px;top:1659.0px;font-size:32.3px;transform:translateX(-50%);">100</div>
<div class="t r" style="left:3156.0px;top:1710.0px;font-size:32.3px;transform:translateX(-50%);">ECE</div>
<div class="t r" style="left:3294.0px;top:1710.0px;font-size:32.3px;transform:translateX(-50%);">3.52</div>
<div class="t r" style="left:3406.0px;top:1710.0px;font-size:32.3px;transform:translateX(-50%);">2.87</div>
<div class="t r" style="left:3517.0px;top:1710.0px;font-size:32.3px;transform:translateX(-50%);">2.81</div>
<div class="t r" style="left:3628.0px;top:1710.0px;font-size:32.3px;transform:translateX(-50%);">2.66</div>
<div class="t r" style="left:3739.0px;top:1710.0px;font-size:32.3px;transform:translateX(-50%);">2.53</div>
<div class="t r" style="left:3850.0px;top:1710.0px;font-size:32.3px;transform:translateX(-50%);">2.53</div>
<div class="t r" style="left:3156.0px;top:1746.0px;font-size:32.3px;transform:translateX(-50%);">Adv-Acc</div>
<div class="t r" style="left:3294.0px;top:1746.0px;font-size:32.3px;transform:translateX(-50%);">39.38</div>
<div class="t r" style="left:3406.0px;top:1746.0px;font-size:32.3px;transform:translateX(-50%);">79.29</div>
<div class="t r" style="left:3517.0px;top:1746.0px;font-size:32.3px;transform:translateX(-50%);">80.92</div>
<div class="t r" style="left:3628.0px;top:1746.0px;font-size:32.3px;transform:translateX(-50%);">81.37</div>
<div class="t r" style="left:3739.0px;top:1746.0px;font-size:32.3px;transform:translateX(-50%);">81.28</div>
<div class="t r" style="left:3850.0px;top:1746.0px;font-size:32.3px;transform:translateX(-50%);">81.36</div>
<div class="t r" style="left:3156.0px;top:1781.0px;font-size:32.3px;transform:translateX(-50%);">time (ms)</div>
<div class="t r" style="left:3294.0px;top:1781.0px;font-size:32.3px;transform:translateX(-50%);">1.016</div>
<div class="t r" style="left:3406.0px;top:1781.0px;font-size:32.3px;transform:translateX(-50%);">1.034</div>
<div class="t r" style="left:3517.0px;top:1781.0px;font-size:32.3px;transform:translateX(-50%);">1.088</div>
<div class="t r" style="left:3628.0px;top:1781.0px;font-size:32.3px;transform:translateX(-50%);">1.099</div>
<div class="t r" style="left:3739.0px;top:1781.0px;font-size:32.3px;transform:translateX(-50%);">1.143</div>
<div class="t r" style="left:3850.0px;top:1781.0px;font-size:32.3px;transform:translateX(-50%);">1.163</div>
<div class="t r" style="left:3927.0px;top:1613.0px;font-size:32.3px;word-spacing:0.551px;">Table 6: AAA under adaptive attacks (100 queries)</div>
<div class="ln" style="left:3932px;top:1649.5px;width:649px;height:3px;background:#000"></div>
<div class="ln" style="left:3932px;top:1703.1px;width:649px;height:1.8px;background:#000"></div>
<div class="ln" style="left:3932px;top:1825.0px;width:649px;height:3px;background:#000"></div>
<div class="ln" style="left:4103.2px;top:1662px;width:1.5px;height:35px;background:#000"></div>
<div class="ln" style="left:4103.2px;top:1714px;width:1.5px;height:105px;background:#000"></div>
<div class="t r" style="left:4017.0px;top:1660.0px;font-size:32.3px;transform:translateX(-50%);">Defense</div>
<div class="t r" style="left:4160.0px;top:1660.0px;font-size:32.3px;transform:translateX(-50%);">None</div>
<div class="t r" style="left:4312.0px;top:1660.0px;font-size:32.3px;transform:translateX(-50%);">AAA-linear</div>
<div class="t r" style="left:4495.0px;top:1660.0px;font-size:32.3px;transform:translateX(-50%);">AAA-sine</div>
<div class="t r" style="left:4017.0px;top:1712.0px;font-size:32.3px;transform:translateX(-50%);">Square</div>
<div class="t r" style="left:4160.0px;top:1712.0px;font-size:32.3px;transform:translateX(-50%);">39.38</div>
<div class="t r" style="left:4312.0px;top:1712.0px;font-size:32.3px;transform:translateX(-50%);">81.36</div>
<div class="t r" style="left:4495.0px;top:1712.0px;font-size:32.3px;transform:translateX(-50%);">78.34</div>
<div class="t r" style="left:4017.0px;top:1747.0px;font-size:32.3px;transform:translateX(-50%);">bi-Square</div>
<div class="t r" style="left:4160.0px;top:1747.0px;font-size:32.3px;transform:translateX(-50%);">57.09</div>
<div class="t r" style="left:4312.0px;top:1747.0px;font-size:32.3px;transform:translateX(-50%);">62.91</div>
<div class="t r" style="left:4495.0px;top:1747.0px;font-size:32.3px;transform:translateX(-50%);">76.69</div>
<div class="t r" style="left:4017.0px;top:1783.0px;font-size:32.3px;transform:translateX(-50%);">op-Square</div>
<div class="t r" style="left:4160.0px;top:1783.0px;font-size:32.3px;transform:translateX(-50%);">94.78</div>
<div class="t r" style="left:4312.0px;top:1783.0px;font-size:32.3px;transform:translateX(-50%);">57.31</div>
<div class="t r" style="left:4495.0px;top:1783.0px;font-size:32.3px;transform:translateX(-50%);">76.41</div>
<div class="t s" style="left:3069.0px;top:1875.9px;font-size:45px;color:#c8161e;font-weight:bold;letter-spacing:-0.600px;text-shadow:2px 2px 3px rgba(0,0,0,.35);">Conclusion</div>
<svg style="left:3071px;top:1947.2px" width="25.5" height="25.5" viewBox="0 0 27 27"><path d="M1.2 1.5 L25.5 13.5 L1.2 25.5 L8.5 13.5 Z" fill="#fff" stroke="#000" stroke-width="1.8" stroke-linejoin="miter"/><path d="M8.5 13.5 L25.5 13.5 L1.2 25.5 Z" fill="#000"/></svg>
<div class="t s" style="left:3128.0px;top:1939.8px;font-size:40px;word-spacing:9.988px;">Propose that <span class="b">post-processing could be an effective, user-friendly, and plug-in</span></div>
<div class="t s" style="left:3128.0px;top:1987.8px;font-size:40px;word-spacing:-0.949px;"><span class="b">defense</span> against score-based query attacks.</div>
<svg style="left:3071px;top:2053.2px" width="25.5" height="25.5" viewBox="0 0 27 27"><path d="M1.2 1.5 L25.5 13.5 L1.2 25.5 L8.5 13.5 Z" fill="#fff" stroke="#000" stroke-width="1.8" stroke-linejoin="miter"/><path d="M8.5 13.5 L25.5 13.5 L1.2 25.5 Z" fill="#000"/></svg>
<div class="t s" style="left:3128.0px;top:2045.8px;font-size:40px;word-spacing:9.297px;">Design a defense to <span class="b">attack score-based attackers into incorrect directions</span> by</div>
<div class="t s" style="left:3128.0px;top:2093.8px;font-size:40px;word-spacing:-0.535px;">slightly perturbing the model outputs in model test time.</div>
<svg style="left:3071px;top:2158.2px" width="25.5" height="25.5" viewBox="0 0 27 27"><path d="M1.2 1.5 L25.5 13.5 L1.2 25.5 L8.5 13.5 Z" fill="#fff" stroke="#000" stroke-width="1.8" stroke-linejoin="miter"/><path d="M8.5 13.5 L25.5 13.5 L1.2 25.5 Z" fill="#000"/></svg>
<div class="t s" style="left:3128.0px;top:2150.6px;font-size:40px;word-spacing:11.562px;">Extensive study show AAA outperforms existing defenses significantly in the</div>
<div class="t s" style="left:3128.0px;top:2198.6px;font-size:40px;word-spacing:-1.278px;"><span class="b">accuracy, calibration, protection performance, and speed</span>.</div>
<svg style="left:3071px;top:2263.2px" width="25.5" height="25.5" viewBox="0 0 27 27"><path d="M1.2 1.5 L25.5 13.5 L1.2 25.5 L8.5 13.5 Z" fill="#fff" stroke="#000" stroke-width="1.8" stroke-linejoin="miter"/><path d="M8.5 13.5 L25.5 13.5 L1.2 25.5 Z" fill="#000"/></svg>
<div class="t s" style="left:3128.0px;top:2255.8px;font-size:40px;word-spacing:-0.990px;">AAA cannot mitigate white-box, transfer-based, and decision-based query attacks.</div>
</div>
</body></html>
